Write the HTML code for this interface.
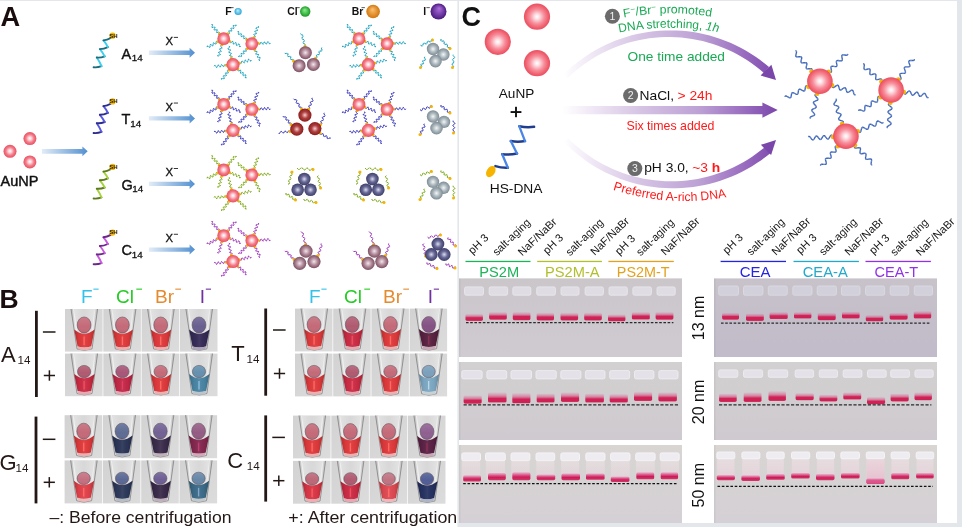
<!DOCTYPE html>
<html><head><meta charset="utf-8"><title>Figure</title>
<style>html,body{margin:0;padding:0;background:#e3e6ea;}body{width:962px;height:527px;overflow:hidden;}svg{display:block;}</style>
</head><body>
<svg width="962" height="527" viewBox="0 0 962 527" font-family="'Liberation Sans', Arial, sans-serif"><defs>
<radialGradient id="gNP" cx="0.5" cy="0.5" r="0.5" fx="0.5" fy="0.48">
 <stop offset="0" stop-color="#ffffff"/><stop offset="0.25" stop-color="#fcd4d9"/><stop offset="0.62" stop-color="#f47c8a"/><stop offset="1" stop-color="#e8505f"/>
</radialGradient>
<radialGradient id="gNPb" cx="0.5" cy="0.5" r="0.5" fx="0.5" fy="0.5">
 <stop offset="0" stop-color="#ffffff"/><stop offset="0.18" stop-color="#fde2e6"/><stop offset="0.55" stop-color="#f78e9b"/><stop offset="0.85" stop-color="#f0606f"/><stop offset="1" stop-color="#ea5062"/>
</radialGradient>
<radialGradient id="gMauve" cx="0.5" cy="0.5" r="0.5" fx="0.5" fy="0.5">
 <stop offset="0" stop-color="#f2e6ec"/><stop offset="0.55" stop-color="#b08898"/><stop offset="1" stop-color="#7c5062"/>
</radialGradient>
<radialGradient id="gDred" cx="0.5" cy="0.5" r="0.5" fx="0.5" fy="0.5">
 <stop offset="0" stop-color="#f4d0d0"/><stop offset="0.5" stop-color="#b04040"/><stop offset="1" stop-color="#8a1c1c"/>
</radialGradient>
<radialGradient id="gDblue" cx="0.5" cy="0.5" r="0.5" fx="0.5" fy="0.5">
 <stop offset="0" stop-color="#dcdcf0"/><stop offset="0.5" stop-color="#6a6a98"/><stop offset="1" stop-color="#3e3e6a"/>
</radialGradient>
<radialGradient id="gGray" cx="0.5" cy="0.5" r="0.5" fx="0.5" fy="0.5">
 <stop offset="0" stop-color="#f4f6f7"/><stop offset="0.55" stop-color="#aab6bc"/><stop offset="1" stop-color="#7e8c94"/>
</radialGradient>
<radialGradient id="gF" cx="0.5" cy="0.5" r="0.5" fx="0.45" fy="0.35"><stop offset="0" stop-color="#bdf0ff"/><stop offset="1" stop-color="#2aa6d8"/></radialGradient>
<radialGradient id="gCl" cx="0.5" cy="0.5" r="0.5" fx="0.45" fy="0.35"><stop offset="0" stop-color="#8af08a"/><stop offset="1" stop-color="#1a9a26"/></radialGradient>
<radialGradient id="gBr" cx="0.5" cy="0.5" r="0.5" fx="0.45" fy="0.35"><stop offset="0" stop-color="#ffc070"/><stop offset="1" stop-color="#d0760c"/></radialGradient>
<radialGradient id="gI" cx="0.5" cy="0.5" r="0.5" fx="0.55" fy="0.3"><stop offset="0" stop-color="#b070e0"/><stop offset="1" stop-color="#4a1a80"/></radialGradient>
<linearGradient id="gArrA" x1="0" x2="1" y1="0" y2="0"><stop offset="0" stop-color="#e2ecf7"/><stop offset="1" stop-color="#5290d0"/></linearGradient>
<linearGradient id="gArrC" x1="0" x2="1" y1="0" y2="0"><stop offset="0" stop-color="#ffffff"/><stop offset="0.15" stop-color="#efe6f4"/><stop offset="1" stop-color="#7a44aa"/></linearGradient>
<linearGradient id="gArcT" gradientUnits="userSpaceOnUse" x1="562" y1="0" x2="778" y2="0"><stop offset="0" stop-color="#ffffff"/><stop offset="0.12" stop-color="#f2ebf7"/><stop offset="0.36" stop-color="#d6c4e4"/><stop offset="0.64" stop-color="#bca0d4"/><stop offset="0.86" stop-color="#9668be"/><stop offset="1" stop-color="#7a46aa"/></linearGradient>

<linearGradient id="gMen" x1="0" x2="0" y1="0" y2="1"><stop offset="0" stop-color="#ffffff" stop-opacity="0.12"/><stop offset="0.6" stop-color="#ffffff" stop-opacity="0"/><stop offset="1" stop-color="#000000" stop-opacity="0.06"/></linearGradient>
<linearGradient id="gLiqShade" x1="0" x2="1" y1="0" y2="0"><stop offset="0" stop-color="#000" stop-opacity="0.22"/><stop offset="0.25" stop-color="#000" stop-opacity="0.03"/><stop offset="0.5" stop-color="#fff" stop-opacity="0.06"/><stop offset="0.75" stop-color="#000" stop-opacity="0.03"/><stop offset="1" stop-color="#000" stop-opacity="0.22"/></linearGradient>
<linearGradient id="gTube" x1="0" x2="1" y1="0" y2="0"><stop offset="0" stop-color="#a8a8a8" stop-opacity="0.6"/><stop offset="0.15" stop-color="#e8e8e8" stop-opacity="0.65"/><stop offset="0.5" stop-color="#dcdcdc" stop-opacity="0.4"/><stop offset="0.85" stop-color="#e8e8e8" stop-opacity="0.65"/><stop offset="1" stop-color="#a8a8a8" stop-opacity="0.6"/></linearGradient>
<linearGradient id="gBg" x1="0" x2="1" y1="0" y2="1"><stop offset="0" stop-color="#d2d2d2"/><stop offset="1" stop-color="#dcdcdc"/></linearGradient>
<path id="tp1" d="M 560,38.8 A 250 250 0 0 1 780,38.8"/><path id="tp2" d="M 555,53.8 A 266 266 0 0 1 785,53.8"/><path id="tp3" d="M 560,164.7 A 230 230 0 0 0 808,164.7"/>
<linearGradient id="gGelL" x1="0" x2="0" y1="0" y2="1"><stop offset="0" stop-color="#cbc6ca"/><stop offset="0.45" stop-color="#ccc8cd"/><stop offset="1" stop-color="#cfcbd1"/></linearGradient>
<linearGradient id="gGelR1" x1="0" x2="0" y1="0" y2="1"><stop offset="0" stop-color="#c8c2ca"/><stop offset="1" stop-color="#c1bbca"/></linearGradient>
<linearGradient id="gGel2" x1="0" x2="0" y1="0" y2="1"><stop offset="0" stop-color="#d3d0d1"/><stop offset="1" stop-color="#cecacf"/></linearGradient>
<linearGradient id="gGel3" x1="0" x2="0" y1="0" y2="1"><stop offset="0" stop-color="#d8d5d3"/><stop offset="1" stop-color="#d4d0d5"/></linearGradient>
<filter id="soft" x="-5%" y="-20%" width="110%" height="140%"><feGaussianBlur stdDeviation="0.45"/></filter>
<linearGradient id="gBand" x1="0" x2="0" y1="0" y2="1"><stop offset="0" stop-color="#dc5a8c" stop-opacity="0.05"/><stop offset="0.3" stop-color="#d84c80" stop-opacity="0.5"/><stop offset="0.55" stop-color="#d02256"/><stop offset="0.9" stop-color="#cc2052"/><stop offset="1" stop-color="#d4446c"/></linearGradient>
<linearGradient id="gBand20" x1="0" x2="0" y1="0" y2="1"><stop offset="0" stop-color="#dc5a8c" stop-opacity="0.05"/><stop offset="0.35" stop-color="#d84c80" stop-opacity="0.55"/><stop offset="0.6" stop-color="#d02256"/><stop offset="0.92" stop-color="#cc2052"/><stop offset="1" stop-color="#d4446c"/></linearGradient>
<linearGradient id="gBand50" x1="0" x2="0" y1="0" y2="1"><stop offset="0" stop-color="#e0609a" stop-opacity="0.3"/><stop offset="0.35" stop-color="#dc3c7a" stop-opacity="0.85"/><stop offset="0.6" stop-color="#cc1e58"/><stop offset="1" stop-color="#d03a68"/></linearGradient>
<linearGradient id="gLane" x1="0" x2="0" y1="0" y2="1"><stop offset="0" stop-color="#ece0e4" stop-opacity="0.7"/><stop offset="1" stop-color="#e8d0d8" stop-opacity="0.75"/></linearGradient>
<linearGradient id="gLane7" x1="0" x2="0" y1="0" y2="1"><stop offset="0" stop-color="#ead6dc"/><stop offset="1" stop-color="#e6c2d0"/></linearGradient>
<linearGradient id="gBand7" x1="0" x2="0" y1="0" y2="1"><stop offset="0" stop-color="#e070a0" stop-opacity="0.3"/><stop offset="0.4" stop-color="#dc5a8e"/><stop offset="1" stop-color="#d84c84"/></linearGradient>
<linearGradient id="gLaneL" x1="0" x2="0" y1="0" y2="1"><stop offset="0" stop-color="#ece2e4" stop-opacity="0.6"/><stop offset="1" stop-color="#e6d2da" stop-opacity="0.6"/></linearGradient>
</defs><rect x="0" y="0" width="962" height="527" fill="#e3e6ea"/>
<rect x="0" y="1" width="457.4" height="526" fill="#ffffff"/>
<rect x="459" y="1" width="498" height="522" fill="#ffffff"/>
<text x="0.4" y="25.9" font-size="27.2" fill="#1a0d0d" font-weight="bold" text-anchor="start">A</text>
<circle cx="29.9" cy="138.6" r="6.5" fill="url(#gNP)"/>
<circle cx="10" cy="151.3" r="6.5" fill="url(#gNP)"/>
<circle cx="29.9" cy="161.9" r="6.5" fill="url(#gNP)"/>
<text x="0.6" y="185.9" font-size="14.4" fill="#111" font-weight="normal" text-anchor="start" textLength="37.8" lengthAdjust="spacingAndGlyphs" stroke="#111" stroke-width="0.45">AuNP</text>
<path d="M41.9,148.9 L82.4,148.9 L82.4,146.4 L87.7,151.3 L82.4,156.2 L82.4,153.7 L41.9,153.7 Z" fill="url(#gArrA)"/>
<path d="M93.6,67.3 Q97.55,67.75 101.5,66.2" fill="none" stroke="#1d6c7c" stroke-width="1.9" stroke-linecap="round"/>
<path d="M101.5,66.2 Q99.95,62.15 96.8,57.5" fill="none" stroke="#3cd0ee" stroke-width="1.9" stroke-linecap="round"/>
<path d="M96.8,57.5 Q100.75,57.9 104.7,56.3" fill="none" stroke="#1d6c7c" stroke-width="1.9" stroke-linecap="round"/>
<path d="M104.7,56.3 Q103.1,53 99.9,49.1" fill="none" stroke="#3cd0ee" stroke-width="1.9" stroke-linecap="round"/>
<path d="M99.9,49.1 Q103.9,49.1 107.9,47.1" fill="none" stroke="#1d6c7c" stroke-width="1.9" stroke-linecap="round"/>
<path d="M107.9,47.1 Q106.5,44.05 103.5,40.4" fill="none" stroke="#3cd0ee" stroke-width="1.9" stroke-linecap="round"/>
<path d="M103.5,40.4 Q107.1,40.2 110.7,38" fill="none" stroke="#1d6c7c" stroke-width="1.9" stroke-linecap="round"/>
<circle cx="112.6" cy="35.7" r="3.1" fill="#f6b800"/>
<text x="109.2" y="37.5" font-size="5.2" fill="#1a1a1a" font-weight="bold" text-anchor="start" textLength="8.4" lengthAdjust="spacingAndGlyphs">SH</text>
<text x="121.5" y="58.5" font-size="14.5" fill="#111" font-weight="normal" text-anchor="start" stroke="#111" stroke-width="0.4">A</text>
<text x="131.7" y="61.2" font-size="9.8" fill="#111" font-weight="normal" text-anchor="start" stroke="#111" stroke-width="0.3">14</text>
<text x="165.5" y="45" font-size="11.3" fill="#111" font-weight="normal" text-anchor="start" stroke="#111" stroke-width="0.3">X</text>
<rect x="173.8" y="36.9" width="4.2" height="0.9" fill="#222"/>
<path d="M148.9,50.5 L189.6,50.5 L189.6,47.7 L195,52.7 L189.6,57.7 L189.6,54.9 L148.9,54.9 Z" fill="url(#gArrA)"/>
<path d="M93.6,133 Q97.55,133.45 101.5,131.9" fill="none" stroke="#2c2c8c" stroke-width="1.9" stroke-linecap="round"/>
<path d="M101.5,131.9 Q99.95,127.85 96.8,123.2" fill="none" stroke="#5858e0" stroke-width="1.9" stroke-linecap="round"/>
<path d="M96.8,123.2 Q100.75,123.6 104.7,122" fill="none" stroke="#2c2c8c" stroke-width="1.9" stroke-linecap="round"/>
<path d="M104.7,122 Q103.1,118.7 99.9,114.8" fill="none" stroke="#5858e0" stroke-width="1.9" stroke-linecap="round"/>
<path d="M99.9,114.8 Q103.9,114.8 107.9,112.8" fill="none" stroke="#2c2c8c" stroke-width="1.9" stroke-linecap="round"/>
<path d="M107.9,112.8 Q106.5,109.75 103.5,106.1" fill="none" stroke="#5858e0" stroke-width="1.9" stroke-linecap="round"/>
<path d="M103.5,106.1 Q107.1,105.9 110.7,103.7" fill="none" stroke="#2c2c8c" stroke-width="1.9" stroke-linecap="round"/>
<circle cx="112.6" cy="101.4" r="3.1" fill="#f6b800"/>
<text x="109.2" y="103.2" font-size="5.2" fill="#1a1a1a" font-weight="bold" text-anchor="start" textLength="8.4" lengthAdjust="spacingAndGlyphs">SH</text>
<text x="121.5" y="124.2" font-size="14.5" fill="#111" font-weight="normal" text-anchor="start" stroke="#111" stroke-width="0.4">T</text>
<text x="130.3" y="126.9" font-size="9.8" fill="#111" font-weight="normal" text-anchor="start" stroke="#111" stroke-width="0.3">14</text>
<text x="165.5" y="110.7" font-size="11.3" fill="#111" font-weight="normal" text-anchor="start" stroke="#111" stroke-width="0.3">X</text>
<rect x="173.8" y="102.6" width="4.2" height="0.9" fill="#222"/>
<path d="M148.9,116.2 L189.6,116.2 L189.6,113.4 L195,118.4 L189.6,123.4 L189.6,120.6 L148.9,120.6 Z" fill="url(#gArrA)"/>
<path d="M93.6,198.5 Q97.55,198.95 101.5,197.4" fill="none" stroke="#5a7a1c" stroke-width="1.9" stroke-linecap="round"/>
<path d="M101.5,197.4 Q99.95,193.35 96.8,188.7" fill="none" stroke="#a6d23c" stroke-width="1.9" stroke-linecap="round"/>
<path d="M96.8,188.7 Q100.75,189.1 104.7,187.5" fill="none" stroke="#5a7a1c" stroke-width="1.9" stroke-linecap="round"/>
<path d="M104.7,187.5 Q103.1,184.2 99.9,180.3" fill="none" stroke="#a6d23c" stroke-width="1.9" stroke-linecap="round"/>
<path d="M99.9,180.3 Q103.9,180.3 107.9,178.3" fill="none" stroke="#5a7a1c" stroke-width="1.9" stroke-linecap="round"/>
<path d="M107.9,178.3 Q106.5,175.25 103.5,171.6" fill="none" stroke="#a6d23c" stroke-width="1.9" stroke-linecap="round"/>
<path d="M103.5,171.6 Q107.1,171.4 110.7,169.2" fill="none" stroke="#5a7a1c" stroke-width="1.9" stroke-linecap="round"/>
<circle cx="112.6" cy="166.9" r="3.1" fill="#f6b800"/>
<text x="109.2" y="168.7" font-size="5.2" fill="#1a1a1a" font-weight="bold" text-anchor="start" textLength="8.4" lengthAdjust="spacingAndGlyphs">SH</text>
<text x="121.5" y="189.7" font-size="14.5" fill="#111" font-weight="normal" text-anchor="start" stroke="#111" stroke-width="0.4">G</text>
<text x="132.3" y="192.4" font-size="9.8" fill="#111" font-weight="normal" text-anchor="start" stroke="#111" stroke-width="0.3">14</text>
<text x="165.5" y="176.2" font-size="11.3" fill="#111" font-weight="normal" text-anchor="start" stroke="#111" stroke-width="0.3">X</text>
<rect x="173.8" y="168.1" width="4.2" height="0.9" fill="#222"/>
<path d="M148.9,181.7 L189.6,181.7 L189.6,178.9 L195,183.9 L189.6,188.9 L189.6,186.1 L148.9,186.1 Z" fill="url(#gArrA)"/>
<path d="M93.6,264.2 Q97.55,264.65 101.5,263.1" fill="none" stroke="#6a2888" stroke-width="1.9" stroke-linecap="round"/>
<path d="M101.5,263.1 Q99.95,259.05 96.8,254.4" fill="none" stroke="#c85ae0" stroke-width="1.9" stroke-linecap="round"/>
<path d="M96.8,254.4 Q100.75,254.8 104.7,253.2" fill="none" stroke="#6a2888" stroke-width="1.9" stroke-linecap="round"/>
<path d="M104.7,253.2 Q103.1,249.9 99.9,246" fill="none" stroke="#c85ae0" stroke-width="1.9" stroke-linecap="round"/>
<path d="M99.9,246 Q103.9,246 107.9,244" fill="none" stroke="#6a2888" stroke-width="1.9" stroke-linecap="round"/>
<path d="M107.9,244 Q106.5,240.95 103.5,237.3" fill="none" stroke="#c85ae0" stroke-width="1.9" stroke-linecap="round"/>
<path d="M103.5,237.3 Q107.1,237.1 110.7,234.9" fill="none" stroke="#6a2888" stroke-width="1.9" stroke-linecap="round"/>
<circle cx="112.6" cy="232.6" r="3.1" fill="#f6b800"/>
<text x="109.2" y="234.4" font-size="5.2" fill="#1a1a1a" font-weight="bold" text-anchor="start" textLength="8.4" lengthAdjust="spacingAndGlyphs">SH</text>
<text x="121.5" y="255.4" font-size="14.5" fill="#111" font-weight="normal" text-anchor="start" stroke="#111" stroke-width="0.4">C</text>
<text x="131.7" y="258.1" font-size="9.8" fill="#111" font-weight="normal" text-anchor="start" stroke="#111" stroke-width="0.3">14</text>
<text x="165.5" y="241.9" font-size="11.3" fill="#111" font-weight="normal" text-anchor="start" stroke="#111" stroke-width="0.3">X</text>
<rect x="173.8" y="233.8" width="4.2" height="0.9" fill="#222"/>
<path d="M148.9,247.4 L189.6,247.4 L189.6,244.6 L195,249.6 L189.6,254.6 L189.6,251.8 L148.9,251.8 Z" fill="url(#gArrA)"/>
<text x="225.2" y="15.2" font-size="10.4" fill="#111" font-weight="bold" text-anchor="start">F</text>
<rect x="230.6" y="7.3" width="3" height="0.8" fill="#333"/>
<circle cx="238.1" cy="11.5" r="3.6" fill="url(#gF)"/>
<text x="287.2" y="15.2" font-size="10.4" fill="#111" font-weight="bold" text-anchor="start">Cl</text>
<rect x="296.3" y="7.3" width="3.4" height="0.8" fill="#333"/>
<circle cx="305.2" cy="11.5" r="5.2" fill="url(#gCl)"/>
<text x="351.7" y="15.2" font-size="10.4" fill="#111" font-weight="bold" text-anchor="start">Br</text>
<rect x="361.5" y="7.3" width="3.4" height="0.8" fill="#333"/>
<circle cx="373.1" cy="11.5" r="6.8" fill="url(#gBr)"/>
<text x="423.3" y="15.2" font-size="10.4" fill="#111" font-weight="bold" text-anchor="start">I</text>
<rect x="426.4" y="7.3" width="3.4" height="0.8" fill="#333"/>
<circle cx="438.5" cy="11.5" r="8" fill="url(#gI)"/>
<path d="M219.02,33.5 L219.27,32.82 L219.34,32.3 L219.12,32.05 L218.6,32.07 L217.89,32.25 L217.19,32.44 L216.67,32.45 L216.44,32.2 L216.52,31.69 L216.77,31.01 L217.03,30.32 L217.1,29.81 L216.88,29.56 L216.36,29.58 L215.65,29.76 L214.95,29.94 L214.42,29.96 L214.2,29.71 L214.27,29.2 L214.53,28.51 L214.79,27.83 L214.86,27.32 L214.63,27.07 L214.11,27.09 L213.41,27.27 L212.7,27.45 L212.18,27.47 L211.96,27.22 L212.03,26.7 L212.29,26.02 L212.54,25.34 L212.61,24.82 L212.39,24.58 L211.87,24.59" fill="none" stroke="#3cd0ee" stroke-width="1" stroke-linecap="round" stroke-linejoin="round"/><path d="M219.02,33.5 L219.27,32.82 L219.34,32.3 L219.12,32.05 L218.6,32.07 L217.89,32.25 L217.19,32.44 L216.67,32.45 L216.44,32.2 L216.52,31.69 L216.77,31.01 L217.03,30.32 L217.1,29.81 L216.88,29.56 L216.36,29.58 L215.65,29.76 L214.95,29.94 L214.42,29.96 L214.2,29.71 L214.27,29.2 L214.53,28.51 L214.79,27.83 L214.86,27.32 L214.63,27.07 L214.11,27.09 L213.41,27.27 L212.7,27.45 L212.18,27.47 L211.96,27.22 L212.03,26.7 L212.29,26.02 L212.54,25.34 L212.61,24.82 L212.39,24.58 L211.87,24.59" fill="none" stroke="#1d6c7c" stroke-width="0.8" stroke-linecap="round" stroke-linejoin="round" stroke-dasharray="0.9 2.1" opacity="0.8"/><path d="M228.2,33.34 L228.91,33.5 L229.43,33.5 L229.65,33.24 L229.56,32.73 L229.28,32.05 L229,31.38 L228.91,30.87 L229.12,30.61 L229.64,30.61 L230.35,30.77 L231.07,30.93 L231.59,30.93 L231.8,30.67 L231.71,30.16 L231.43,29.48 L231.15,28.81 L231.06,28.3 L231.28,28.04 L231.8,28.04 L232.51,28.2 L233.22,28.36 L233.74,28.36 L233.96,28.1 L233.87,27.59 L233.59,26.92 L233.31,26.24 L233.22,25.73 L233.43,25.47 L233.95,25.47 L234.67,25.63 L235.38,25.79 L235.9,25.79 L236.11,25.53 L236.02,25.02" fill="none" stroke="#3cd0ee" stroke-width="1" stroke-linecap="round" stroke-linejoin="round"/><path d="M228.2,33.34 L228.91,33.5 L229.43,33.5 L229.65,33.24 L229.56,32.73 L229.28,32.05 L229,31.38 L228.91,30.87 L229.12,30.61 L229.64,30.61 L230.35,30.77 L231.07,30.93 L231.59,30.93 L231.8,30.67 L231.71,30.16 L231.43,29.48 L231.15,28.81 L231.06,28.3 L231.28,28.04 L231.8,28.04 L232.51,28.2 L233.22,28.36 L233.74,28.36 L233.96,28.1 L233.87,27.59 L233.59,26.92 L233.31,26.24 L233.22,25.73 L233.43,25.47 L233.95,25.47 L234.67,25.63 L235.38,25.79 L235.9,25.79 L236.11,25.53 L236.02,25.02" fill="none" stroke="#1d6c7c" stroke-width="0.8" stroke-linecap="round" stroke-linejoin="round" stroke-dasharray="0.9 2.1" opacity="0.8"/><path d="M230.14,41.44 L230.2,42.16 L230.35,42.66 L230.66,42.79 L231.13,42.55 L231.69,42.09 L232.25,41.63 L232.71,41.39 L233.02,41.52 L233.17,42.02 L233.23,42.75 L233.29,43.47 L233.44,43.97 L233.75,44.1 L234.21,43.86 L234.77,43.4 L235.33,42.94 L235.8,42.7 L236.11,42.83 L236.26,43.33 L236.32,44.06 L236.37,44.78 L236.52,45.28 L236.83,45.41 L237.3,45.17 L237.86,44.71 L238.42,44.25 L238.89,44.01 L239.19,44.14 L239.35,44.64 L239.4,45.37 L239.46,46.09 L239.61,46.59 L239.92,46.72 L240.38,46.48" fill="none" stroke="#3cd0ee" stroke-width="1" stroke-linecap="round" stroke-linejoin="round"/><path d="M230.14,41.44 L230.2,42.16 L230.35,42.66 L230.66,42.79 L231.13,42.55 L231.69,42.09 L232.25,41.63 L232.71,41.39 L233.02,41.52 L233.17,42.02 L233.23,42.75 L233.29,43.47 L233.44,43.97 L233.75,44.1 L234.21,43.86 L234.77,43.4 L235.33,42.94 L235.8,42.7 L236.11,42.83 L236.26,43.33 L236.32,44.06 L236.37,44.78 L236.52,45.28 L236.83,45.41 L237.3,45.17 L237.86,44.71 L238.42,44.25 L238.89,44.01 L239.19,44.14 L239.35,44.64 L239.4,45.37 L239.46,46.09 L239.61,46.59 L239.92,46.72 L240.38,46.48" fill="none" stroke="#1d6c7c" stroke-width="0.8" stroke-linecap="round" stroke-linejoin="round" stroke-dasharray="0.9 2.1" opacity="0.8"/><path d="M221.77,45.43 L221.06,45.57 L220.58,45.79 L220.49,46.11 L220.78,46.54 L221.31,47.04 L221.84,47.54 L222.13,47.97 L222.04,48.3 L221.56,48.51 L220.85,48.65 L220.13,48.8 L219.66,49.01 L219.56,49.33 L219.86,49.76 L220.38,50.26 L220.91,50.76 L221.21,51.2 L221.11,51.52 L220.64,51.73 L219.92,51.87 L219.21,52.02 L218.73,52.23 L218.64,52.55 L218.93,52.99 L219.46,53.49 L219.99,53.99 L220.28,54.42 L220.19,54.74 L219.71,54.95 L219,55.1 L218.28,55.24 L217.81,55.45 L217.72,55.78 L218.01,56.21" fill="none" stroke="#3cd0ee" stroke-width="1" stroke-linecap="round" stroke-linejoin="round"/><path d="M221.77,45.43 L221.06,45.57 L220.58,45.79 L220.49,46.11 L220.78,46.54 L221.31,47.04 L221.84,47.54 L222.13,47.97 L222.04,48.3 L221.56,48.51 L220.85,48.65 L220.13,48.8 L219.66,49.01 L219.56,49.33 L219.86,49.76 L220.38,50.26 L220.91,50.76 L221.21,51.2 L221.11,51.52 L220.64,51.73 L219.92,51.87 L219.21,52.02 L218.73,52.23 L218.64,52.55 L218.93,52.99 L219.46,53.49 L219.99,53.99 L220.28,54.42 L220.19,54.74 L219.71,54.95 L219,55.1 L218.28,55.24 L217.81,55.45 L217.72,55.78 L218.01,56.21" fill="none" stroke="#1d6c7c" stroke-width="0.8" stroke-linecap="round" stroke-linejoin="round" stroke-dasharray="0.9 2.1" opacity="0.8"/><path d="M217.52,41.99 L216.92,41.57 L216.44,41.38 L216.14,41.53 L216.03,42.05 L216.04,42.77 L216.05,43.5 L215.94,44.01 L215.64,44.17 L215.16,43.97 L214.56,43.56 L213.96,43.15 L213.48,42.95 L213.18,43.11 L213.07,43.62 L213.08,44.35 L213.09,45.08 L212.98,45.59 L212.68,45.74 L212.2,45.55 L211.6,45.13 L211,44.72 L210.52,44.53 L210.22,44.68 L210.11,45.19 L210.12,45.92 L210.13,46.65 L210.02,47.16 L209.72,47.32 L209.24,47.12 L208.64,46.71 L208.04,46.3 L207.55,46.1 L207.26,46.26 L207.15,46.77" fill="none" stroke="#3cd0ee" stroke-width="1" stroke-linecap="round" stroke-linejoin="round"/><path d="M217.52,41.99 L216.92,41.57 L216.44,41.38 L216.14,41.53 L216.03,42.05 L216.04,42.77 L216.05,43.5 L215.94,44.01 L215.64,44.17 L215.16,43.97 L214.56,43.56 L213.96,43.15 L213.48,42.95 L213.18,43.11 L213.07,43.62 L213.08,44.35 L213.09,45.08 L212.98,45.59 L212.68,45.74 L212.2,45.55 L211.6,45.13 L211,44.72 L210.52,44.53 L210.22,44.68 L210.11,45.19 L210.12,45.92 L210.13,46.65 L210.02,47.16 L209.72,47.32 L209.24,47.12 L208.64,46.71 L208.04,46.3 L207.55,46.1 L207.26,46.26 L207.15,46.77" fill="none" stroke="#1d6c7c" stroke-width="0.8" stroke-linecap="round" stroke-linejoin="round" stroke-dasharray="0.9 2.1" opacity="0.8"/><circle cx="219.42" cy="33.94" r="1.5" fill="#f6b400"/><circle cx="227.81" cy="33.8" r="1.5" fill="#f6b400"/><circle cx="229.59" cy="41.2" r="1.5" fill="#f6b400"/><circle cx="221.94" cy="44.85" r="1.5" fill="#f6b400"/><circle cx="218.05" cy="41.7" r="1.5" fill="#f6b400"/><circle cx="223.7" cy="38.7" r="6.4" fill="url(#gNP)"/><path d="M246.36,39.29 L246.51,38.58 L246.5,38.06 L246.24,37.85 L245.72,37.95 L245.06,38.24 L244.39,38.53 L243.88,38.63 L243.62,38.42 L243.61,37.9 L243.75,37.18 L243.9,36.47 L243.89,35.95 L243.63,35.74 L243.12,35.84 L242.45,36.13 L241.78,36.42 L241.27,36.52 L241.01,36.31 L241,35.79 L241.15,35.07 L241.29,34.36 L241.29,33.84 L241.03,33.63 L240.51,33.73 L239.85,34.02 L239.18,34.31 L238.67,34.41 L238.41,34.2 L238.4,33.68 L238.54,32.96 L238.69,32.25 L238.68,31.73 L238.42,31.52 L237.91,31.62" fill="none" stroke="#3cd0ee" stroke-width="1" stroke-linecap="round" stroke-linejoin="round"/><path d="M246.36,39.29 L246.51,38.58 L246.5,38.06 L246.24,37.85 L245.72,37.95 L245.06,38.24 L244.39,38.53 L243.88,38.63 L243.62,38.42 L243.61,37.9 L243.75,37.18 L243.9,36.47 L243.89,35.95 L243.63,35.74 L243.12,35.84 L242.45,36.13 L241.78,36.42 L241.27,36.52 L241.01,36.31 L241,35.79 L241.15,35.07 L241.29,34.36 L241.29,33.84 L241.03,33.63 L240.51,33.73 L239.85,34.02 L239.18,34.31 L238.67,34.41 L238.41,34.2 L238.4,33.68 L238.54,32.96 L238.69,32.25 L238.68,31.73 L238.42,31.52 L237.91,31.62" fill="none" stroke="#1d6c7c" stroke-width="0.8" stroke-linecap="round" stroke-linejoin="round" stroke-dasharray="0.9 2.1" opacity="0.8"/><path d="M254.08,37.08 L254.8,36.97 L255.29,36.79 L255.4,36.47 L255.13,36.02 L254.62,35.5 L254.12,34.97 L253.85,34.52 L253.96,34.2 L254.45,34.02 L255.17,33.91 L255.89,33.8 L256.38,33.62 L256.49,33.3 L256.22,32.85 L255.72,32.33 L255.21,31.8 L254.95,31.35 L255.05,31.03 L255.54,30.85 L256.26,30.74 L256.98,30.63 L257.47,30.45 L257.58,30.13 L257.31,29.68 L256.81,29.16 L256.31,28.63 L256.04,28.18 L256.15,27.86 L256.63,27.68 L257.35,27.57 L258.07,27.46 L258.56,27.28 L258.67,26.96 L258.4,26.51" fill="none" stroke="#3cd0ee" stroke-width="1" stroke-linecap="round" stroke-linejoin="round"/><path d="M254.08,37.08 L254.8,36.97 L255.29,36.79 L255.4,36.47 L255.13,36.02 L254.62,35.5 L254.12,34.97 L253.85,34.52 L253.96,34.2 L254.45,34.02 L255.17,33.91 L255.89,33.8 L256.38,33.62 L256.49,33.3 L256.22,32.85 L255.72,32.33 L255.21,31.8 L254.95,31.35 L255.05,31.03 L255.54,30.85 L256.26,30.74 L256.98,30.63 L257.47,30.45 L257.58,30.13 L257.31,29.68 L256.81,29.16 L256.31,28.63 L256.04,28.18 L256.15,27.86 L256.63,27.68 L257.35,27.57 L258.07,27.46 L258.56,27.28 L258.67,26.96 L258.4,26.51" fill="none" stroke="#1d6c7c" stroke-width="0.8" stroke-linecap="round" stroke-linejoin="round" stroke-dasharray="0.9 2.1" opacity="0.8"/><path d="M258.79,43.33 L259.16,43.96 L259.51,44.34 L259.85,44.33 L260.16,43.91 L260.46,43.25 L260.77,42.58 L261.08,42.17 L261.41,42.15 L261.77,42.53 L262.14,43.16 L262.51,43.79 L262.86,44.17 L263.2,44.15 L263.51,43.73 L263.81,43.07 L264.11,42.41 L264.43,41.99 L264.76,41.97 L265.12,42.35 L265.49,42.98 L265.86,43.61 L266.21,43.99 L266.55,43.97 L266.86,43.56 L267.16,42.89 L267.46,42.23 L267.78,41.82 L268.11,41.8 L268.47,42.18 L268.84,42.81 L269.2,43.44 L269.56,43.82 L269.89,43.8 L270.21,43.38" fill="none" stroke="#3cd0ee" stroke-width="1" stroke-linecap="round" stroke-linejoin="round"/><path d="M258.79,43.33 L259.16,43.96 L259.51,44.34 L259.85,44.33 L260.16,43.91 L260.46,43.25 L260.77,42.58 L261.08,42.17 L261.41,42.15 L261.77,42.53 L262.14,43.16 L262.51,43.79 L262.86,44.17 L263.2,44.15 L263.51,43.73 L263.81,43.07 L264.11,42.41 L264.43,41.99 L264.76,41.97 L265.12,42.35 L265.49,42.98 L265.86,43.61 L266.21,43.99 L266.55,43.97 L266.86,43.56 L267.16,42.89 L267.46,42.23 L267.78,41.82 L268.11,41.8 L268.47,42.18 L268.84,42.81 L269.2,43.44 L269.56,43.82 L269.89,43.8 L270.21,43.38" fill="none" stroke="#1d6c7c" stroke-width="0.8" stroke-linecap="round" stroke-linejoin="round" stroke-dasharray="0.9 2.1" opacity="0.8"/><path d="M254.98,49.94 L254.55,50.53 L254.35,51.01 L254.5,51.31 L255.01,51.43 L255.74,51.43 L256.47,51.44 L256.98,51.55 L257.13,51.85 L256.92,52.33 L256.5,52.92 L256.08,53.52 L255.87,54 L256.02,54.3 L256.53,54.41 L257.26,54.42 L257.99,54.42 L258.5,54.54 L258.65,54.84 L258.45,55.32 L258.02,55.91 L257.6,56.5 L257.39,56.98 L257.55,57.28 L258.06,57.4 L258.78,57.41 L259.51,57.41 L260.02,57.53 L260.17,57.83 L259.97,58.31 L259.54,58.9 L259.12,59.49 L258.92,59.97 L259.07,60.27 L259.58,60.39" fill="none" stroke="#3cd0ee" stroke-width="1" stroke-linecap="round" stroke-linejoin="round"/><path d="M254.98,49.94 L254.55,50.53 L254.35,51.01 L254.5,51.31 L255.01,51.43 L255.74,51.43 L256.47,51.44 L256.98,51.55 L257.13,51.85 L256.92,52.33 L256.5,52.92 L256.08,53.52 L255.87,54 L256.02,54.3 L256.53,54.41 L257.26,54.42 L257.99,54.42 L258.5,54.54 L258.65,54.84 L258.45,55.32 L258.02,55.91 L257.6,56.5 L257.39,56.98 L257.55,57.28 L258.06,57.4 L258.78,57.41 L259.51,57.41 L260.02,57.53 L260.17,57.83 L259.97,58.31 L259.54,58.9 L259.12,59.49 L258.92,59.97 L259.07,60.27 L259.58,60.39" fill="none" stroke="#1d6c7c" stroke-width="0.8" stroke-linecap="round" stroke-linejoin="round" stroke-dasharray="0.9 2.1" opacity="0.8"/><path d="M247.03,48.82 L246.32,48.62 L245.8,48.6 L245.57,48.84 L245.64,49.36 L245.88,50.05 L246.13,50.73 L246.19,51.25 L245.96,51.49 L245.44,51.47 L244.74,51.27 L244.04,51.08 L243.52,51.05 L243.29,51.29 L243.35,51.81 L243.6,52.5 L243.84,53.18 L243.9,53.7 L243.68,53.95 L243.15,53.92 L242.45,53.72 L241.75,53.53 L241.23,53.5 L241,53.75 L241.07,54.26 L241.31,54.95 L241.55,55.64 L241.62,56.15 L241.39,56.4 L240.87,56.37 L240.17,56.18 L239.46,55.98 L238.94,55.95 L238.71,56.2 L238.78,56.72" fill="none" stroke="#3cd0ee" stroke-width="1" stroke-linecap="round" stroke-linejoin="round"/><path d="M247.03,48.82 L246.32,48.62 L245.8,48.6 L245.57,48.84 L245.64,49.36 L245.88,50.05 L246.13,50.73 L246.19,51.25 L245.96,51.49 L245.44,51.47 L244.74,51.27 L244.04,51.08 L243.52,51.05 L243.29,51.29 L243.35,51.81 L243.6,52.5 L243.84,53.18 L243.9,53.7 L243.68,53.95 L243.15,53.92 L242.45,53.72 L241.75,53.53 L241.23,53.5 L241,53.75 L241.07,54.26 L241.31,54.95 L241.55,55.64 L241.62,56.15 L241.39,56.4 L240.87,56.37 L240.17,56.18 L239.46,55.98 L238.94,55.95 L238.71,56.2 L238.78,56.72" fill="none" stroke="#1d6c7c" stroke-width="0.8" stroke-linecap="round" stroke-linejoin="round" stroke-dasharray="0.9 2.1" opacity="0.8"/><circle cx="246.83" cy="39.67" r="1.5" fill="#f6b400"/><circle cx="253.88" cy="37.65" r="1.5" fill="#f6b400"/><circle cx="258.19" cy="43.37" r="1.5" fill="#f6b400"/><circle cx="254.71" cy="49.4" r="1.5" fill="#f6b400"/><circle cx="247.44" cy="48.38" r="1.5" fill="#f6b400"/><circle cx="251.8" cy="43.7" r="6.4" fill="url(#gNP)"/><path d="M231.26,57.61 L231.8,57.13 L232.11,56.71 L232.03,56.38 L231.56,56.16 L230.85,55.99 L230.14,55.82 L229.68,55.59 L229.59,55.26 L229.9,54.84 L230.45,54.36 L230.99,53.88 L231.3,53.46 L231.22,53.13 L230.75,52.9 L230.04,52.73 L229.33,52.56 L228.86,52.34 L228.78,52.01 L229.09,51.59 L229.64,51.11 L230.18,50.63 L230.49,50.2 L230.41,49.88 L229.94,49.65 L229.23,49.48 L228.52,49.31 L228.05,49.08 L227.97,48.76 L228.28,48.34 L228.82,47.85 L229.37,47.37 L229.68,46.95 L229.6,46.62 L229.13,46.4" fill="none" stroke="#3cd0ee" stroke-width="1" stroke-linecap="round" stroke-linejoin="round"/><path d="M231.26,57.61 L231.8,57.13 L232.11,56.71 L232.03,56.38 L231.56,56.16 L230.85,55.99 L230.14,55.82 L229.68,55.59 L229.59,55.26 L229.9,54.84 L230.45,54.36 L230.99,53.88 L231.3,53.46 L231.22,53.13 L230.75,52.9 L230.04,52.73 L229.33,52.56 L228.86,52.34 L228.78,52.01 L229.09,51.59 L229.64,51.11 L230.18,50.63 L230.49,50.2 L230.41,49.88 L229.94,49.65 L229.23,49.48 L228.52,49.31 L228.05,49.08 L227.97,48.76 L228.28,48.34 L228.82,47.85 L229.37,47.37 L229.68,46.95 L229.6,46.62 L229.13,46.4" fill="none" stroke="#1d6c7c" stroke-width="0.8" stroke-linecap="round" stroke-linejoin="round" stroke-dasharray="0.9 2.1" opacity="0.8"/><path d="M239.95,62.74 L240.45,63.27 L240.87,63.57 L241.2,63.49 L241.42,63.01 L241.57,62.3 L241.73,61.59 L241.95,61.12 L242.27,61.03 L242.7,61.33 L243.19,61.87 L243.68,62.41 L244.11,62.71 L244.44,62.62 L244.66,62.15 L244.81,61.43 L244.97,60.72 L245.19,60.25 L245.51,60.16 L245.94,60.46 L246.43,61 L246.92,61.54 L247.35,61.84 L247.67,61.75 L247.89,61.28 L248.05,60.57 L248.21,59.86 L248.43,59.38 L248.75,59.3 L249.18,59.6 L249.67,60.13 L250.16,60.67 L250.59,60.97 L250.91,60.88 L251.13,60.41" fill="none" stroke="#3cd0ee" stroke-width="1" stroke-linecap="round" stroke-linejoin="round"/><path d="M239.95,62.74 L240.45,63.27 L240.87,63.57 L241.2,63.49 L241.42,63.01 L241.57,62.3 L241.73,61.59 L241.95,61.12 L242.27,61.03 L242.7,61.33 L243.19,61.87 L243.68,62.41 L244.11,62.71 L244.44,62.62 L244.66,62.15 L244.81,61.43 L244.97,60.72 L245.19,60.25 L245.51,60.16 L245.94,60.46 L246.43,61 L246.92,61.54 L247.35,61.84 L247.67,61.75 L247.89,61.28 L248.05,60.57 L248.21,59.86 L248.43,59.38 L248.75,59.3 L249.18,59.6 L249.67,60.13 L250.16,60.67 L250.59,60.97 L250.91,60.88 L251.13,60.41" fill="none" stroke="#1d6c7c" stroke-width="0.8" stroke-linecap="round" stroke-linejoin="round" stroke-dasharray="0.9 2.1" opacity="0.8"/><path d="M238.27,69.51 L238.07,70.21 L238.04,70.73 L238.29,70.96 L238.81,70.9 L239.49,70.65 L240.18,70.41 L240.7,70.35 L240.94,70.57 L240.91,71.1 L240.72,71.8 L240.52,72.5 L240.49,73.02 L240.74,73.25 L241.26,73.18 L241.94,72.94 L242.63,72.7 L243.15,72.63 L243.39,72.86 L243.37,73.38 L243.17,74.08 L242.97,74.79 L242.95,75.31 L243.19,75.53 L243.71,75.47 L244.4,75.23 L245.08,74.98 L245.6,74.92 L245.85,75.15 L245.82,75.67 L245.62,76.37 L245.43,77.07 L245.4,77.59 L245.64,77.82 L246.16,77.76" fill="none" stroke="#3cd0ee" stroke-width="1" stroke-linecap="round" stroke-linejoin="round"/><path d="M238.27,69.51 L238.07,70.21 L238.04,70.73 L238.29,70.96 L238.81,70.9 L239.49,70.65 L240.18,70.41 L240.7,70.35 L240.94,70.57 L240.91,71.1 L240.72,71.8 L240.52,72.5 L240.49,73.02 L240.74,73.25 L241.26,73.18 L241.94,72.94 L242.63,72.7 L243.15,72.63 L243.39,72.86 L243.37,73.38 L243.17,74.08 L242.97,74.79 L242.95,75.31 L243.19,75.53 L243.71,75.47 L244.4,75.23 L245.08,74.98 L245.6,74.92 L245.85,75.15 L245.82,75.67 L245.62,76.37 L245.43,77.07 L245.4,77.59 L245.64,77.82 L246.16,77.76" fill="none" stroke="#1d6c7c" stroke-width="0.8" stroke-linecap="round" stroke-linejoin="round" stroke-dasharray="0.9 2.1" opacity="0.8"/><path d="M228.77,70.42 L228.05,70.32 L227.53,70.35 L227.33,70.62 L227.46,71.13 L227.78,71.78 L228.11,72.43 L228.23,72.94 L228.04,73.21 L227.52,73.25 L226.8,73.14 L226.08,73.03 L225.56,73.07 L225.36,73.34 L225.49,73.84 L225.81,74.49 L226.14,75.15 L226.26,75.65 L226.07,75.92 L225.55,75.96 L224.83,75.85 L224.11,75.74 L223.59,75.78 L223.39,76.05 L223.51,76.56 L223.84,77.21 L224.17,77.86 L224.29,78.36 L224.1,78.64 L223.58,78.67 L222.86,78.56 L222.14,78.45 L221.61,78.49 L221.42,78.76 L221.54,79.27" fill="none" stroke="#3cd0ee" stroke-width="1" stroke-linecap="round" stroke-linejoin="round"/><path d="M228.77,70.42 L228.05,70.32 L227.53,70.35 L227.33,70.62 L227.46,71.13 L227.78,71.78 L228.11,72.43 L228.23,72.94 L228.04,73.21 L227.52,73.25 L226.8,73.14 L226.08,73.03 L225.56,73.07 L225.36,73.34 L225.49,73.84 L225.81,74.49 L226.14,75.15 L226.26,75.65 L226.07,75.92 L225.55,75.96 L224.83,75.85 L224.11,75.74 L223.59,75.78 L223.39,76.05 L223.51,76.56 L223.84,77.21 L224.17,77.86 L224.29,78.36 L224.1,78.64 L223.58,78.67 L222.86,78.56 L222.14,78.45 L221.61,78.49 L221.42,78.76 L221.54,79.27" fill="none" stroke="#1d6c7c" stroke-width="0.8" stroke-linecap="round" stroke-linejoin="round" stroke-dasharray="0.9 2.1" opacity="0.8"/><path d="M225.84,65.35 L225.44,64.74 L225.06,64.38 L224.73,64.42 L224.44,64.85 L224.17,65.53 L223.91,66.21 L223.61,66.64 L223.28,66.67 L222.91,66.31 L222.5,65.7 L222.1,65.1 L221.73,64.73 L221.4,64.77 L221.1,65.2 L220.84,65.88 L220.57,66.56 L220.28,66.99 L219.95,67.02 L219.57,66.66 L219.17,66.05 L218.77,65.45 L218.39,65.08 L218.06,65.12 L217.77,65.55 L217.5,66.23 L217.24,66.91 L216.95,67.34 L216.61,67.37 L216.24,67.01 L215.84,66.4 L215.43,65.8 L215.06,65.43 L214.73,65.47 L214.43,65.9" fill="none" stroke="#3cd0ee" stroke-width="1" stroke-linecap="round" stroke-linejoin="round"/><path d="M225.84,65.35 L225.44,64.74 L225.06,64.38 L224.73,64.42 L224.44,64.85 L224.17,65.53 L223.91,66.21 L223.61,66.64 L223.28,66.67 L222.91,66.31 L222.5,65.7 L222.1,65.1 L221.73,64.73 L221.4,64.77 L221.1,65.2 L220.84,65.88 L220.57,66.56 L220.28,66.99 L219.95,67.02 L219.57,66.66 L219.17,66.05 L218.77,65.45 L218.39,65.08 L218.06,65.12 L217.77,65.55 L217.5,66.23 L217.24,66.91 L216.95,67.34 L216.61,67.37 L216.24,67.01 L215.84,66.4 L215.43,65.8 L215.06,65.43 L214.73,65.47 L214.43,65.9" fill="none" stroke="#1d6c7c" stroke-width="0.8" stroke-linecap="round" stroke-linejoin="round" stroke-dasharray="0.9 2.1" opacity="0.8"/><circle cx="231.4" cy="58.2" r="1.5" fill="#f6b400"/><circle cx="239.38" cy="62.89" r="1.5" fill="#f6b400"/><circle cx="237.83" cy="69.1" r="1.5" fill="#f6b400"/><circle cx="229.12" cy="69.94" r="1.5" fill="#f6b400"/><circle cx="226.44" cy="65.29" r="1.5" fill="#f6b400"/><circle cx="233" cy="64.6" r="6.6" fill="url(#gNP)"/>
<path d="M354.32,33.5 L354.57,32.82 L354.64,32.3 L354.42,32.05 L353.9,32.07 L353.19,32.25 L352.49,32.44 L351.97,32.45 L351.74,32.2 L351.82,31.69 L352.07,31.01 L352.33,30.32 L352.4,29.81 L352.18,29.56 L351.66,29.58 L350.95,29.76 L350.25,29.94 L349.72,29.96 L349.5,29.71 L349.57,29.2 L349.83,28.51 L350.09,27.83 L350.16,27.32 L349.93,27.07 L349.41,27.09 L348.71,27.27 L348,27.45 L347.48,27.47 L347.26,27.22 L347.33,26.7 L347.59,26.02 L347.84,25.34 L347.91,24.82 L347.69,24.58 L347.17,24.59" fill="none" stroke="#3cd0ee" stroke-width="1" stroke-linecap="round" stroke-linejoin="round"/><path d="M354.32,33.5 L354.57,32.82 L354.64,32.3 L354.42,32.05 L353.9,32.07 L353.19,32.25 L352.49,32.44 L351.97,32.45 L351.74,32.2 L351.82,31.69 L352.07,31.01 L352.33,30.32 L352.4,29.81 L352.18,29.56 L351.66,29.58 L350.95,29.76 L350.25,29.94 L349.72,29.96 L349.5,29.71 L349.57,29.2 L349.83,28.51 L350.09,27.83 L350.16,27.32 L349.93,27.07 L349.41,27.09 L348.71,27.27 L348,27.45 L347.48,27.47 L347.26,27.22 L347.33,26.7 L347.59,26.02 L347.84,25.34 L347.91,24.82 L347.69,24.58 L347.17,24.59" fill="none" stroke="#1d6c7c" stroke-width="0.8" stroke-linecap="round" stroke-linejoin="round" stroke-dasharray="0.9 2.1" opacity="0.8"/><path d="M363.5,33.34 L364.21,33.5 L364.73,33.5 L364.95,33.24 L364.86,32.73 L364.58,32.05 L364.3,31.38 L364.21,30.87 L364.42,30.61 L364.94,30.61 L365.65,30.77 L366.37,30.93 L366.89,30.93 L367.1,30.67 L367.01,30.16 L366.73,29.48 L366.45,28.81 L366.36,28.3 L366.58,28.04 L367.1,28.04 L367.81,28.2 L368.52,28.36 L369.04,28.36 L369.26,28.1 L369.17,27.59 L368.89,26.92 L368.61,26.24 L368.52,25.73 L368.73,25.47 L369.25,25.47 L369.97,25.63 L370.68,25.79 L371.2,25.79 L371.41,25.53 L371.32,25.02" fill="none" stroke="#3cd0ee" stroke-width="1" stroke-linecap="round" stroke-linejoin="round"/><path d="M363.5,33.34 L364.21,33.5 L364.73,33.5 L364.95,33.24 L364.86,32.73 L364.58,32.05 L364.3,31.38 L364.21,30.87 L364.42,30.61 L364.94,30.61 L365.65,30.77 L366.37,30.93 L366.89,30.93 L367.1,30.67 L367.01,30.16 L366.73,29.48 L366.45,28.81 L366.36,28.3 L366.58,28.04 L367.1,28.04 L367.81,28.2 L368.52,28.36 L369.04,28.36 L369.26,28.1 L369.17,27.59 L368.89,26.92 L368.61,26.24 L368.52,25.73 L368.73,25.47 L369.25,25.47 L369.97,25.63 L370.68,25.79 L371.2,25.79 L371.41,25.53 L371.32,25.02" fill="none" stroke="#1d6c7c" stroke-width="0.8" stroke-linecap="round" stroke-linejoin="round" stroke-dasharray="0.9 2.1" opacity="0.8"/><path d="M365.44,41.44 L365.5,42.16 L365.65,42.66 L365.96,42.79 L366.43,42.55 L366.99,42.09 L367.55,41.63 L368.01,41.39 L368.32,41.52 L368.47,42.02 L368.53,42.75 L368.59,43.47 L368.74,43.97 L369.05,44.1 L369.51,43.86 L370.07,43.4 L370.63,42.94 L371.1,42.7 L371.41,42.83 L371.56,43.33 L371.62,44.06 L371.67,44.78 L371.82,45.28 L372.13,45.41 L372.6,45.17 L373.16,44.71 L373.72,44.25 L374.19,44.01 L374.49,44.14 L374.65,44.64 L374.7,45.37 L374.76,46.09 L374.91,46.59 L375.22,46.72 L375.68,46.48" fill="none" stroke="#3cd0ee" stroke-width="1" stroke-linecap="round" stroke-linejoin="round"/><path d="M365.44,41.44 L365.5,42.16 L365.65,42.66 L365.96,42.79 L366.43,42.55 L366.99,42.09 L367.55,41.63 L368.01,41.39 L368.32,41.52 L368.47,42.02 L368.53,42.75 L368.59,43.47 L368.74,43.97 L369.05,44.1 L369.51,43.86 L370.07,43.4 L370.63,42.94 L371.1,42.7 L371.41,42.83 L371.56,43.33 L371.62,44.06 L371.67,44.78 L371.82,45.28 L372.13,45.41 L372.6,45.17 L373.16,44.71 L373.72,44.25 L374.19,44.01 L374.49,44.14 L374.65,44.64 L374.7,45.37 L374.76,46.09 L374.91,46.59 L375.22,46.72 L375.68,46.48" fill="none" stroke="#1d6c7c" stroke-width="0.8" stroke-linecap="round" stroke-linejoin="round" stroke-dasharray="0.9 2.1" opacity="0.8"/><path d="M357.07,45.43 L356.36,45.57 L355.88,45.79 L355.79,46.11 L356.08,46.54 L356.61,47.04 L357.14,47.54 L357.43,47.97 L357.34,48.3 L356.86,48.51 L356.15,48.65 L355.43,48.8 L354.96,49.01 L354.86,49.33 L355.16,49.76 L355.68,50.26 L356.21,50.76 L356.51,51.2 L356.41,51.52 L355.94,51.73 L355.22,51.87 L354.51,52.02 L354.03,52.23 L353.94,52.55 L354.23,52.99 L354.76,53.49 L355.29,53.99 L355.58,54.42 L355.49,54.74 L355.01,54.95 L354.3,55.1 L353.58,55.24 L353.11,55.45 L353.02,55.78 L353.31,56.21" fill="none" stroke="#3cd0ee" stroke-width="1" stroke-linecap="round" stroke-linejoin="round"/><path d="M357.07,45.43 L356.36,45.57 L355.88,45.79 L355.79,46.11 L356.08,46.54 L356.61,47.04 L357.14,47.54 L357.43,47.97 L357.34,48.3 L356.86,48.51 L356.15,48.65 L355.43,48.8 L354.96,49.01 L354.86,49.33 L355.16,49.76 L355.68,50.26 L356.21,50.76 L356.51,51.2 L356.41,51.52 L355.94,51.73 L355.22,51.87 L354.51,52.02 L354.03,52.23 L353.94,52.55 L354.23,52.99 L354.76,53.49 L355.29,53.99 L355.58,54.42 L355.49,54.74 L355.01,54.95 L354.3,55.1 L353.58,55.24 L353.11,55.45 L353.02,55.78 L353.31,56.21" fill="none" stroke="#1d6c7c" stroke-width="0.8" stroke-linecap="round" stroke-linejoin="round" stroke-dasharray="0.9 2.1" opacity="0.8"/><path d="M352.82,41.99 L352.22,41.57 L351.74,41.38 L351.44,41.53 L351.33,42.05 L351.34,42.77 L351.35,43.5 L351.24,44.01 L350.94,44.17 L350.46,43.97 L349.86,43.56 L349.26,43.15 L348.78,42.95 L348.48,43.11 L348.37,43.62 L348.38,44.35 L348.39,45.08 L348.28,45.59 L347.98,45.74 L347.5,45.55 L346.9,45.13 L346.3,44.72 L345.82,44.53 L345.52,44.68 L345.41,45.19 L345.42,45.92 L345.43,46.65 L345.32,47.16 L345.02,47.32 L344.54,47.12 L343.94,46.71 L343.34,46.3 L342.85,46.1 L342.56,46.26 L342.45,46.77" fill="none" stroke="#3cd0ee" stroke-width="1" stroke-linecap="round" stroke-linejoin="round"/><path d="M352.82,41.99 L352.22,41.57 L351.74,41.38 L351.44,41.53 L351.33,42.05 L351.34,42.77 L351.35,43.5 L351.24,44.01 L350.94,44.17 L350.46,43.97 L349.86,43.56 L349.26,43.15 L348.78,42.95 L348.48,43.11 L348.37,43.62 L348.38,44.35 L348.39,45.08 L348.28,45.59 L347.98,45.74 L347.5,45.55 L346.9,45.13 L346.3,44.72 L345.82,44.53 L345.52,44.68 L345.41,45.19 L345.42,45.92 L345.43,46.65 L345.32,47.16 L345.02,47.32 L344.54,47.12 L343.94,46.71 L343.34,46.3 L342.85,46.1 L342.56,46.26 L342.45,46.77" fill="none" stroke="#1d6c7c" stroke-width="0.8" stroke-linecap="round" stroke-linejoin="round" stroke-dasharray="0.9 2.1" opacity="0.8"/><circle cx="354.72" cy="33.94" r="1.5" fill="#f6b400"/><circle cx="363.11" cy="33.8" r="1.5" fill="#f6b400"/><circle cx="364.89" cy="41.2" r="1.5" fill="#f6b400"/><circle cx="357.24" cy="44.85" r="1.5" fill="#f6b400"/><circle cx="353.35" cy="41.7" r="1.5" fill="#f6b400"/><circle cx="359" cy="38.7" r="6.4" fill="url(#gNP)"/><path d="M381.66,39.29 L381.81,38.58 L381.8,38.06 L381.54,37.85 L381.02,37.95 L380.36,38.24 L379.69,38.53 L379.18,38.63 L378.92,38.42 L378.91,37.9 L379.05,37.18 L379.2,36.47 L379.19,35.95 L378.93,35.74 L378.42,35.84 L377.75,36.13 L377.08,36.42 L376.57,36.52 L376.31,36.31 L376.3,35.79 L376.45,35.07 L376.59,34.36 L376.59,33.84 L376.33,33.63 L375.81,33.73 L375.15,34.02 L374.48,34.31 L373.97,34.41 L373.71,34.2 L373.7,33.68 L373.84,32.96 L373.99,32.25 L373.98,31.73 L373.72,31.52 L373.21,31.62" fill="none" stroke="#3cd0ee" stroke-width="1" stroke-linecap="round" stroke-linejoin="round"/><path d="M381.66,39.29 L381.81,38.58 L381.8,38.06 L381.54,37.85 L381.02,37.95 L380.36,38.24 L379.69,38.53 L379.18,38.63 L378.92,38.42 L378.91,37.9 L379.05,37.18 L379.2,36.47 L379.19,35.95 L378.93,35.74 L378.42,35.84 L377.75,36.13 L377.08,36.42 L376.57,36.52 L376.31,36.31 L376.3,35.79 L376.45,35.07 L376.59,34.36 L376.59,33.84 L376.33,33.63 L375.81,33.73 L375.15,34.02 L374.48,34.31 L373.97,34.41 L373.71,34.2 L373.7,33.68 L373.84,32.96 L373.99,32.25 L373.98,31.73 L373.72,31.52 L373.21,31.62" fill="none" stroke="#1d6c7c" stroke-width="0.8" stroke-linecap="round" stroke-linejoin="round" stroke-dasharray="0.9 2.1" opacity="0.8"/><path d="M389.38,37.08 L390.1,36.97 L390.59,36.79 L390.7,36.47 L390.43,36.02 L389.92,35.5 L389.42,34.97 L389.15,34.52 L389.26,34.2 L389.75,34.02 L390.47,33.91 L391.19,33.8 L391.68,33.62 L391.79,33.3 L391.52,32.85 L391.02,32.33 L390.51,31.8 L390.25,31.35 L390.35,31.03 L390.84,30.85 L391.56,30.74 L392.28,30.63 L392.77,30.45 L392.88,30.13 L392.61,29.68 L392.11,29.16 L391.61,28.63 L391.34,28.18 L391.45,27.86 L391.93,27.68 L392.65,27.57 L393.37,27.46 L393.86,27.28 L393.97,26.96 L393.7,26.51" fill="none" stroke="#3cd0ee" stroke-width="1" stroke-linecap="round" stroke-linejoin="round"/><path d="M389.38,37.08 L390.1,36.97 L390.59,36.79 L390.7,36.47 L390.43,36.02 L389.92,35.5 L389.42,34.97 L389.15,34.52 L389.26,34.2 L389.75,34.02 L390.47,33.91 L391.19,33.8 L391.68,33.62 L391.79,33.3 L391.52,32.85 L391.02,32.33 L390.51,31.8 L390.25,31.35 L390.35,31.03 L390.84,30.85 L391.56,30.74 L392.28,30.63 L392.77,30.45 L392.88,30.13 L392.61,29.68 L392.11,29.16 L391.61,28.63 L391.34,28.18 L391.45,27.86 L391.93,27.68 L392.65,27.57 L393.37,27.46 L393.86,27.28 L393.97,26.96 L393.7,26.51" fill="none" stroke="#1d6c7c" stroke-width="0.8" stroke-linecap="round" stroke-linejoin="round" stroke-dasharray="0.9 2.1" opacity="0.8"/><path d="M394.09,43.33 L394.46,43.96 L394.81,44.34 L395.15,44.33 L395.46,43.91 L395.76,43.25 L396.07,42.58 L396.38,42.17 L396.71,42.15 L397.07,42.53 L397.44,43.16 L397.81,43.79 L398.16,44.17 L398.5,44.15 L398.81,43.73 L399.11,43.07 L399.41,42.41 L399.73,41.99 L400.06,41.97 L400.42,42.35 L400.79,42.98 L401.16,43.61 L401.51,43.99 L401.85,43.97 L402.16,43.56 L402.46,42.89 L402.76,42.23 L403.08,41.82 L403.41,41.8 L403.77,42.18 L404.14,42.81 L404.5,43.44 L404.86,43.82 L405.19,43.8 L405.51,43.38" fill="none" stroke="#3cd0ee" stroke-width="1" stroke-linecap="round" stroke-linejoin="round"/><path d="M394.09,43.33 L394.46,43.96 L394.81,44.34 L395.15,44.33 L395.46,43.91 L395.76,43.25 L396.07,42.58 L396.38,42.17 L396.71,42.15 L397.07,42.53 L397.44,43.16 L397.81,43.79 L398.16,44.17 L398.5,44.15 L398.81,43.73 L399.11,43.07 L399.41,42.41 L399.73,41.99 L400.06,41.97 L400.42,42.35 L400.79,42.98 L401.16,43.61 L401.51,43.99 L401.85,43.97 L402.16,43.56 L402.46,42.89 L402.76,42.23 L403.08,41.82 L403.41,41.8 L403.77,42.18 L404.14,42.81 L404.5,43.44 L404.86,43.82 L405.19,43.8 L405.51,43.38" fill="none" stroke="#1d6c7c" stroke-width="0.8" stroke-linecap="round" stroke-linejoin="round" stroke-dasharray="0.9 2.1" opacity="0.8"/><path d="M390.28,49.94 L389.85,50.53 L389.65,51.01 L389.8,51.31 L390.31,51.43 L391.04,51.43 L391.77,51.44 L392.28,51.55 L392.43,51.85 L392.22,52.33 L391.8,52.92 L391.38,53.52 L391.17,54 L391.32,54.3 L391.83,54.41 L392.56,54.42 L393.29,54.42 L393.8,54.54 L393.95,54.84 L393.75,55.32 L393.32,55.91 L392.9,56.5 L392.69,56.98 L392.85,57.28 L393.36,57.4 L394.08,57.41 L394.81,57.41 L395.32,57.53 L395.47,57.83 L395.27,58.31 L394.84,58.9 L394.42,59.49 L394.22,59.97 L394.37,60.27 L394.88,60.39" fill="none" stroke="#3cd0ee" stroke-width="1" stroke-linecap="round" stroke-linejoin="round"/><path d="M390.28,49.94 L389.85,50.53 L389.65,51.01 L389.8,51.31 L390.31,51.43 L391.04,51.43 L391.77,51.44 L392.28,51.55 L392.43,51.85 L392.22,52.33 L391.8,52.92 L391.38,53.52 L391.17,54 L391.32,54.3 L391.83,54.41 L392.56,54.42 L393.29,54.42 L393.8,54.54 L393.95,54.84 L393.75,55.32 L393.32,55.91 L392.9,56.5 L392.69,56.98 L392.85,57.28 L393.36,57.4 L394.08,57.41 L394.81,57.41 L395.32,57.53 L395.47,57.83 L395.27,58.31 L394.84,58.9 L394.42,59.49 L394.22,59.97 L394.37,60.27 L394.88,60.39" fill="none" stroke="#1d6c7c" stroke-width="0.8" stroke-linecap="round" stroke-linejoin="round" stroke-dasharray="0.9 2.1" opacity="0.8"/><path d="M382.33,48.82 L381.62,48.62 L381.1,48.6 L380.87,48.84 L380.94,49.36 L381.18,50.05 L381.43,50.73 L381.49,51.25 L381.26,51.49 L380.74,51.47 L380.04,51.27 L379.34,51.08 L378.82,51.05 L378.59,51.29 L378.65,51.81 L378.9,52.5 L379.14,53.18 L379.2,53.7 L378.98,53.95 L378.45,53.92 L377.75,53.72 L377.05,53.53 L376.53,53.5 L376.3,53.75 L376.37,54.26 L376.61,54.95 L376.85,55.64 L376.92,56.15 L376.69,56.4 L376.17,56.37 L375.47,56.18 L374.76,55.98 L374.24,55.95 L374.01,56.2 L374.08,56.72" fill="none" stroke="#3cd0ee" stroke-width="1" stroke-linecap="round" stroke-linejoin="round"/><path d="M382.33,48.82 L381.62,48.62 L381.1,48.6 L380.87,48.84 L380.94,49.36 L381.18,50.05 L381.43,50.73 L381.49,51.25 L381.26,51.49 L380.74,51.47 L380.04,51.27 L379.34,51.08 L378.82,51.05 L378.59,51.29 L378.65,51.81 L378.9,52.5 L379.14,53.18 L379.2,53.7 L378.98,53.95 L378.45,53.92 L377.75,53.72 L377.05,53.53 L376.53,53.5 L376.3,53.75 L376.37,54.26 L376.61,54.95 L376.85,55.64 L376.92,56.15 L376.69,56.4 L376.17,56.37 L375.47,56.18 L374.76,55.98 L374.24,55.95 L374.01,56.2 L374.08,56.72" fill="none" stroke="#1d6c7c" stroke-width="0.8" stroke-linecap="round" stroke-linejoin="round" stroke-dasharray="0.9 2.1" opacity="0.8"/><circle cx="382.13" cy="39.67" r="1.5" fill="#f6b400"/><circle cx="389.18" cy="37.65" r="1.5" fill="#f6b400"/><circle cx="393.49" cy="43.37" r="1.5" fill="#f6b400"/><circle cx="390.01" cy="49.4" r="1.5" fill="#f6b400"/><circle cx="382.74" cy="48.38" r="1.5" fill="#f6b400"/><circle cx="387.1" cy="43.7" r="6.4" fill="url(#gNP)"/><path d="M366.56,57.61 L367.1,57.13 L367.41,56.71 L367.33,56.38 L366.86,56.16 L366.15,55.99 L365.44,55.82 L364.98,55.59 L364.89,55.26 L365.2,54.84 L365.75,54.36 L366.29,53.88 L366.6,53.46 L366.52,53.13 L366.05,52.9 L365.34,52.73 L364.63,52.56 L364.16,52.34 L364.08,52.01 L364.39,51.59 L364.94,51.11 L365.48,50.63 L365.79,50.2 L365.71,49.88 L365.24,49.65 L364.53,49.48 L363.82,49.31 L363.35,49.08 L363.27,48.76 L363.58,48.34 L364.12,47.85 L364.67,47.37 L364.98,46.95 L364.9,46.62 L364.43,46.4" fill="none" stroke="#3cd0ee" stroke-width="1" stroke-linecap="round" stroke-linejoin="round"/><path d="M366.56,57.61 L367.1,57.13 L367.41,56.71 L367.33,56.38 L366.86,56.16 L366.15,55.99 L365.44,55.82 L364.98,55.59 L364.89,55.26 L365.2,54.84 L365.75,54.36 L366.29,53.88 L366.6,53.46 L366.52,53.13 L366.05,52.9 L365.34,52.73 L364.63,52.56 L364.16,52.34 L364.08,52.01 L364.39,51.59 L364.94,51.11 L365.48,50.63 L365.79,50.2 L365.71,49.88 L365.24,49.65 L364.53,49.48 L363.82,49.31 L363.35,49.08 L363.27,48.76 L363.58,48.34 L364.12,47.85 L364.67,47.37 L364.98,46.95 L364.9,46.62 L364.43,46.4" fill="none" stroke="#1d6c7c" stroke-width="0.8" stroke-linecap="round" stroke-linejoin="round" stroke-dasharray="0.9 2.1" opacity="0.8"/><path d="M375.25,62.74 L375.75,63.27 L376.17,63.57 L376.5,63.49 L376.72,63.01 L376.87,62.3 L377.03,61.59 L377.25,61.12 L377.57,61.03 L378,61.33 L378.49,61.87 L378.98,62.41 L379.41,62.71 L379.74,62.62 L379.96,62.15 L380.11,61.43 L380.27,60.72 L380.49,60.25 L380.81,60.16 L381.24,60.46 L381.73,61 L382.22,61.54 L382.65,61.84 L382.97,61.75 L383.19,61.28 L383.35,60.57 L383.51,59.86 L383.73,59.38 L384.05,59.3 L384.48,59.6 L384.97,60.13 L385.46,60.67 L385.89,60.97 L386.21,60.88 L386.43,60.41" fill="none" stroke="#3cd0ee" stroke-width="1" stroke-linecap="round" stroke-linejoin="round"/><path d="M375.25,62.74 L375.75,63.27 L376.17,63.57 L376.5,63.49 L376.72,63.01 L376.87,62.3 L377.03,61.59 L377.25,61.12 L377.57,61.03 L378,61.33 L378.49,61.87 L378.98,62.41 L379.41,62.71 L379.74,62.62 L379.96,62.15 L380.11,61.43 L380.27,60.72 L380.49,60.25 L380.81,60.16 L381.24,60.46 L381.73,61 L382.22,61.54 L382.65,61.84 L382.97,61.75 L383.19,61.28 L383.35,60.57 L383.51,59.86 L383.73,59.38 L384.05,59.3 L384.48,59.6 L384.97,60.13 L385.46,60.67 L385.89,60.97 L386.21,60.88 L386.43,60.41" fill="none" stroke="#1d6c7c" stroke-width="0.8" stroke-linecap="round" stroke-linejoin="round" stroke-dasharray="0.9 2.1" opacity="0.8"/><path d="M373.57,69.51 L373.37,70.21 L373.34,70.73 L373.59,70.96 L374.11,70.9 L374.79,70.65 L375.48,70.41 L376,70.35 L376.24,70.57 L376.21,71.1 L376.02,71.8 L375.82,72.5 L375.79,73.02 L376.04,73.25 L376.56,73.18 L377.24,72.94 L377.93,72.7 L378.45,72.63 L378.69,72.86 L378.67,73.38 L378.47,74.08 L378.27,74.79 L378.25,75.31 L378.49,75.53 L379.01,75.47 L379.7,75.23 L380.38,74.98 L380.9,74.92 L381.15,75.15 L381.12,75.67 L380.92,76.37 L380.73,77.07 L380.7,77.59 L380.94,77.82 L381.46,77.76" fill="none" stroke="#3cd0ee" stroke-width="1" stroke-linecap="round" stroke-linejoin="round"/><path d="M373.57,69.51 L373.37,70.21 L373.34,70.73 L373.59,70.96 L374.11,70.9 L374.79,70.65 L375.48,70.41 L376,70.35 L376.24,70.57 L376.21,71.1 L376.02,71.8 L375.82,72.5 L375.79,73.02 L376.04,73.25 L376.56,73.18 L377.24,72.94 L377.93,72.7 L378.45,72.63 L378.69,72.86 L378.67,73.38 L378.47,74.08 L378.27,74.79 L378.25,75.31 L378.49,75.53 L379.01,75.47 L379.7,75.23 L380.38,74.98 L380.9,74.92 L381.15,75.15 L381.12,75.67 L380.92,76.37 L380.73,77.07 L380.7,77.59 L380.94,77.82 L381.46,77.76" fill="none" stroke="#1d6c7c" stroke-width="0.8" stroke-linecap="round" stroke-linejoin="round" stroke-dasharray="0.9 2.1" opacity="0.8"/><path d="M364.07,70.42 L363.35,70.32 L362.83,70.35 L362.63,70.62 L362.76,71.13 L363.08,71.78 L363.41,72.43 L363.53,72.94 L363.34,73.21 L362.82,73.25 L362.1,73.14 L361.38,73.03 L360.86,73.07 L360.66,73.34 L360.79,73.84 L361.11,74.49 L361.44,75.15 L361.56,75.65 L361.37,75.92 L360.85,75.96 L360.13,75.85 L359.41,75.74 L358.89,75.78 L358.69,76.05 L358.81,76.56 L359.14,77.21 L359.47,77.86 L359.59,78.36 L359.4,78.64 L358.88,78.67 L358.16,78.56 L357.44,78.45 L356.91,78.49 L356.72,78.76 L356.84,79.27" fill="none" stroke="#3cd0ee" stroke-width="1" stroke-linecap="round" stroke-linejoin="round"/><path d="M364.07,70.42 L363.35,70.32 L362.83,70.35 L362.63,70.62 L362.76,71.13 L363.08,71.78 L363.41,72.43 L363.53,72.94 L363.34,73.21 L362.82,73.25 L362.1,73.14 L361.38,73.03 L360.86,73.07 L360.66,73.34 L360.79,73.84 L361.11,74.49 L361.44,75.15 L361.56,75.65 L361.37,75.92 L360.85,75.96 L360.13,75.85 L359.41,75.74 L358.89,75.78 L358.69,76.05 L358.81,76.56 L359.14,77.21 L359.47,77.86 L359.59,78.36 L359.4,78.64 L358.88,78.67 L358.16,78.56 L357.44,78.45 L356.91,78.49 L356.72,78.76 L356.84,79.27" fill="none" stroke="#1d6c7c" stroke-width="0.8" stroke-linecap="round" stroke-linejoin="round" stroke-dasharray="0.9 2.1" opacity="0.8"/><path d="M361.14,65.35 L360.74,64.74 L360.36,64.38 L360.03,64.42 L359.74,64.85 L359.47,65.53 L359.21,66.21 L358.91,66.64 L358.58,66.67 L358.21,66.31 L357.8,65.7 L357.4,65.1 L357.03,64.73 L356.7,64.77 L356.4,65.2 L356.14,65.88 L355.87,66.56 L355.58,66.99 L355.25,67.02 L354.87,66.66 L354.47,66.05 L354.07,65.45 L353.69,65.08 L353.36,65.12 L353.07,65.55 L352.8,66.23 L352.54,66.91 L352.25,67.34 L351.91,67.37 L351.54,67.01 L351.14,66.4 L350.73,65.8 L350.36,65.43 L350.03,65.47 L349.73,65.9" fill="none" stroke="#3cd0ee" stroke-width="1" stroke-linecap="round" stroke-linejoin="round"/><path d="M361.14,65.35 L360.74,64.74 L360.36,64.38 L360.03,64.42 L359.74,64.85 L359.47,65.53 L359.21,66.21 L358.91,66.64 L358.58,66.67 L358.21,66.31 L357.8,65.7 L357.4,65.1 L357.03,64.73 L356.7,64.77 L356.4,65.2 L356.14,65.88 L355.87,66.56 L355.58,66.99 L355.25,67.02 L354.87,66.66 L354.47,66.05 L354.07,65.45 L353.69,65.08 L353.36,65.12 L353.07,65.55 L352.8,66.23 L352.54,66.91 L352.25,67.34 L351.91,67.37 L351.54,67.01 L351.14,66.4 L350.73,65.8 L350.36,65.43 L350.03,65.47 L349.73,65.9" fill="none" stroke="#1d6c7c" stroke-width="0.8" stroke-linecap="round" stroke-linejoin="round" stroke-dasharray="0.9 2.1" opacity="0.8"/><circle cx="366.7" cy="58.2" r="1.5" fill="#f6b400"/><circle cx="374.68" cy="62.89" r="1.5" fill="#f6b400"/><circle cx="373.13" cy="69.1" r="1.5" fill="#f6b400"/><circle cx="364.42" cy="69.94" r="1.5" fill="#f6b400"/><circle cx="361.74" cy="65.29" r="1.5" fill="#f6b400"/><circle cx="368.3" cy="64.6" r="6.6" fill="url(#gNP)"/>
<path d="M219.02,99.2 L219.27,98.52 L219.34,98 L219.12,97.75 L218.6,97.77 L217.89,97.95 L217.19,98.14 L216.67,98.15 L216.44,97.9 L216.52,97.39 L216.77,96.71 L217.03,96.02 L217.1,95.51 L216.88,95.26 L216.36,95.28 L215.65,95.46 L214.95,95.64 L214.42,95.66 L214.2,95.41 L214.27,94.9 L214.53,94.21 L214.79,93.53 L214.86,93.02 L214.63,92.77 L214.11,92.79 L213.41,92.97 L212.7,93.15 L212.18,93.17 L211.96,92.92 L212.03,92.4 L212.29,91.72 L212.54,91.04 L212.61,90.52 L212.39,90.28 L211.87,90.29" fill="none" stroke="#5858e0" stroke-width="1" stroke-linecap="round" stroke-linejoin="round"/><path d="M219.02,99.2 L219.27,98.52 L219.34,98 L219.12,97.75 L218.6,97.77 L217.89,97.95 L217.19,98.14 L216.67,98.15 L216.44,97.9 L216.52,97.39 L216.77,96.71 L217.03,96.02 L217.1,95.51 L216.88,95.26 L216.36,95.28 L215.65,95.46 L214.95,95.64 L214.42,95.66 L214.2,95.41 L214.27,94.9 L214.53,94.21 L214.79,93.53 L214.86,93.02 L214.63,92.77 L214.11,92.79 L213.41,92.97 L212.7,93.15 L212.18,93.17 L211.96,92.92 L212.03,92.4 L212.29,91.72 L212.54,91.04 L212.61,90.52 L212.39,90.28 L211.87,90.29" fill="none" stroke="#2c2c8c" stroke-width="0.8" stroke-linecap="round" stroke-linejoin="round" stroke-dasharray="0.9 2.1" opacity="0.8"/><path d="M228.2,99.04 L228.91,99.2 L229.43,99.2 L229.65,98.94 L229.56,98.43 L229.28,97.75 L229,97.08 L228.91,96.57 L229.12,96.31 L229.64,96.31 L230.35,96.47 L231.07,96.63 L231.59,96.63 L231.8,96.37 L231.71,95.86 L231.43,95.18 L231.15,94.51 L231.06,94 L231.28,93.74 L231.8,93.74 L232.51,93.9 L233.22,94.06 L233.74,94.06 L233.96,93.8 L233.87,93.29 L233.59,92.62 L233.31,91.94 L233.22,91.43 L233.43,91.17 L233.95,91.17 L234.67,91.33 L235.38,91.49 L235.9,91.49 L236.11,91.23 L236.02,90.72" fill="none" stroke="#5858e0" stroke-width="1" stroke-linecap="round" stroke-linejoin="round"/><path d="M228.2,99.04 L228.91,99.2 L229.43,99.2 L229.65,98.94 L229.56,98.43 L229.28,97.75 L229,97.08 L228.91,96.57 L229.12,96.31 L229.64,96.31 L230.35,96.47 L231.07,96.63 L231.59,96.63 L231.8,96.37 L231.71,95.86 L231.43,95.18 L231.15,94.51 L231.06,94 L231.28,93.74 L231.8,93.74 L232.51,93.9 L233.22,94.06 L233.74,94.06 L233.96,93.8 L233.87,93.29 L233.59,92.62 L233.31,91.94 L233.22,91.43 L233.43,91.17 L233.95,91.17 L234.67,91.33 L235.38,91.49 L235.9,91.49 L236.11,91.23 L236.02,90.72" fill="none" stroke="#2c2c8c" stroke-width="0.8" stroke-linecap="round" stroke-linejoin="round" stroke-dasharray="0.9 2.1" opacity="0.8"/><path d="M230.14,107.14 L230.2,107.86 L230.35,108.36 L230.66,108.49 L231.13,108.25 L231.69,107.79 L232.25,107.33 L232.71,107.09 L233.02,107.22 L233.17,107.72 L233.23,108.45 L233.29,109.17 L233.44,109.67 L233.75,109.8 L234.21,109.56 L234.77,109.1 L235.33,108.64 L235.8,108.4 L236.11,108.53 L236.26,109.03 L236.32,109.76 L236.37,110.48 L236.52,110.98 L236.83,111.11 L237.3,110.87 L237.86,110.41 L238.42,109.95 L238.89,109.71 L239.19,109.84 L239.35,110.34 L239.4,111.07 L239.46,111.79 L239.61,112.29 L239.92,112.42 L240.38,112.18" fill="none" stroke="#5858e0" stroke-width="1" stroke-linecap="round" stroke-linejoin="round"/><path d="M230.14,107.14 L230.2,107.86 L230.35,108.36 L230.66,108.49 L231.13,108.25 L231.69,107.79 L232.25,107.33 L232.71,107.09 L233.02,107.22 L233.17,107.72 L233.23,108.45 L233.29,109.17 L233.44,109.67 L233.75,109.8 L234.21,109.56 L234.77,109.1 L235.33,108.64 L235.8,108.4 L236.11,108.53 L236.26,109.03 L236.32,109.76 L236.37,110.48 L236.52,110.98 L236.83,111.11 L237.3,110.87 L237.86,110.41 L238.42,109.95 L238.89,109.71 L239.19,109.84 L239.35,110.34 L239.4,111.07 L239.46,111.79 L239.61,112.29 L239.92,112.42 L240.38,112.18" fill="none" stroke="#2c2c8c" stroke-width="0.8" stroke-linecap="round" stroke-linejoin="round" stroke-dasharray="0.9 2.1" opacity="0.8"/><path d="M221.77,111.13 L221.06,111.27 L220.58,111.49 L220.49,111.81 L220.78,112.24 L221.31,112.74 L221.84,113.24 L222.13,113.67 L222.04,114 L221.56,114.21 L220.85,114.35 L220.13,114.5 L219.66,114.71 L219.56,115.03 L219.86,115.46 L220.38,115.96 L220.91,116.46 L221.21,116.9 L221.11,117.22 L220.64,117.43 L219.92,117.57 L219.21,117.72 L218.73,117.93 L218.64,118.25 L218.93,118.69 L219.46,119.19 L219.99,119.69 L220.28,120.12 L220.19,120.44 L219.71,120.65 L219,120.8 L218.28,120.94 L217.81,121.15 L217.72,121.48 L218.01,121.91" fill="none" stroke="#5858e0" stroke-width="1" stroke-linecap="round" stroke-linejoin="round"/><path d="M221.77,111.13 L221.06,111.27 L220.58,111.49 L220.49,111.81 L220.78,112.24 L221.31,112.74 L221.84,113.24 L222.13,113.67 L222.04,114 L221.56,114.21 L220.85,114.35 L220.13,114.5 L219.66,114.71 L219.56,115.03 L219.86,115.46 L220.38,115.96 L220.91,116.46 L221.21,116.9 L221.11,117.22 L220.64,117.43 L219.92,117.57 L219.21,117.72 L218.73,117.93 L218.64,118.25 L218.93,118.69 L219.46,119.19 L219.99,119.69 L220.28,120.12 L220.19,120.44 L219.71,120.65 L219,120.8 L218.28,120.94 L217.81,121.15 L217.72,121.48 L218.01,121.91" fill="none" stroke="#2c2c8c" stroke-width="0.8" stroke-linecap="round" stroke-linejoin="round" stroke-dasharray="0.9 2.1" opacity="0.8"/><path d="M217.52,107.69 L216.92,107.27 L216.44,107.08 L216.14,107.23 L216.03,107.75 L216.04,108.47 L216.05,109.2 L215.94,109.71 L215.64,109.87 L215.16,109.67 L214.56,109.26 L213.96,108.85 L213.48,108.65 L213.18,108.81 L213.07,109.32 L213.08,110.05 L213.09,110.78 L212.98,111.29 L212.68,111.44 L212.2,111.25 L211.6,110.83 L211,110.42 L210.52,110.23 L210.22,110.38 L210.11,110.89 L210.12,111.62 L210.13,112.35 L210.02,112.86 L209.72,113.02 L209.24,112.82 L208.64,112.41 L208.04,112 L207.55,111.8 L207.26,111.96 L207.15,112.47" fill="none" stroke="#5858e0" stroke-width="1" stroke-linecap="round" stroke-linejoin="round"/><path d="M217.52,107.69 L216.92,107.27 L216.44,107.08 L216.14,107.23 L216.03,107.75 L216.04,108.47 L216.05,109.2 L215.94,109.71 L215.64,109.87 L215.16,109.67 L214.56,109.26 L213.96,108.85 L213.48,108.65 L213.18,108.81 L213.07,109.32 L213.08,110.05 L213.09,110.78 L212.98,111.29 L212.68,111.44 L212.2,111.25 L211.6,110.83 L211,110.42 L210.52,110.23 L210.22,110.38 L210.11,110.89 L210.12,111.62 L210.13,112.35 L210.02,112.86 L209.72,113.02 L209.24,112.82 L208.64,112.41 L208.04,112 L207.55,111.8 L207.26,111.96 L207.15,112.47" fill="none" stroke="#2c2c8c" stroke-width="0.8" stroke-linecap="round" stroke-linejoin="round" stroke-dasharray="0.9 2.1" opacity="0.8"/><circle cx="219.42" cy="99.64" r="1.5" fill="#f6b400"/><circle cx="227.81" cy="99.5" r="1.5" fill="#f6b400"/><circle cx="229.59" cy="106.9" r="1.5" fill="#f6b400"/><circle cx="221.94" cy="110.55" r="1.5" fill="#f6b400"/><circle cx="218.05" cy="107.4" r="1.5" fill="#f6b400"/><circle cx="223.7" cy="104.4" r="6.4" fill="url(#gNP)"/><path d="M246.36,104.99 L246.51,104.28 L246.5,103.76 L246.24,103.55 L245.72,103.65 L245.06,103.94 L244.39,104.23 L243.88,104.33 L243.62,104.12 L243.61,103.6 L243.75,102.88 L243.9,102.17 L243.89,101.65 L243.63,101.44 L243.12,101.54 L242.45,101.83 L241.78,102.12 L241.27,102.22 L241.01,102.01 L241,101.49 L241.15,100.77 L241.29,100.06 L241.29,99.54 L241.03,99.33 L240.51,99.43 L239.85,99.72 L239.18,100.01 L238.67,100.11 L238.41,99.9 L238.4,99.38 L238.54,98.66 L238.69,97.95 L238.68,97.43 L238.42,97.22 L237.91,97.32" fill="none" stroke="#5858e0" stroke-width="1" stroke-linecap="round" stroke-linejoin="round"/><path d="M246.36,104.99 L246.51,104.28 L246.5,103.76 L246.24,103.55 L245.72,103.65 L245.06,103.94 L244.39,104.23 L243.88,104.33 L243.62,104.12 L243.61,103.6 L243.75,102.88 L243.9,102.17 L243.89,101.65 L243.63,101.44 L243.12,101.54 L242.45,101.83 L241.78,102.12 L241.27,102.22 L241.01,102.01 L241,101.49 L241.15,100.77 L241.29,100.06 L241.29,99.54 L241.03,99.33 L240.51,99.43 L239.85,99.72 L239.18,100.01 L238.67,100.11 L238.41,99.9 L238.4,99.38 L238.54,98.66 L238.69,97.95 L238.68,97.43 L238.42,97.22 L237.91,97.32" fill="none" stroke="#2c2c8c" stroke-width="0.8" stroke-linecap="round" stroke-linejoin="round" stroke-dasharray="0.9 2.1" opacity="0.8"/><path d="M254.08,102.78 L254.8,102.67 L255.29,102.49 L255.4,102.17 L255.13,101.72 L254.62,101.2 L254.12,100.67 L253.85,100.22 L253.96,99.9 L254.45,99.72 L255.17,99.61 L255.89,99.5 L256.38,99.32 L256.49,99 L256.22,98.55 L255.72,98.03 L255.21,97.5 L254.95,97.05 L255.05,96.73 L255.54,96.55 L256.26,96.44 L256.98,96.33 L257.47,96.15 L257.58,95.83 L257.31,95.38 L256.81,94.86 L256.31,94.33 L256.04,93.88 L256.15,93.56 L256.63,93.38 L257.35,93.27 L258.07,93.16 L258.56,92.98 L258.67,92.66 L258.4,92.21" fill="none" stroke="#5858e0" stroke-width="1" stroke-linecap="round" stroke-linejoin="round"/><path d="M254.08,102.78 L254.8,102.67 L255.29,102.49 L255.4,102.17 L255.13,101.72 L254.62,101.2 L254.12,100.67 L253.85,100.22 L253.96,99.9 L254.45,99.72 L255.17,99.61 L255.89,99.5 L256.38,99.32 L256.49,99 L256.22,98.55 L255.72,98.03 L255.21,97.5 L254.95,97.05 L255.05,96.73 L255.54,96.55 L256.26,96.44 L256.98,96.33 L257.47,96.15 L257.58,95.83 L257.31,95.38 L256.81,94.86 L256.31,94.33 L256.04,93.88 L256.15,93.56 L256.63,93.38 L257.35,93.27 L258.07,93.16 L258.56,92.98 L258.67,92.66 L258.4,92.21" fill="none" stroke="#2c2c8c" stroke-width="0.8" stroke-linecap="round" stroke-linejoin="round" stroke-dasharray="0.9 2.1" opacity="0.8"/><path d="M258.79,109.03 L259.16,109.66 L259.51,110.04 L259.85,110.03 L260.16,109.61 L260.46,108.95 L260.77,108.28 L261.08,107.87 L261.41,107.85 L261.77,108.23 L262.14,108.86 L262.51,109.49 L262.86,109.87 L263.2,109.85 L263.51,109.43 L263.81,108.77 L264.11,108.11 L264.43,107.69 L264.76,107.67 L265.12,108.05 L265.49,108.68 L265.86,109.31 L266.21,109.69 L266.55,109.67 L266.86,109.26 L267.16,108.59 L267.46,107.93 L267.78,107.52 L268.11,107.5 L268.47,107.88 L268.84,108.51 L269.2,109.14 L269.56,109.52 L269.89,109.5 L270.21,109.08" fill="none" stroke="#5858e0" stroke-width="1" stroke-linecap="round" stroke-linejoin="round"/><path d="M258.79,109.03 L259.16,109.66 L259.51,110.04 L259.85,110.03 L260.16,109.61 L260.46,108.95 L260.77,108.28 L261.08,107.87 L261.41,107.85 L261.77,108.23 L262.14,108.86 L262.51,109.49 L262.86,109.87 L263.2,109.85 L263.51,109.43 L263.81,108.77 L264.11,108.11 L264.43,107.69 L264.76,107.67 L265.12,108.05 L265.49,108.68 L265.86,109.31 L266.21,109.69 L266.55,109.67 L266.86,109.26 L267.16,108.59 L267.46,107.93 L267.78,107.52 L268.11,107.5 L268.47,107.88 L268.84,108.51 L269.2,109.14 L269.56,109.52 L269.89,109.5 L270.21,109.08" fill="none" stroke="#2c2c8c" stroke-width="0.8" stroke-linecap="round" stroke-linejoin="round" stroke-dasharray="0.9 2.1" opacity="0.8"/><path d="M254.98,115.64 L254.55,116.23 L254.35,116.71 L254.5,117.01 L255.01,117.13 L255.74,117.13 L256.47,117.14 L256.98,117.25 L257.13,117.55 L256.92,118.03 L256.5,118.62 L256.08,119.22 L255.87,119.7 L256.02,120 L256.53,120.11 L257.26,120.12 L257.99,120.12 L258.5,120.24 L258.65,120.54 L258.45,121.02 L258.02,121.61 L257.6,122.2 L257.39,122.68 L257.55,122.98 L258.06,123.1 L258.78,123.11 L259.51,123.11 L260.02,123.23 L260.17,123.53 L259.97,124.01 L259.54,124.6 L259.12,125.19 L258.92,125.67 L259.07,125.97 L259.58,126.09" fill="none" stroke="#5858e0" stroke-width="1" stroke-linecap="round" stroke-linejoin="round"/><path d="M254.98,115.64 L254.55,116.23 L254.35,116.71 L254.5,117.01 L255.01,117.13 L255.74,117.13 L256.47,117.14 L256.98,117.25 L257.13,117.55 L256.92,118.03 L256.5,118.62 L256.08,119.22 L255.87,119.7 L256.02,120 L256.53,120.11 L257.26,120.12 L257.99,120.12 L258.5,120.24 L258.65,120.54 L258.45,121.02 L258.02,121.61 L257.6,122.2 L257.39,122.68 L257.55,122.98 L258.06,123.1 L258.78,123.11 L259.51,123.11 L260.02,123.23 L260.17,123.53 L259.97,124.01 L259.54,124.6 L259.12,125.19 L258.92,125.67 L259.07,125.97 L259.58,126.09" fill="none" stroke="#2c2c8c" stroke-width="0.8" stroke-linecap="round" stroke-linejoin="round" stroke-dasharray="0.9 2.1" opacity="0.8"/><path d="M247.03,114.52 L246.32,114.32 L245.8,114.3 L245.57,114.54 L245.64,115.06 L245.88,115.75 L246.13,116.43 L246.19,116.95 L245.96,117.19 L245.44,117.17 L244.74,116.97 L244.04,116.78 L243.52,116.75 L243.29,116.99 L243.35,117.51 L243.6,118.2 L243.84,118.88 L243.9,119.4 L243.68,119.65 L243.15,119.62 L242.45,119.42 L241.75,119.23 L241.23,119.2 L241,119.45 L241.07,119.96 L241.31,120.65 L241.55,121.34 L241.62,121.85 L241.39,122.1 L240.87,122.07 L240.17,121.88 L239.46,121.68 L238.94,121.65 L238.71,121.9 L238.78,122.42" fill="none" stroke="#5858e0" stroke-width="1" stroke-linecap="round" stroke-linejoin="round"/><path d="M247.03,114.52 L246.32,114.32 L245.8,114.3 L245.57,114.54 L245.64,115.06 L245.88,115.75 L246.13,116.43 L246.19,116.95 L245.96,117.19 L245.44,117.17 L244.74,116.97 L244.04,116.78 L243.52,116.75 L243.29,116.99 L243.35,117.51 L243.6,118.2 L243.84,118.88 L243.9,119.4 L243.68,119.65 L243.15,119.62 L242.45,119.42 L241.75,119.23 L241.23,119.2 L241,119.45 L241.07,119.96 L241.31,120.65 L241.55,121.34 L241.62,121.85 L241.39,122.1 L240.87,122.07 L240.17,121.88 L239.46,121.68 L238.94,121.65 L238.71,121.9 L238.78,122.42" fill="none" stroke="#2c2c8c" stroke-width="0.8" stroke-linecap="round" stroke-linejoin="round" stroke-dasharray="0.9 2.1" opacity="0.8"/><circle cx="246.83" cy="105.37" r="1.5" fill="#f6b400"/><circle cx="253.88" cy="103.35" r="1.5" fill="#f6b400"/><circle cx="258.19" cy="109.07" r="1.5" fill="#f6b400"/><circle cx="254.71" cy="115.1" r="1.5" fill="#f6b400"/><circle cx="247.44" cy="114.08" r="1.5" fill="#f6b400"/><circle cx="251.8" cy="109.4" r="6.4" fill="url(#gNP)"/><path d="M231.26,123.31 L231.8,122.83 L232.11,122.41 L232.03,122.08 L231.56,121.86 L230.85,121.69 L230.14,121.52 L229.68,121.29 L229.59,120.96 L229.9,120.54 L230.45,120.06 L230.99,119.58 L231.3,119.16 L231.22,118.83 L230.75,118.6 L230.04,118.43 L229.33,118.26 L228.86,118.04 L228.78,117.71 L229.09,117.29 L229.64,116.81 L230.18,116.33 L230.49,115.9 L230.41,115.58 L229.94,115.35 L229.23,115.18 L228.52,115.01 L228.05,114.78 L227.97,114.46 L228.28,114.04 L228.82,113.55 L229.37,113.07 L229.68,112.65 L229.6,112.32 L229.13,112.1" fill="none" stroke="#5858e0" stroke-width="1" stroke-linecap="round" stroke-linejoin="round"/><path d="M231.26,123.31 L231.8,122.83 L232.11,122.41 L232.03,122.08 L231.56,121.86 L230.85,121.69 L230.14,121.52 L229.68,121.29 L229.59,120.96 L229.9,120.54 L230.45,120.06 L230.99,119.58 L231.3,119.16 L231.22,118.83 L230.75,118.6 L230.04,118.43 L229.33,118.26 L228.86,118.04 L228.78,117.71 L229.09,117.29 L229.64,116.81 L230.18,116.33 L230.49,115.9 L230.41,115.58 L229.94,115.35 L229.23,115.18 L228.52,115.01 L228.05,114.78 L227.97,114.46 L228.28,114.04 L228.82,113.55 L229.37,113.07 L229.68,112.65 L229.6,112.32 L229.13,112.1" fill="none" stroke="#2c2c8c" stroke-width="0.8" stroke-linecap="round" stroke-linejoin="round" stroke-dasharray="0.9 2.1" opacity="0.8"/><path d="M239.95,128.44 L240.45,128.97 L240.87,129.27 L241.2,129.19 L241.42,128.71 L241.57,128 L241.73,127.29 L241.95,126.82 L242.27,126.73 L242.7,127.03 L243.19,127.57 L243.68,128.11 L244.11,128.41 L244.44,128.32 L244.66,127.85 L244.81,127.13 L244.97,126.42 L245.19,125.95 L245.51,125.86 L245.94,126.16 L246.43,126.7 L246.92,127.24 L247.35,127.54 L247.67,127.45 L247.89,126.98 L248.05,126.27 L248.21,125.56 L248.43,125.08 L248.75,125 L249.18,125.3 L249.67,125.83 L250.16,126.37 L250.59,126.67 L250.91,126.58 L251.13,126.11" fill="none" stroke="#5858e0" stroke-width="1" stroke-linecap="round" stroke-linejoin="round"/><path d="M239.95,128.44 L240.45,128.97 L240.87,129.27 L241.2,129.19 L241.42,128.71 L241.57,128 L241.73,127.29 L241.95,126.82 L242.27,126.73 L242.7,127.03 L243.19,127.57 L243.68,128.11 L244.11,128.41 L244.44,128.32 L244.66,127.85 L244.81,127.13 L244.97,126.42 L245.19,125.95 L245.51,125.86 L245.94,126.16 L246.43,126.7 L246.92,127.24 L247.35,127.54 L247.67,127.45 L247.89,126.98 L248.05,126.27 L248.21,125.56 L248.43,125.08 L248.75,125 L249.18,125.3 L249.67,125.83 L250.16,126.37 L250.59,126.67 L250.91,126.58 L251.13,126.11" fill="none" stroke="#2c2c8c" stroke-width="0.8" stroke-linecap="round" stroke-linejoin="round" stroke-dasharray="0.9 2.1" opacity="0.8"/><path d="M238.27,135.21 L238.07,135.91 L238.04,136.43 L238.29,136.66 L238.81,136.6 L239.49,136.35 L240.18,136.11 L240.7,136.05 L240.94,136.27 L240.91,136.8 L240.72,137.5 L240.52,138.2 L240.49,138.72 L240.74,138.95 L241.26,138.88 L241.94,138.64 L242.63,138.4 L243.15,138.33 L243.39,138.56 L243.37,139.08 L243.17,139.78 L242.97,140.49 L242.95,141.01 L243.19,141.23 L243.71,141.17 L244.4,140.93 L245.08,140.68 L245.6,140.62 L245.85,140.85 L245.82,141.37 L245.62,142.07 L245.43,142.77 L245.4,143.29 L245.64,143.52 L246.16,143.46" fill="none" stroke="#5858e0" stroke-width="1" stroke-linecap="round" stroke-linejoin="round"/><path d="M238.27,135.21 L238.07,135.91 L238.04,136.43 L238.29,136.66 L238.81,136.6 L239.49,136.35 L240.18,136.11 L240.7,136.05 L240.94,136.27 L240.91,136.8 L240.72,137.5 L240.52,138.2 L240.49,138.72 L240.74,138.95 L241.26,138.88 L241.94,138.64 L242.63,138.4 L243.15,138.33 L243.39,138.56 L243.37,139.08 L243.17,139.78 L242.97,140.49 L242.95,141.01 L243.19,141.23 L243.71,141.17 L244.4,140.93 L245.08,140.68 L245.6,140.62 L245.85,140.85 L245.82,141.37 L245.62,142.07 L245.43,142.77 L245.4,143.29 L245.64,143.52 L246.16,143.46" fill="none" stroke="#2c2c8c" stroke-width="0.8" stroke-linecap="round" stroke-linejoin="round" stroke-dasharray="0.9 2.1" opacity="0.8"/><path d="M228.77,136.12 L228.05,136.02 L227.53,136.05 L227.33,136.32 L227.46,136.83 L227.78,137.48 L228.11,138.13 L228.23,138.64 L228.04,138.91 L227.52,138.95 L226.8,138.84 L226.08,138.73 L225.56,138.77 L225.36,139.04 L225.49,139.54 L225.81,140.19 L226.14,140.85 L226.26,141.35 L226.07,141.62 L225.55,141.66 L224.83,141.55 L224.11,141.44 L223.59,141.48 L223.39,141.75 L223.51,142.26 L223.84,142.91 L224.17,143.56 L224.29,144.06 L224.1,144.34 L223.58,144.37 L222.86,144.26 L222.14,144.15 L221.61,144.19 L221.42,144.46 L221.54,144.97" fill="none" stroke="#5858e0" stroke-width="1" stroke-linecap="round" stroke-linejoin="round"/><path d="M228.77,136.12 L228.05,136.02 L227.53,136.05 L227.33,136.32 L227.46,136.83 L227.78,137.48 L228.11,138.13 L228.23,138.64 L228.04,138.91 L227.52,138.95 L226.8,138.84 L226.08,138.73 L225.56,138.77 L225.36,139.04 L225.49,139.54 L225.81,140.19 L226.14,140.85 L226.26,141.35 L226.07,141.62 L225.55,141.66 L224.83,141.55 L224.11,141.44 L223.59,141.48 L223.39,141.75 L223.51,142.26 L223.84,142.91 L224.17,143.56 L224.29,144.06 L224.1,144.34 L223.58,144.37 L222.86,144.26 L222.14,144.15 L221.61,144.19 L221.42,144.46 L221.54,144.97" fill="none" stroke="#2c2c8c" stroke-width="0.8" stroke-linecap="round" stroke-linejoin="round" stroke-dasharray="0.9 2.1" opacity="0.8"/><path d="M225.84,131.05 L225.44,130.44 L225.06,130.08 L224.73,130.12 L224.44,130.55 L224.17,131.23 L223.91,131.91 L223.61,132.34 L223.28,132.37 L222.91,132.01 L222.5,131.4 L222.1,130.8 L221.73,130.43 L221.4,130.47 L221.1,130.9 L220.84,131.58 L220.57,132.26 L220.28,132.69 L219.95,132.72 L219.57,132.36 L219.17,131.75 L218.77,131.15 L218.39,130.78 L218.06,130.82 L217.77,131.25 L217.5,131.93 L217.24,132.61 L216.95,133.04 L216.61,133.07 L216.24,132.71 L215.84,132.1 L215.43,131.5 L215.06,131.13 L214.73,131.17 L214.43,131.6" fill="none" stroke="#5858e0" stroke-width="1" stroke-linecap="round" stroke-linejoin="round"/><path d="M225.84,131.05 L225.44,130.44 L225.06,130.08 L224.73,130.12 L224.44,130.55 L224.17,131.23 L223.91,131.91 L223.61,132.34 L223.28,132.37 L222.91,132.01 L222.5,131.4 L222.1,130.8 L221.73,130.43 L221.4,130.47 L221.1,130.9 L220.84,131.58 L220.57,132.26 L220.28,132.69 L219.95,132.72 L219.57,132.36 L219.17,131.75 L218.77,131.15 L218.39,130.78 L218.06,130.82 L217.77,131.25 L217.5,131.93 L217.24,132.61 L216.95,133.04 L216.61,133.07 L216.24,132.71 L215.84,132.1 L215.43,131.5 L215.06,131.13 L214.73,131.17 L214.43,131.6" fill="none" stroke="#2c2c8c" stroke-width="0.8" stroke-linecap="round" stroke-linejoin="round" stroke-dasharray="0.9 2.1" opacity="0.8"/><circle cx="231.4" cy="123.9" r="1.5" fill="#f6b400"/><circle cx="239.38" cy="128.59" r="1.5" fill="#f6b400"/><circle cx="237.83" cy="134.8" r="1.5" fill="#f6b400"/><circle cx="229.12" cy="135.64" r="1.5" fill="#f6b400"/><circle cx="226.44" cy="130.99" r="1.5" fill="#f6b400"/><circle cx="233" cy="130.3" r="6.6" fill="url(#gNP)"/>
<path d="M354.32,99.2 L354.57,98.52 L354.64,98 L354.42,97.75 L353.9,97.77 L353.19,97.95 L352.49,98.14 L351.97,98.15 L351.74,97.9 L351.82,97.39 L352.07,96.71 L352.33,96.02 L352.4,95.51 L352.18,95.26 L351.66,95.28 L350.95,95.46 L350.25,95.64 L349.72,95.66 L349.5,95.41 L349.57,94.9 L349.83,94.21 L350.09,93.53 L350.16,93.02 L349.93,92.77 L349.41,92.79 L348.71,92.97 L348,93.15 L347.48,93.17 L347.26,92.92 L347.33,92.4 L347.59,91.72 L347.84,91.04 L347.91,90.52 L347.69,90.28 L347.17,90.29" fill="none" stroke="#5858e0" stroke-width="1" stroke-linecap="round" stroke-linejoin="round"/><path d="M354.32,99.2 L354.57,98.52 L354.64,98 L354.42,97.75 L353.9,97.77 L353.19,97.95 L352.49,98.14 L351.97,98.15 L351.74,97.9 L351.82,97.39 L352.07,96.71 L352.33,96.02 L352.4,95.51 L352.18,95.26 L351.66,95.28 L350.95,95.46 L350.25,95.64 L349.72,95.66 L349.5,95.41 L349.57,94.9 L349.83,94.21 L350.09,93.53 L350.16,93.02 L349.93,92.77 L349.41,92.79 L348.71,92.97 L348,93.15 L347.48,93.17 L347.26,92.92 L347.33,92.4 L347.59,91.72 L347.84,91.04 L347.91,90.52 L347.69,90.28 L347.17,90.29" fill="none" stroke="#2c2c8c" stroke-width="0.8" stroke-linecap="round" stroke-linejoin="round" stroke-dasharray="0.9 2.1" opacity="0.8"/><path d="M363.5,99.04 L364.21,99.2 L364.73,99.2 L364.95,98.94 L364.86,98.43 L364.58,97.75 L364.3,97.08 L364.21,96.57 L364.42,96.31 L364.94,96.31 L365.65,96.47 L366.37,96.63 L366.89,96.63 L367.1,96.37 L367.01,95.86 L366.73,95.18 L366.45,94.51 L366.36,94 L366.58,93.74 L367.1,93.74 L367.81,93.9 L368.52,94.06 L369.04,94.06 L369.26,93.8 L369.17,93.29 L368.89,92.62 L368.61,91.94 L368.52,91.43 L368.73,91.17 L369.25,91.17 L369.97,91.33 L370.68,91.49 L371.2,91.49 L371.41,91.23 L371.32,90.72" fill="none" stroke="#5858e0" stroke-width="1" stroke-linecap="round" stroke-linejoin="round"/><path d="M363.5,99.04 L364.21,99.2 L364.73,99.2 L364.95,98.94 L364.86,98.43 L364.58,97.75 L364.3,97.08 L364.21,96.57 L364.42,96.31 L364.94,96.31 L365.65,96.47 L366.37,96.63 L366.89,96.63 L367.1,96.37 L367.01,95.86 L366.73,95.18 L366.45,94.51 L366.36,94 L366.58,93.74 L367.1,93.74 L367.81,93.9 L368.52,94.06 L369.04,94.06 L369.26,93.8 L369.17,93.29 L368.89,92.62 L368.61,91.94 L368.52,91.43 L368.73,91.17 L369.25,91.17 L369.97,91.33 L370.68,91.49 L371.2,91.49 L371.41,91.23 L371.32,90.72" fill="none" stroke="#2c2c8c" stroke-width="0.8" stroke-linecap="round" stroke-linejoin="round" stroke-dasharray="0.9 2.1" opacity="0.8"/><path d="M365.44,107.14 L365.5,107.86 L365.65,108.36 L365.96,108.49 L366.43,108.25 L366.99,107.79 L367.55,107.33 L368.01,107.09 L368.32,107.22 L368.47,107.72 L368.53,108.45 L368.59,109.17 L368.74,109.67 L369.05,109.8 L369.51,109.56 L370.07,109.1 L370.63,108.64 L371.1,108.4 L371.41,108.53 L371.56,109.03 L371.62,109.76 L371.67,110.48 L371.82,110.98 L372.13,111.11 L372.6,110.87 L373.16,110.41 L373.72,109.95 L374.19,109.71 L374.49,109.84 L374.65,110.34 L374.7,111.07 L374.76,111.79 L374.91,112.29 L375.22,112.42 L375.68,112.18" fill="none" stroke="#5858e0" stroke-width="1" stroke-linecap="round" stroke-linejoin="round"/><path d="M365.44,107.14 L365.5,107.86 L365.65,108.36 L365.96,108.49 L366.43,108.25 L366.99,107.79 L367.55,107.33 L368.01,107.09 L368.32,107.22 L368.47,107.72 L368.53,108.45 L368.59,109.17 L368.74,109.67 L369.05,109.8 L369.51,109.56 L370.07,109.1 L370.63,108.64 L371.1,108.4 L371.41,108.53 L371.56,109.03 L371.62,109.76 L371.67,110.48 L371.82,110.98 L372.13,111.11 L372.6,110.87 L373.16,110.41 L373.72,109.95 L374.19,109.71 L374.49,109.84 L374.65,110.34 L374.7,111.07 L374.76,111.79 L374.91,112.29 L375.22,112.42 L375.68,112.18" fill="none" stroke="#2c2c8c" stroke-width="0.8" stroke-linecap="round" stroke-linejoin="round" stroke-dasharray="0.9 2.1" opacity="0.8"/><path d="M357.07,111.13 L356.36,111.27 L355.88,111.49 L355.79,111.81 L356.08,112.24 L356.61,112.74 L357.14,113.24 L357.43,113.67 L357.34,114 L356.86,114.21 L356.15,114.35 L355.43,114.5 L354.96,114.71 L354.86,115.03 L355.16,115.46 L355.68,115.96 L356.21,116.46 L356.51,116.9 L356.41,117.22 L355.94,117.43 L355.22,117.57 L354.51,117.72 L354.03,117.93 L353.94,118.25 L354.23,118.69 L354.76,119.19 L355.29,119.69 L355.58,120.12 L355.49,120.44 L355.01,120.65 L354.3,120.8 L353.58,120.94 L353.11,121.15 L353.02,121.48 L353.31,121.91" fill="none" stroke="#5858e0" stroke-width="1" stroke-linecap="round" stroke-linejoin="round"/><path d="M357.07,111.13 L356.36,111.27 L355.88,111.49 L355.79,111.81 L356.08,112.24 L356.61,112.74 L357.14,113.24 L357.43,113.67 L357.34,114 L356.86,114.21 L356.15,114.35 L355.43,114.5 L354.96,114.71 L354.86,115.03 L355.16,115.46 L355.68,115.96 L356.21,116.46 L356.51,116.9 L356.41,117.22 L355.94,117.43 L355.22,117.57 L354.51,117.72 L354.03,117.93 L353.94,118.25 L354.23,118.69 L354.76,119.19 L355.29,119.69 L355.58,120.12 L355.49,120.44 L355.01,120.65 L354.3,120.8 L353.58,120.94 L353.11,121.15 L353.02,121.48 L353.31,121.91" fill="none" stroke="#2c2c8c" stroke-width="0.8" stroke-linecap="round" stroke-linejoin="round" stroke-dasharray="0.9 2.1" opacity="0.8"/><path d="M352.82,107.69 L352.22,107.27 L351.74,107.08 L351.44,107.23 L351.33,107.75 L351.34,108.47 L351.35,109.2 L351.24,109.71 L350.94,109.87 L350.46,109.67 L349.86,109.26 L349.26,108.85 L348.78,108.65 L348.48,108.81 L348.37,109.32 L348.38,110.05 L348.39,110.78 L348.28,111.29 L347.98,111.44 L347.5,111.25 L346.9,110.83 L346.3,110.42 L345.82,110.23 L345.52,110.38 L345.41,110.89 L345.42,111.62 L345.43,112.35 L345.32,112.86 L345.02,113.02 L344.54,112.82 L343.94,112.41 L343.34,112 L342.85,111.8 L342.56,111.96 L342.45,112.47" fill="none" stroke="#5858e0" stroke-width="1" stroke-linecap="round" stroke-linejoin="round"/><path d="M352.82,107.69 L352.22,107.27 L351.74,107.08 L351.44,107.23 L351.33,107.75 L351.34,108.47 L351.35,109.2 L351.24,109.71 L350.94,109.87 L350.46,109.67 L349.86,109.26 L349.26,108.85 L348.78,108.65 L348.48,108.81 L348.37,109.32 L348.38,110.05 L348.39,110.78 L348.28,111.29 L347.98,111.44 L347.5,111.25 L346.9,110.83 L346.3,110.42 L345.82,110.23 L345.52,110.38 L345.41,110.89 L345.42,111.62 L345.43,112.35 L345.32,112.86 L345.02,113.02 L344.54,112.82 L343.94,112.41 L343.34,112 L342.85,111.8 L342.56,111.96 L342.45,112.47" fill="none" stroke="#2c2c8c" stroke-width="0.8" stroke-linecap="round" stroke-linejoin="round" stroke-dasharray="0.9 2.1" opacity="0.8"/><circle cx="354.72" cy="99.64" r="1.5" fill="#f6b400"/><circle cx="363.11" cy="99.5" r="1.5" fill="#f6b400"/><circle cx="364.89" cy="106.9" r="1.5" fill="#f6b400"/><circle cx="357.24" cy="110.55" r="1.5" fill="#f6b400"/><circle cx="353.35" cy="107.4" r="1.5" fill="#f6b400"/><circle cx="359" cy="104.4" r="6.4" fill="url(#gNP)"/><path d="M381.66,104.99 L381.81,104.28 L381.8,103.76 L381.54,103.55 L381.02,103.65 L380.36,103.94 L379.69,104.23 L379.18,104.33 L378.92,104.12 L378.91,103.6 L379.05,102.88 L379.2,102.17 L379.19,101.65 L378.93,101.44 L378.42,101.54 L377.75,101.83 L377.08,102.12 L376.57,102.22 L376.31,102.01 L376.3,101.49 L376.45,100.77 L376.59,100.06 L376.59,99.54 L376.33,99.33 L375.81,99.43 L375.15,99.72 L374.48,100.01 L373.97,100.11 L373.71,99.9 L373.7,99.38 L373.84,98.66 L373.99,97.95 L373.98,97.43 L373.72,97.22 L373.21,97.32" fill="none" stroke="#5858e0" stroke-width="1" stroke-linecap="round" stroke-linejoin="round"/><path d="M381.66,104.99 L381.81,104.28 L381.8,103.76 L381.54,103.55 L381.02,103.65 L380.36,103.94 L379.69,104.23 L379.18,104.33 L378.92,104.12 L378.91,103.6 L379.05,102.88 L379.2,102.17 L379.19,101.65 L378.93,101.44 L378.42,101.54 L377.75,101.83 L377.08,102.12 L376.57,102.22 L376.31,102.01 L376.3,101.49 L376.45,100.77 L376.59,100.06 L376.59,99.54 L376.33,99.33 L375.81,99.43 L375.15,99.72 L374.48,100.01 L373.97,100.11 L373.71,99.9 L373.7,99.38 L373.84,98.66 L373.99,97.95 L373.98,97.43 L373.72,97.22 L373.21,97.32" fill="none" stroke="#2c2c8c" stroke-width="0.8" stroke-linecap="round" stroke-linejoin="round" stroke-dasharray="0.9 2.1" opacity="0.8"/><path d="M389.38,102.78 L390.1,102.67 L390.59,102.49 L390.7,102.17 L390.43,101.72 L389.92,101.2 L389.42,100.67 L389.15,100.22 L389.26,99.9 L389.75,99.72 L390.47,99.61 L391.19,99.5 L391.68,99.32 L391.79,99 L391.52,98.55 L391.02,98.03 L390.51,97.5 L390.25,97.05 L390.35,96.73 L390.84,96.55 L391.56,96.44 L392.28,96.33 L392.77,96.15 L392.88,95.83 L392.61,95.38 L392.11,94.86 L391.61,94.33 L391.34,93.88 L391.45,93.56 L391.93,93.38 L392.65,93.27 L393.37,93.16 L393.86,92.98 L393.97,92.66 L393.7,92.21" fill="none" stroke="#5858e0" stroke-width="1" stroke-linecap="round" stroke-linejoin="round"/><path d="M389.38,102.78 L390.1,102.67 L390.59,102.49 L390.7,102.17 L390.43,101.72 L389.92,101.2 L389.42,100.67 L389.15,100.22 L389.26,99.9 L389.75,99.72 L390.47,99.61 L391.19,99.5 L391.68,99.32 L391.79,99 L391.52,98.55 L391.02,98.03 L390.51,97.5 L390.25,97.05 L390.35,96.73 L390.84,96.55 L391.56,96.44 L392.28,96.33 L392.77,96.15 L392.88,95.83 L392.61,95.38 L392.11,94.86 L391.61,94.33 L391.34,93.88 L391.45,93.56 L391.93,93.38 L392.65,93.27 L393.37,93.16 L393.86,92.98 L393.97,92.66 L393.7,92.21" fill="none" stroke="#2c2c8c" stroke-width="0.8" stroke-linecap="round" stroke-linejoin="round" stroke-dasharray="0.9 2.1" opacity="0.8"/><path d="M394.09,109.03 L394.46,109.66 L394.81,110.04 L395.15,110.03 L395.46,109.61 L395.76,108.95 L396.07,108.28 L396.38,107.87 L396.71,107.85 L397.07,108.23 L397.44,108.86 L397.81,109.49 L398.16,109.87 L398.5,109.85 L398.81,109.43 L399.11,108.77 L399.41,108.11 L399.73,107.69 L400.06,107.67 L400.42,108.05 L400.79,108.68 L401.16,109.31 L401.51,109.69 L401.85,109.67 L402.16,109.26 L402.46,108.59 L402.76,107.93 L403.08,107.52 L403.41,107.5 L403.77,107.88 L404.14,108.51 L404.5,109.14 L404.86,109.52 L405.19,109.5 L405.51,109.08" fill="none" stroke="#5858e0" stroke-width="1" stroke-linecap="round" stroke-linejoin="round"/><path d="M394.09,109.03 L394.46,109.66 L394.81,110.04 L395.15,110.03 L395.46,109.61 L395.76,108.95 L396.07,108.28 L396.38,107.87 L396.71,107.85 L397.07,108.23 L397.44,108.86 L397.81,109.49 L398.16,109.87 L398.5,109.85 L398.81,109.43 L399.11,108.77 L399.41,108.11 L399.73,107.69 L400.06,107.67 L400.42,108.05 L400.79,108.68 L401.16,109.31 L401.51,109.69 L401.85,109.67 L402.16,109.26 L402.46,108.59 L402.76,107.93 L403.08,107.52 L403.41,107.5 L403.77,107.88 L404.14,108.51 L404.5,109.14 L404.86,109.52 L405.19,109.5 L405.51,109.08" fill="none" stroke="#2c2c8c" stroke-width="0.8" stroke-linecap="round" stroke-linejoin="round" stroke-dasharray="0.9 2.1" opacity="0.8"/><path d="M390.28,115.64 L389.85,116.23 L389.65,116.71 L389.8,117.01 L390.31,117.13 L391.04,117.13 L391.77,117.14 L392.28,117.25 L392.43,117.55 L392.22,118.03 L391.8,118.62 L391.38,119.22 L391.17,119.7 L391.32,120 L391.83,120.11 L392.56,120.12 L393.29,120.12 L393.8,120.24 L393.95,120.54 L393.75,121.02 L393.32,121.61 L392.9,122.2 L392.69,122.68 L392.85,122.98 L393.36,123.1 L394.08,123.11 L394.81,123.11 L395.32,123.23 L395.47,123.53 L395.27,124.01 L394.84,124.6 L394.42,125.19 L394.22,125.67 L394.37,125.97 L394.88,126.09" fill="none" stroke="#5858e0" stroke-width="1" stroke-linecap="round" stroke-linejoin="round"/><path d="M390.28,115.64 L389.85,116.23 L389.65,116.71 L389.8,117.01 L390.31,117.13 L391.04,117.13 L391.77,117.14 L392.28,117.25 L392.43,117.55 L392.22,118.03 L391.8,118.62 L391.38,119.22 L391.17,119.7 L391.32,120 L391.83,120.11 L392.56,120.12 L393.29,120.12 L393.8,120.24 L393.95,120.54 L393.75,121.02 L393.32,121.61 L392.9,122.2 L392.69,122.68 L392.85,122.98 L393.36,123.1 L394.08,123.11 L394.81,123.11 L395.32,123.23 L395.47,123.53 L395.27,124.01 L394.84,124.6 L394.42,125.19 L394.22,125.67 L394.37,125.97 L394.88,126.09" fill="none" stroke="#2c2c8c" stroke-width="0.8" stroke-linecap="round" stroke-linejoin="round" stroke-dasharray="0.9 2.1" opacity="0.8"/><path d="M382.33,114.52 L381.62,114.32 L381.1,114.3 L380.87,114.54 L380.94,115.06 L381.18,115.75 L381.43,116.43 L381.49,116.95 L381.26,117.19 L380.74,117.17 L380.04,116.97 L379.34,116.78 L378.82,116.75 L378.59,116.99 L378.65,117.51 L378.9,118.2 L379.14,118.88 L379.2,119.4 L378.98,119.65 L378.45,119.62 L377.75,119.42 L377.05,119.23 L376.53,119.2 L376.3,119.45 L376.37,119.96 L376.61,120.65 L376.85,121.34 L376.92,121.85 L376.69,122.1 L376.17,122.07 L375.47,121.88 L374.76,121.68 L374.24,121.65 L374.01,121.9 L374.08,122.42" fill="none" stroke="#5858e0" stroke-width="1" stroke-linecap="round" stroke-linejoin="round"/><path d="M382.33,114.52 L381.62,114.32 L381.1,114.3 L380.87,114.54 L380.94,115.06 L381.18,115.75 L381.43,116.43 L381.49,116.95 L381.26,117.19 L380.74,117.17 L380.04,116.97 L379.34,116.78 L378.82,116.75 L378.59,116.99 L378.65,117.51 L378.9,118.2 L379.14,118.88 L379.2,119.4 L378.98,119.65 L378.45,119.62 L377.75,119.42 L377.05,119.23 L376.53,119.2 L376.3,119.45 L376.37,119.96 L376.61,120.65 L376.85,121.34 L376.92,121.85 L376.69,122.1 L376.17,122.07 L375.47,121.88 L374.76,121.68 L374.24,121.65 L374.01,121.9 L374.08,122.42" fill="none" stroke="#2c2c8c" stroke-width="0.8" stroke-linecap="round" stroke-linejoin="round" stroke-dasharray="0.9 2.1" opacity="0.8"/><circle cx="382.13" cy="105.37" r="1.5" fill="#f6b400"/><circle cx="389.18" cy="103.35" r="1.5" fill="#f6b400"/><circle cx="393.49" cy="109.07" r="1.5" fill="#f6b400"/><circle cx="390.01" cy="115.1" r="1.5" fill="#f6b400"/><circle cx="382.74" cy="114.08" r="1.5" fill="#f6b400"/><circle cx="387.1" cy="109.4" r="6.4" fill="url(#gNP)"/><path d="M366.56,123.31 L367.1,122.83 L367.41,122.41 L367.33,122.08 L366.86,121.86 L366.15,121.69 L365.44,121.52 L364.98,121.29 L364.89,120.96 L365.2,120.54 L365.75,120.06 L366.29,119.58 L366.6,119.16 L366.52,118.83 L366.05,118.6 L365.34,118.43 L364.63,118.26 L364.16,118.04 L364.08,117.71 L364.39,117.29 L364.94,116.81 L365.48,116.33 L365.79,115.9 L365.71,115.58 L365.24,115.35 L364.53,115.18 L363.82,115.01 L363.35,114.78 L363.27,114.46 L363.58,114.04 L364.12,113.55 L364.67,113.07 L364.98,112.65 L364.9,112.32 L364.43,112.1" fill="none" stroke="#5858e0" stroke-width="1" stroke-linecap="round" stroke-linejoin="round"/><path d="M366.56,123.31 L367.1,122.83 L367.41,122.41 L367.33,122.08 L366.86,121.86 L366.15,121.69 L365.44,121.52 L364.98,121.29 L364.89,120.96 L365.2,120.54 L365.75,120.06 L366.29,119.58 L366.6,119.16 L366.52,118.83 L366.05,118.6 L365.34,118.43 L364.63,118.26 L364.16,118.04 L364.08,117.71 L364.39,117.29 L364.94,116.81 L365.48,116.33 L365.79,115.9 L365.71,115.58 L365.24,115.35 L364.53,115.18 L363.82,115.01 L363.35,114.78 L363.27,114.46 L363.58,114.04 L364.12,113.55 L364.67,113.07 L364.98,112.65 L364.9,112.32 L364.43,112.1" fill="none" stroke="#2c2c8c" stroke-width="0.8" stroke-linecap="round" stroke-linejoin="round" stroke-dasharray="0.9 2.1" opacity="0.8"/><path d="M375.25,128.44 L375.75,128.97 L376.17,129.27 L376.5,129.19 L376.72,128.71 L376.87,128 L377.03,127.29 L377.25,126.82 L377.57,126.73 L378,127.03 L378.49,127.57 L378.98,128.11 L379.41,128.41 L379.74,128.32 L379.96,127.85 L380.11,127.13 L380.27,126.42 L380.49,125.95 L380.81,125.86 L381.24,126.16 L381.73,126.7 L382.22,127.24 L382.65,127.54 L382.97,127.45 L383.19,126.98 L383.35,126.27 L383.51,125.56 L383.73,125.08 L384.05,125 L384.48,125.3 L384.97,125.83 L385.46,126.37 L385.89,126.67 L386.21,126.58 L386.43,126.11" fill="none" stroke="#5858e0" stroke-width="1" stroke-linecap="round" stroke-linejoin="round"/><path d="M375.25,128.44 L375.75,128.97 L376.17,129.27 L376.5,129.19 L376.72,128.71 L376.87,128 L377.03,127.29 L377.25,126.82 L377.57,126.73 L378,127.03 L378.49,127.57 L378.98,128.11 L379.41,128.41 L379.74,128.32 L379.96,127.85 L380.11,127.13 L380.27,126.42 L380.49,125.95 L380.81,125.86 L381.24,126.16 L381.73,126.7 L382.22,127.24 L382.65,127.54 L382.97,127.45 L383.19,126.98 L383.35,126.27 L383.51,125.56 L383.73,125.08 L384.05,125 L384.48,125.3 L384.97,125.83 L385.46,126.37 L385.89,126.67 L386.21,126.58 L386.43,126.11" fill="none" stroke="#2c2c8c" stroke-width="0.8" stroke-linecap="round" stroke-linejoin="round" stroke-dasharray="0.9 2.1" opacity="0.8"/><path d="M373.57,135.21 L373.37,135.91 L373.34,136.43 L373.59,136.66 L374.11,136.6 L374.79,136.35 L375.48,136.11 L376,136.05 L376.24,136.27 L376.21,136.8 L376.02,137.5 L375.82,138.2 L375.79,138.72 L376.04,138.95 L376.56,138.88 L377.24,138.64 L377.93,138.4 L378.45,138.33 L378.69,138.56 L378.67,139.08 L378.47,139.78 L378.27,140.49 L378.25,141.01 L378.49,141.23 L379.01,141.17 L379.7,140.93 L380.38,140.68 L380.9,140.62 L381.15,140.85 L381.12,141.37 L380.92,142.07 L380.73,142.77 L380.7,143.29 L380.94,143.52 L381.46,143.46" fill="none" stroke="#5858e0" stroke-width="1" stroke-linecap="round" stroke-linejoin="round"/><path d="M373.57,135.21 L373.37,135.91 L373.34,136.43 L373.59,136.66 L374.11,136.6 L374.79,136.35 L375.48,136.11 L376,136.05 L376.24,136.27 L376.21,136.8 L376.02,137.5 L375.82,138.2 L375.79,138.72 L376.04,138.95 L376.56,138.88 L377.24,138.64 L377.93,138.4 L378.45,138.33 L378.69,138.56 L378.67,139.08 L378.47,139.78 L378.27,140.49 L378.25,141.01 L378.49,141.23 L379.01,141.17 L379.7,140.93 L380.38,140.68 L380.9,140.62 L381.15,140.85 L381.12,141.37 L380.92,142.07 L380.73,142.77 L380.7,143.29 L380.94,143.52 L381.46,143.46" fill="none" stroke="#2c2c8c" stroke-width="0.8" stroke-linecap="round" stroke-linejoin="round" stroke-dasharray="0.9 2.1" opacity="0.8"/><path d="M364.07,136.12 L363.35,136.02 L362.83,136.05 L362.63,136.32 L362.76,136.83 L363.08,137.48 L363.41,138.13 L363.53,138.64 L363.34,138.91 L362.82,138.95 L362.1,138.84 L361.38,138.73 L360.86,138.77 L360.66,139.04 L360.79,139.54 L361.11,140.19 L361.44,140.85 L361.56,141.35 L361.37,141.62 L360.85,141.66 L360.13,141.55 L359.41,141.44 L358.89,141.48 L358.69,141.75 L358.81,142.26 L359.14,142.91 L359.47,143.56 L359.59,144.06 L359.4,144.34 L358.88,144.37 L358.16,144.26 L357.44,144.15 L356.91,144.19 L356.72,144.46 L356.84,144.97" fill="none" stroke="#5858e0" stroke-width="1" stroke-linecap="round" stroke-linejoin="round"/><path d="M364.07,136.12 L363.35,136.02 L362.83,136.05 L362.63,136.32 L362.76,136.83 L363.08,137.48 L363.41,138.13 L363.53,138.64 L363.34,138.91 L362.82,138.95 L362.1,138.84 L361.38,138.73 L360.86,138.77 L360.66,139.04 L360.79,139.54 L361.11,140.19 L361.44,140.85 L361.56,141.35 L361.37,141.62 L360.85,141.66 L360.13,141.55 L359.41,141.44 L358.89,141.48 L358.69,141.75 L358.81,142.26 L359.14,142.91 L359.47,143.56 L359.59,144.06 L359.4,144.34 L358.88,144.37 L358.16,144.26 L357.44,144.15 L356.91,144.19 L356.72,144.46 L356.84,144.97" fill="none" stroke="#2c2c8c" stroke-width="0.8" stroke-linecap="round" stroke-linejoin="round" stroke-dasharray="0.9 2.1" opacity="0.8"/><path d="M361.14,131.05 L360.74,130.44 L360.36,130.08 L360.03,130.12 L359.74,130.55 L359.47,131.23 L359.21,131.91 L358.91,132.34 L358.58,132.37 L358.21,132.01 L357.8,131.4 L357.4,130.8 L357.03,130.43 L356.7,130.47 L356.4,130.9 L356.14,131.58 L355.87,132.26 L355.58,132.69 L355.25,132.72 L354.87,132.36 L354.47,131.75 L354.07,131.15 L353.69,130.78 L353.36,130.82 L353.07,131.25 L352.8,131.93 L352.54,132.61 L352.25,133.04 L351.91,133.07 L351.54,132.71 L351.14,132.1 L350.73,131.5 L350.36,131.13 L350.03,131.17 L349.73,131.6" fill="none" stroke="#5858e0" stroke-width="1" stroke-linecap="round" stroke-linejoin="round"/><path d="M361.14,131.05 L360.74,130.44 L360.36,130.08 L360.03,130.12 L359.74,130.55 L359.47,131.23 L359.21,131.91 L358.91,132.34 L358.58,132.37 L358.21,132.01 L357.8,131.4 L357.4,130.8 L357.03,130.43 L356.7,130.47 L356.4,130.9 L356.14,131.58 L355.87,132.26 L355.58,132.69 L355.25,132.72 L354.87,132.36 L354.47,131.75 L354.07,131.15 L353.69,130.78 L353.36,130.82 L353.07,131.25 L352.8,131.93 L352.54,132.61 L352.25,133.04 L351.91,133.07 L351.54,132.71 L351.14,132.1 L350.73,131.5 L350.36,131.13 L350.03,131.17 L349.73,131.6" fill="none" stroke="#2c2c8c" stroke-width="0.8" stroke-linecap="round" stroke-linejoin="round" stroke-dasharray="0.9 2.1" opacity="0.8"/><circle cx="366.7" cy="123.9" r="1.5" fill="#f6b400"/><circle cx="374.68" cy="128.59" r="1.5" fill="#f6b400"/><circle cx="373.13" cy="134.8" r="1.5" fill="#f6b400"/><circle cx="364.42" cy="135.64" r="1.5" fill="#f6b400"/><circle cx="361.74" cy="130.99" r="1.5" fill="#f6b400"/><circle cx="368.3" cy="130.3" r="6.6" fill="url(#gNP)"/>
<path d="M219.02,164.7 L219.27,164.02 L219.34,163.5 L219.12,163.25 L218.6,163.27 L217.89,163.45 L217.19,163.64 L216.67,163.65 L216.44,163.4 L216.52,162.89 L216.77,162.21 L217.03,161.52 L217.1,161.01 L216.88,160.76 L216.36,160.78 L215.65,160.96 L214.95,161.14 L214.42,161.16 L214.2,160.91 L214.27,160.4 L214.53,159.71 L214.79,159.03 L214.86,158.52 L214.63,158.27 L214.11,158.29 L213.41,158.47 L212.7,158.65 L212.18,158.67 L211.96,158.42 L212.03,157.9 L212.29,157.22 L212.54,156.54 L212.61,156.02 L212.39,155.78 L211.87,155.79" fill="none" stroke="#a6d23c" stroke-width="1" stroke-linecap="round" stroke-linejoin="round"/><path d="M219.02,164.7 L219.27,164.02 L219.34,163.5 L219.12,163.25 L218.6,163.27 L217.89,163.45 L217.19,163.64 L216.67,163.65 L216.44,163.4 L216.52,162.89 L216.77,162.21 L217.03,161.52 L217.1,161.01 L216.88,160.76 L216.36,160.78 L215.65,160.96 L214.95,161.14 L214.42,161.16 L214.2,160.91 L214.27,160.4 L214.53,159.71 L214.79,159.03 L214.86,158.52 L214.63,158.27 L214.11,158.29 L213.41,158.47 L212.7,158.65 L212.18,158.67 L211.96,158.42 L212.03,157.9 L212.29,157.22 L212.54,156.54 L212.61,156.02 L212.39,155.78 L211.87,155.79" fill="none" stroke="#5a7a1c" stroke-width="0.8" stroke-linecap="round" stroke-linejoin="round" stroke-dasharray="0.9 2.1" opacity="0.8"/><path d="M228.2,164.54 L228.91,164.7 L229.43,164.7 L229.65,164.44 L229.56,163.93 L229.28,163.25 L229,162.58 L228.91,162.07 L229.12,161.81 L229.64,161.81 L230.35,161.97 L231.07,162.13 L231.59,162.13 L231.8,161.87 L231.71,161.36 L231.43,160.68 L231.15,160.01 L231.06,159.5 L231.28,159.24 L231.8,159.24 L232.51,159.4 L233.22,159.56 L233.74,159.56 L233.96,159.3 L233.87,158.79 L233.59,158.12 L233.31,157.44 L233.22,156.93 L233.43,156.67 L233.95,156.67 L234.67,156.83 L235.38,156.99 L235.9,156.99 L236.11,156.73 L236.02,156.22" fill="none" stroke="#a6d23c" stroke-width="1" stroke-linecap="round" stroke-linejoin="round"/><path d="M228.2,164.54 L228.91,164.7 L229.43,164.7 L229.65,164.44 L229.56,163.93 L229.28,163.25 L229,162.58 L228.91,162.07 L229.12,161.81 L229.64,161.81 L230.35,161.97 L231.07,162.13 L231.59,162.13 L231.8,161.87 L231.71,161.36 L231.43,160.68 L231.15,160.01 L231.06,159.5 L231.28,159.24 L231.8,159.24 L232.51,159.4 L233.22,159.56 L233.74,159.56 L233.96,159.3 L233.87,158.79 L233.59,158.12 L233.31,157.44 L233.22,156.93 L233.43,156.67 L233.95,156.67 L234.67,156.83 L235.38,156.99 L235.9,156.99 L236.11,156.73 L236.02,156.22" fill="none" stroke="#5a7a1c" stroke-width="0.8" stroke-linecap="round" stroke-linejoin="round" stroke-dasharray="0.9 2.1" opacity="0.8"/><path d="M230.14,172.64 L230.2,173.36 L230.35,173.86 L230.66,173.99 L231.13,173.75 L231.69,173.29 L232.25,172.83 L232.71,172.59 L233.02,172.72 L233.17,173.22 L233.23,173.95 L233.29,174.67 L233.44,175.17 L233.75,175.3 L234.21,175.06 L234.77,174.6 L235.33,174.14 L235.8,173.9 L236.11,174.03 L236.26,174.53 L236.32,175.26 L236.37,175.98 L236.52,176.48 L236.83,176.61 L237.3,176.37 L237.86,175.91 L238.42,175.45 L238.89,175.21 L239.19,175.34 L239.35,175.84 L239.4,176.57 L239.46,177.29 L239.61,177.79 L239.92,177.92 L240.38,177.68" fill="none" stroke="#a6d23c" stroke-width="1" stroke-linecap="round" stroke-linejoin="round"/><path d="M230.14,172.64 L230.2,173.36 L230.35,173.86 L230.66,173.99 L231.13,173.75 L231.69,173.29 L232.25,172.83 L232.71,172.59 L233.02,172.72 L233.17,173.22 L233.23,173.95 L233.29,174.67 L233.44,175.17 L233.75,175.3 L234.21,175.06 L234.77,174.6 L235.33,174.14 L235.8,173.9 L236.11,174.03 L236.26,174.53 L236.32,175.26 L236.37,175.98 L236.52,176.48 L236.83,176.61 L237.3,176.37 L237.86,175.91 L238.42,175.45 L238.89,175.21 L239.19,175.34 L239.35,175.84 L239.4,176.57 L239.46,177.29 L239.61,177.79 L239.92,177.92 L240.38,177.68" fill="none" stroke="#5a7a1c" stroke-width="0.8" stroke-linecap="round" stroke-linejoin="round" stroke-dasharray="0.9 2.1" opacity="0.8"/><path d="M221.77,176.63 L221.06,176.77 L220.58,176.99 L220.49,177.31 L220.78,177.74 L221.31,178.24 L221.84,178.74 L222.13,179.17 L222.04,179.5 L221.56,179.71 L220.85,179.85 L220.13,180 L219.66,180.21 L219.56,180.53 L219.86,180.96 L220.38,181.46 L220.91,181.96 L221.21,182.4 L221.11,182.72 L220.64,182.93 L219.92,183.07 L219.21,183.22 L218.73,183.43 L218.64,183.75 L218.93,184.19 L219.46,184.69 L219.99,185.19 L220.28,185.62 L220.19,185.94 L219.71,186.15 L219,186.3 L218.28,186.44 L217.81,186.65 L217.72,186.98 L218.01,187.41" fill="none" stroke="#a6d23c" stroke-width="1" stroke-linecap="round" stroke-linejoin="round"/><path d="M221.77,176.63 L221.06,176.77 L220.58,176.99 L220.49,177.31 L220.78,177.74 L221.31,178.24 L221.84,178.74 L222.13,179.17 L222.04,179.5 L221.56,179.71 L220.85,179.85 L220.13,180 L219.66,180.21 L219.56,180.53 L219.86,180.96 L220.38,181.46 L220.91,181.96 L221.21,182.4 L221.11,182.72 L220.64,182.93 L219.92,183.07 L219.21,183.22 L218.73,183.43 L218.64,183.75 L218.93,184.19 L219.46,184.69 L219.99,185.19 L220.28,185.62 L220.19,185.94 L219.71,186.15 L219,186.3 L218.28,186.44 L217.81,186.65 L217.72,186.98 L218.01,187.41" fill="none" stroke="#5a7a1c" stroke-width="0.8" stroke-linecap="round" stroke-linejoin="round" stroke-dasharray="0.9 2.1" opacity="0.8"/><path d="M217.52,173.19 L216.92,172.77 L216.44,172.58 L216.14,172.73 L216.03,173.25 L216.04,173.97 L216.05,174.7 L215.94,175.21 L215.64,175.37 L215.16,175.17 L214.56,174.76 L213.96,174.35 L213.48,174.15 L213.18,174.31 L213.07,174.82 L213.08,175.55 L213.09,176.28 L212.98,176.79 L212.68,176.94 L212.2,176.75 L211.6,176.33 L211,175.92 L210.52,175.73 L210.22,175.88 L210.11,176.39 L210.12,177.12 L210.13,177.85 L210.02,178.36 L209.72,178.52 L209.24,178.32 L208.64,177.91 L208.04,177.5 L207.55,177.3 L207.26,177.46 L207.15,177.97" fill="none" stroke="#a6d23c" stroke-width="1" stroke-linecap="round" stroke-linejoin="round"/><path d="M217.52,173.19 L216.92,172.77 L216.44,172.58 L216.14,172.73 L216.03,173.25 L216.04,173.97 L216.05,174.7 L215.94,175.21 L215.64,175.37 L215.16,175.17 L214.56,174.76 L213.96,174.35 L213.48,174.15 L213.18,174.31 L213.07,174.82 L213.08,175.55 L213.09,176.28 L212.98,176.79 L212.68,176.94 L212.2,176.75 L211.6,176.33 L211,175.92 L210.52,175.73 L210.22,175.88 L210.11,176.39 L210.12,177.12 L210.13,177.85 L210.02,178.36 L209.72,178.52 L209.24,178.32 L208.64,177.91 L208.04,177.5 L207.55,177.3 L207.26,177.46 L207.15,177.97" fill="none" stroke="#5a7a1c" stroke-width="0.8" stroke-linecap="round" stroke-linejoin="round" stroke-dasharray="0.9 2.1" opacity="0.8"/><circle cx="219.42" cy="165.14" r="1.5" fill="#f6b400"/><circle cx="227.81" cy="165" r="1.5" fill="#f6b400"/><circle cx="229.59" cy="172.4" r="1.5" fill="#f6b400"/><circle cx="221.94" cy="176.05" r="1.5" fill="#f6b400"/><circle cx="218.05" cy="172.9" r="1.5" fill="#f6b400"/><circle cx="223.7" cy="169.9" r="6.4" fill="url(#gNP)"/><path d="M246.36,170.49 L246.51,169.78 L246.5,169.26 L246.24,169.05 L245.72,169.15 L245.06,169.44 L244.39,169.73 L243.88,169.83 L243.62,169.62 L243.61,169.1 L243.75,168.38 L243.9,167.67 L243.89,167.15 L243.63,166.94 L243.12,167.04 L242.45,167.33 L241.78,167.62 L241.27,167.72 L241.01,167.51 L241,166.99 L241.15,166.27 L241.29,165.56 L241.29,165.04 L241.03,164.83 L240.51,164.93 L239.85,165.22 L239.18,165.51 L238.67,165.61 L238.41,165.4 L238.4,164.88 L238.54,164.16 L238.69,163.45 L238.68,162.93 L238.42,162.72 L237.91,162.82" fill="none" stroke="#a6d23c" stroke-width="1" stroke-linecap="round" stroke-linejoin="round"/><path d="M246.36,170.49 L246.51,169.78 L246.5,169.26 L246.24,169.05 L245.72,169.15 L245.06,169.44 L244.39,169.73 L243.88,169.83 L243.62,169.62 L243.61,169.1 L243.75,168.38 L243.9,167.67 L243.89,167.15 L243.63,166.94 L243.12,167.04 L242.45,167.33 L241.78,167.62 L241.27,167.72 L241.01,167.51 L241,166.99 L241.15,166.27 L241.29,165.56 L241.29,165.04 L241.03,164.83 L240.51,164.93 L239.85,165.22 L239.18,165.51 L238.67,165.61 L238.41,165.4 L238.4,164.88 L238.54,164.16 L238.69,163.45 L238.68,162.93 L238.42,162.72 L237.91,162.82" fill="none" stroke="#5a7a1c" stroke-width="0.8" stroke-linecap="round" stroke-linejoin="round" stroke-dasharray="0.9 2.1" opacity="0.8"/><path d="M254.08,168.28 L254.8,168.17 L255.29,167.99 L255.4,167.67 L255.13,167.22 L254.62,166.7 L254.12,166.17 L253.85,165.72 L253.96,165.4 L254.45,165.22 L255.17,165.11 L255.89,165 L256.38,164.82 L256.49,164.5 L256.22,164.05 L255.72,163.53 L255.21,163 L254.95,162.55 L255.05,162.23 L255.54,162.05 L256.26,161.94 L256.98,161.83 L257.47,161.65 L257.58,161.33 L257.31,160.88 L256.81,160.36 L256.31,159.83 L256.04,159.38 L256.15,159.06 L256.63,158.88 L257.35,158.77 L258.07,158.66 L258.56,158.48 L258.67,158.16 L258.4,157.71" fill="none" stroke="#a6d23c" stroke-width="1" stroke-linecap="round" stroke-linejoin="round"/><path d="M254.08,168.28 L254.8,168.17 L255.29,167.99 L255.4,167.67 L255.13,167.22 L254.62,166.7 L254.12,166.17 L253.85,165.72 L253.96,165.4 L254.45,165.22 L255.17,165.11 L255.89,165 L256.38,164.82 L256.49,164.5 L256.22,164.05 L255.72,163.53 L255.21,163 L254.95,162.55 L255.05,162.23 L255.54,162.05 L256.26,161.94 L256.98,161.83 L257.47,161.65 L257.58,161.33 L257.31,160.88 L256.81,160.36 L256.31,159.83 L256.04,159.38 L256.15,159.06 L256.63,158.88 L257.35,158.77 L258.07,158.66 L258.56,158.48 L258.67,158.16 L258.4,157.71" fill="none" stroke="#5a7a1c" stroke-width="0.8" stroke-linecap="round" stroke-linejoin="round" stroke-dasharray="0.9 2.1" opacity="0.8"/><path d="M258.79,174.53 L259.16,175.16 L259.51,175.54 L259.85,175.53 L260.16,175.11 L260.46,174.45 L260.77,173.78 L261.08,173.37 L261.41,173.35 L261.77,173.73 L262.14,174.36 L262.51,174.99 L262.86,175.37 L263.2,175.35 L263.51,174.93 L263.81,174.27 L264.11,173.61 L264.43,173.19 L264.76,173.17 L265.12,173.55 L265.49,174.18 L265.86,174.81 L266.21,175.19 L266.55,175.17 L266.86,174.76 L267.16,174.09 L267.46,173.43 L267.78,173.02 L268.11,173 L268.47,173.38 L268.84,174.01 L269.2,174.64 L269.56,175.02 L269.89,175 L270.21,174.58" fill="none" stroke="#a6d23c" stroke-width="1" stroke-linecap="round" stroke-linejoin="round"/><path d="M258.79,174.53 L259.16,175.16 L259.51,175.54 L259.85,175.53 L260.16,175.11 L260.46,174.45 L260.77,173.78 L261.08,173.37 L261.41,173.35 L261.77,173.73 L262.14,174.36 L262.51,174.99 L262.86,175.37 L263.2,175.35 L263.51,174.93 L263.81,174.27 L264.11,173.61 L264.43,173.19 L264.76,173.17 L265.12,173.55 L265.49,174.18 L265.86,174.81 L266.21,175.19 L266.55,175.17 L266.86,174.76 L267.16,174.09 L267.46,173.43 L267.78,173.02 L268.11,173 L268.47,173.38 L268.84,174.01 L269.2,174.64 L269.56,175.02 L269.89,175 L270.21,174.58" fill="none" stroke="#5a7a1c" stroke-width="0.8" stroke-linecap="round" stroke-linejoin="round" stroke-dasharray="0.9 2.1" opacity="0.8"/><path d="M254.98,181.14 L254.55,181.73 L254.35,182.21 L254.5,182.51 L255.01,182.63 L255.74,182.63 L256.47,182.64 L256.98,182.75 L257.13,183.05 L256.92,183.53 L256.5,184.12 L256.08,184.72 L255.87,185.2 L256.02,185.5 L256.53,185.61 L257.26,185.62 L257.99,185.62 L258.5,185.74 L258.65,186.04 L258.45,186.52 L258.02,187.11 L257.6,187.7 L257.39,188.18 L257.55,188.48 L258.06,188.6 L258.78,188.61 L259.51,188.61 L260.02,188.73 L260.17,189.03 L259.97,189.51 L259.54,190.1 L259.12,190.69 L258.92,191.17 L259.07,191.47 L259.58,191.59" fill="none" stroke="#a6d23c" stroke-width="1" stroke-linecap="round" stroke-linejoin="round"/><path d="M254.98,181.14 L254.55,181.73 L254.35,182.21 L254.5,182.51 L255.01,182.63 L255.74,182.63 L256.47,182.64 L256.98,182.75 L257.13,183.05 L256.92,183.53 L256.5,184.12 L256.08,184.72 L255.87,185.2 L256.02,185.5 L256.53,185.61 L257.26,185.62 L257.99,185.62 L258.5,185.74 L258.65,186.04 L258.45,186.52 L258.02,187.11 L257.6,187.7 L257.39,188.18 L257.55,188.48 L258.06,188.6 L258.78,188.61 L259.51,188.61 L260.02,188.73 L260.17,189.03 L259.97,189.51 L259.54,190.1 L259.12,190.69 L258.92,191.17 L259.07,191.47 L259.58,191.59" fill="none" stroke="#5a7a1c" stroke-width="0.8" stroke-linecap="round" stroke-linejoin="round" stroke-dasharray="0.9 2.1" opacity="0.8"/><path d="M247.03,180.02 L246.32,179.82 L245.8,179.8 L245.57,180.04 L245.64,180.56 L245.88,181.25 L246.13,181.93 L246.19,182.45 L245.96,182.69 L245.44,182.67 L244.74,182.47 L244.04,182.28 L243.52,182.25 L243.29,182.49 L243.35,183.01 L243.6,183.7 L243.84,184.38 L243.9,184.9 L243.68,185.15 L243.15,185.12 L242.45,184.92 L241.75,184.73 L241.23,184.7 L241,184.95 L241.07,185.46 L241.31,186.15 L241.55,186.84 L241.62,187.35 L241.39,187.6 L240.87,187.57 L240.17,187.38 L239.46,187.18 L238.94,187.15 L238.71,187.4 L238.78,187.92" fill="none" stroke="#a6d23c" stroke-width="1" stroke-linecap="round" stroke-linejoin="round"/><path d="M247.03,180.02 L246.32,179.82 L245.8,179.8 L245.57,180.04 L245.64,180.56 L245.88,181.25 L246.13,181.93 L246.19,182.45 L245.96,182.69 L245.44,182.67 L244.74,182.47 L244.04,182.28 L243.52,182.25 L243.29,182.49 L243.35,183.01 L243.6,183.7 L243.84,184.38 L243.9,184.9 L243.68,185.15 L243.15,185.12 L242.45,184.92 L241.75,184.73 L241.23,184.7 L241,184.95 L241.07,185.46 L241.31,186.15 L241.55,186.84 L241.62,187.35 L241.39,187.6 L240.87,187.57 L240.17,187.38 L239.46,187.18 L238.94,187.15 L238.71,187.4 L238.78,187.92" fill="none" stroke="#5a7a1c" stroke-width="0.8" stroke-linecap="round" stroke-linejoin="round" stroke-dasharray="0.9 2.1" opacity="0.8"/><circle cx="246.83" cy="170.87" r="1.5" fill="#f6b400"/><circle cx="253.88" cy="168.85" r="1.5" fill="#f6b400"/><circle cx="258.19" cy="174.57" r="1.5" fill="#f6b400"/><circle cx="254.71" cy="180.6" r="1.5" fill="#f6b400"/><circle cx="247.44" cy="179.58" r="1.5" fill="#f6b400"/><circle cx="251.8" cy="174.9" r="6.4" fill="url(#gNP)"/><path d="M231.26,188.81 L231.8,188.33 L232.11,187.91 L232.03,187.58 L231.56,187.36 L230.85,187.19 L230.14,187.02 L229.68,186.79 L229.59,186.46 L229.9,186.04 L230.45,185.56 L230.99,185.08 L231.3,184.66 L231.22,184.33 L230.75,184.1 L230.04,183.93 L229.33,183.76 L228.86,183.54 L228.78,183.21 L229.09,182.79 L229.64,182.31 L230.18,181.83 L230.49,181.4 L230.41,181.08 L229.94,180.85 L229.23,180.68 L228.52,180.51 L228.05,180.28 L227.97,179.96 L228.28,179.54 L228.82,179.05 L229.37,178.57 L229.68,178.15 L229.6,177.82 L229.13,177.6" fill="none" stroke="#a6d23c" stroke-width="1" stroke-linecap="round" stroke-linejoin="round"/><path d="M231.26,188.81 L231.8,188.33 L232.11,187.91 L232.03,187.58 L231.56,187.36 L230.85,187.19 L230.14,187.02 L229.68,186.79 L229.59,186.46 L229.9,186.04 L230.45,185.56 L230.99,185.08 L231.3,184.66 L231.22,184.33 L230.75,184.1 L230.04,183.93 L229.33,183.76 L228.86,183.54 L228.78,183.21 L229.09,182.79 L229.64,182.31 L230.18,181.83 L230.49,181.4 L230.41,181.08 L229.94,180.85 L229.23,180.68 L228.52,180.51 L228.05,180.28 L227.97,179.96 L228.28,179.54 L228.82,179.05 L229.37,178.57 L229.68,178.15 L229.6,177.82 L229.13,177.6" fill="none" stroke="#5a7a1c" stroke-width="0.8" stroke-linecap="round" stroke-linejoin="round" stroke-dasharray="0.9 2.1" opacity="0.8"/><path d="M239.95,193.94 L240.45,194.47 L240.87,194.77 L241.2,194.69 L241.42,194.21 L241.57,193.5 L241.73,192.79 L241.95,192.32 L242.27,192.23 L242.7,192.53 L243.19,193.07 L243.68,193.61 L244.11,193.91 L244.44,193.82 L244.66,193.35 L244.81,192.63 L244.97,191.92 L245.19,191.45 L245.51,191.36 L245.94,191.66 L246.43,192.2 L246.92,192.74 L247.35,193.04 L247.67,192.95 L247.89,192.48 L248.05,191.77 L248.21,191.06 L248.43,190.58 L248.75,190.5 L249.18,190.8 L249.67,191.33 L250.16,191.87 L250.59,192.17 L250.91,192.08 L251.13,191.61" fill="none" stroke="#a6d23c" stroke-width="1" stroke-linecap="round" stroke-linejoin="round"/><path d="M239.95,193.94 L240.45,194.47 L240.87,194.77 L241.2,194.69 L241.42,194.21 L241.57,193.5 L241.73,192.79 L241.95,192.32 L242.27,192.23 L242.7,192.53 L243.19,193.07 L243.68,193.61 L244.11,193.91 L244.44,193.82 L244.66,193.35 L244.81,192.63 L244.97,191.92 L245.19,191.45 L245.51,191.36 L245.94,191.66 L246.43,192.2 L246.92,192.74 L247.35,193.04 L247.67,192.95 L247.89,192.48 L248.05,191.77 L248.21,191.06 L248.43,190.58 L248.75,190.5 L249.18,190.8 L249.67,191.33 L250.16,191.87 L250.59,192.17 L250.91,192.08 L251.13,191.61" fill="none" stroke="#5a7a1c" stroke-width="0.8" stroke-linecap="round" stroke-linejoin="round" stroke-dasharray="0.9 2.1" opacity="0.8"/><path d="M238.27,200.71 L238.07,201.41 L238.04,201.93 L238.29,202.16 L238.81,202.1 L239.49,201.85 L240.18,201.61 L240.7,201.55 L240.94,201.77 L240.91,202.3 L240.72,203 L240.52,203.7 L240.49,204.22 L240.74,204.45 L241.26,204.38 L241.94,204.14 L242.63,203.9 L243.15,203.83 L243.39,204.06 L243.37,204.58 L243.17,205.28 L242.97,205.99 L242.95,206.51 L243.19,206.73 L243.71,206.67 L244.4,206.43 L245.08,206.18 L245.6,206.12 L245.85,206.35 L245.82,206.87 L245.62,207.57 L245.43,208.27 L245.4,208.79 L245.64,209.02 L246.16,208.96" fill="none" stroke="#a6d23c" stroke-width="1" stroke-linecap="round" stroke-linejoin="round"/><path d="M238.27,200.71 L238.07,201.41 L238.04,201.93 L238.29,202.16 L238.81,202.1 L239.49,201.85 L240.18,201.61 L240.7,201.55 L240.94,201.77 L240.91,202.3 L240.72,203 L240.52,203.7 L240.49,204.22 L240.74,204.45 L241.26,204.38 L241.94,204.14 L242.63,203.9 L243.15,203.83 L243.39,204.06 L243.37,204.58 L243.17,205.28 L242.97,205.99 L242.95,206.51 L243.19,206.73 L243.71,206.67 L244.4,206.43 L245.08,206.18 L245.6,206.12 L245.85,206.35 L245.82,206.87 L245.62,207.57 L245.43,208.27 L245.4,208.79 L245.64,209.02 L246.16,208.96" fill="none" stroke="#5a7a1c" stroke-width="0.8" stroke-linecap="round" stroke-linejoin="round" stroke-dasharray="0.9 2.1" opacity="0.8"/><path d="M228.77,201.62 L228.05,201.52 L227.53,201.55 L227.33,201.82 L227.46,202.33 L227.78,202.98 L228.11,203.63 L228.23,204.14 L228.04,204.41 L227.52,204.45 L226.8,204.34 L226.08,204.23 L225.56,204.27 L225.36,204.54 L225.49,205.04 L225.81,205.69 L226.14,206.35 L226.26,206.85 L226.07,207.12 L225.55,207.16 L224.83,207.05 L224.11,206.94 L223.59,206.98 L223.39,207.25 L223.51,207.76 L223.84,208.41 L224.17,209.06 L224.29,209.56 L224.1,209.84 L223.58,209.87 L222.86,209.76 L222.14,209.65 L221.61,209.69 L221.42,209.96 L221.54,210.47" fill="none" stroke="#a6d23c" stroke-width="1" stroke-linecap="round" stroke-linejoin="round"/><path d="M228.77,201.62 L228.05,201.52 L227.53,201.55 L227.33,201.82 L227.46,202.33 L227.78,202.98 L228.11,203.63 L228.23,204.14 L228.04,204.41 L227.52,204.45 L226.8,204.34 L226.08,204.23 L225.56,204.27 L225.36,204.54 L225.49,205.04 L225.81,205.69 L226.14,206.35 L226.26,206.85 L226.07,207.12 L225.55,207.16 L224.83,207.05 L224.11,206.94 L223.59,206.98 L223.39,207.25 L223.51,207.76 L223.84,208.41 L224.17,209.06 L224.29,209.56 L224.1,209.84 L223.58,209.87 L222.86,209.76 L222.14,209.65 L221.61,209.69 L221.42,209.96 L221.54,210.47" fill="none" stroke="#5a7a1c" stroke-width="0.8" stroke-linecap="round" stroke-linejoin="round" stroke-dasharray="0.9 2.1" opacity="0.8"/><path d="M225.84,196.55 L225.44,195.94 L225.06,195.58 L224.73,195.62 L224.44,196.05 L224.17,196.73 L223.91,197.41 L223.61,197.84 L223.28,197.87 L222.91,197.51 L222.5,196.9 L222.1,196.3 L221.73,195.93 L221.4,195.97 L221.1,196.4 L220.84,197.08 L220.57,197.76 L220.28,198.19 L219.95,198.22 L219.57,197.86 L219.17,197.25 L218.77,196.65 L218.39,196.28 L218.06,196.32 L217.77,196.75 L217.5,197.43 L217.24,198.11 L216.95,198.54 L216.61,198.57 L216.24,198.21 L215.84,197.6 L215.43,197 L215.06,196.63 L214.73,196.67 L214.43,197.1" fill="none" stroke="#a6d23c" stroke-width="1" stroke-linecap="round" stroke-linejoin="round"/><path d="M225.84,196.55 L225.44,195.94 L225.06,195.58 L224.73,195.62 L224.44,196.05 L224.17,196.73 L223.91,197.41 L223.61,197.84 L223.28,197.87 L222.91,197.51 L222.5,196.9 L222.1,196.3 L221.73,195.93 L221.4,195.97 L221.1,196.4 L220.84,197.08 L220.57,197.76 L220.28,198.19 L219.95,198.22 L219.57,197.86 L219.17,197.25 L218.77,196.65 L218.39,196.28 L218.06,196.32 L217.77,196.75 L217.5,197.43 L217.24,198.11 L216.95,198.54 L216.61,198.57 L216.24,198.21 L215.84,197.6 L215.43,197 L215.06,196.63 L214.73,196.67 L214.43,197.1" fill="none" stroke="#5a7a1c" stroke-width="0.8" stroke-linecap="round" stroke-linejoin="round" stroke-dasharray="0.9 2.1" opacity="0.8"/><circle cx="231.4" cy="189.4" r="1.5" fill="#f6b400"/><circle cx="239.38" cy="194.09" r="1.5" fill="#f6b400"/><circle cx="237.83" cy="200.3" r="1.5" fill="#f6b400"/><circle cx="229.12" cy="201.14" r="1.5" fill="#f6b400"/><circle cx="226.44" cy="196.49" r="1.5" fill="#f6b400"/><circle cx="233" cy="195.8" r="6.6" fill="url(#gNP)"/>
<path d="M219.02,230.4 L219.27,229.72 L219.34,229.2 L219.12,228.95 L218.6,228.97 L217.89,229.15 L217.19,229.34 L216.67,229.35 L216.44,229.1 L216.52,228.59 L216.77,227.91 L217.03,227.22 L217.1,226.71 L216.88,226.46 L216.36,226.48 L215.65,226.66 L214.95,226.84 L214.42,226.86 L214.2,226.61 L214.27,226.1 L214.53,225.41 L214.79,224.73 L214.86,224.22 L214.63,223.97 L214.11,223.99 L213.41,224.17 L212.7,224.35 L212.18,224.37 L211.96,224.12 L212.03,223.6 L212.29,222.92 L212.54,222.24 L212.61,221.72 L212.39,221.48 L211.87,221.49" fill="none" stroke="#c85ae0" stroke-width="1" stroke-linecap="round" stroke-linejoin="round"/><path d="M219.02,230.4 L219.27,229.72 L219.34,229.2 L219.12,228.95 L218.6,228.97 L217.89,229.15 L217.19,229.34 L216.67,229.35 L216.44,229.1 L216.52,228.59 L216.77,227.91 L217.03,227.22 L217.1,226.71 L216.88,226.46 L216.36,226.48 L215.65,226.66 L214.95,226.84 L214.42,226.86 L214.2,226.61 L214.27,226.1 L214.53,225.41 L214.79,224.73 L214.86,224.22 L214.63,223.97 L214.11,223.99 L213.41,224.17 L212.7,224.35 L212.18,224.37 L211.96,224.12 L212.03,223.6 L212.29,222.92 L212.54,222.24 L212.61,221.72 L212.39,221.48 L211.87,221.49" fill="none" stroke="#6a2888" stroke-width="0.8" stroke-linecap="round" stroke-linejoin="round" stroke-dasharray="0.9 2.1" opacity="0.8"/><path d="M228.2,230.24 L228.91,230.4 L229.43,230.4 L229.65,230.14 L229.56,229.63 L229.28,228.95 L229,228.28 L228.91,227.77 L229.12,227.51 L229.64,227.51 L230.35,227.67 L231.07,227.83 L231.59,227.83 L231.8,227.57 L231.71,227.06 L231.43,226.38 L231.15,225.71 L231.06,225.2 L231.28,224.94 L231.8,224.94 L232.51,225.1 L233.22,225.26 L233.74,225.26 L233.96,225 L233.87,224.49 L233.59,223.82 L233.31,223.14 L233.22,222.63 L233.43,222.37 L233.95,222.37 L234.67,222.53 L235.38,222.69 L235.9,222.69 L236.11,222.43 L236.02,221.92" fill="none" stroke="#c85ae0" stroke-width="1" stroke-linecap="round" stroke-linejoin="round"/><path d="M228.2,230.24 L228.91,230.4 L229.43,230.4 L229.65,230.14 L229.56,229.63 L229.28,228.95 L229,228.28 L228.91,227.77 L229.12,227.51 L229.64,227.51 L230.35,227.67 L231.07,227.83 L231.59,227.83 L231.8,227.57 L231.71,227.06 L231.43,226.38 L231.15,225.71 L231.06,225.2 L231.28,224.94 L231.8,224.94 L232.51,225.1 L233.22,225.26 L233.74,225.26 L233.96,225 L233.87,224.49 L233.59,223.82 L233.31,223.14 L233.22,222.63 L233.43,222.37 L233.95,222.37 L234.67,222.53 L235.38,222.69 L235.9,222.69 L236.11,222.43 L236.02,221.92" fill="none" stroke="#6a2888" stroke-width="0.8" stroke-linecap="round" stroke-linejoin="round" stroke-dasharray="0.9 2.1" opacity="0.8"/><path d="M230.14,238.34 L230.2,239.06 L230.35,239.56 L230.66,239.69 L231.13,239.45 L231.69,238.99 L232.25,238.53 L232.71,238.29 L233.02,238.42 L233.17,238.92 L233.23,239.65 L233.29,240.37 L233.44,240.87 L233.75,241 L234.21,240.76 L234.77,240.3 L235.33,239.84 L235.8,239.6 L236.11,239.73 L236.26,240.23 L236.32,240.96 L236.37,241.68 L236.52,242.18 L236.83,242.31 L237.3,242.07 L237.86,241.61 L238.42,241.15 L238.89,240.91 L239.19,241.04 L239.35,241.54 L239.4,242.27 L239.46,242.99 L239.61,243.49 L239.92,243.62 L240.38,243.38" fill="none" stroke="#c85ae0" stroke-width="1" stroke-linecap="round" stroke-linejoin="round"/><path d="M230.14,238.34 L230.2,239.06 L230.35,239.56 L230.66,239.69 L231.13,239.45 L231.69,238.99 L232.25,238.53 L232.71,238.29 L233.02,238.42 L233.17,238.92 L233.23,239.65 L233.29,240.37 L233.44,240.87 L233.75,241 L234.21,240.76 L234.77,240.3 L235.33,239.84 L235.8,239.6 L236.11,239.73 L236.26,240.23 L236.32,240.96 L236.37,241.68 L236.52,242.18 L236.83,242.31 L237.3,242.07 L237.86,241.61 L238.42,241.15 L238.89,240.91 L239.19,241.04 L239.35,241.54 L239.4,242.27 L239.46,242.99 L239.61,243.49 L239.92,243.62 L240.38,243.38" fill="none" stroke="#6a2888" stroke-width="0.8" stroke-linecap="round" stroke-linejoin="round" stroke-dasharray="0.9 2.1" opacity="0.8"/><path d="M221.77,242.33 L221.06,242.47 L220.58,242.69 L220.49,243.01 L220.78,243.44 L221.31,243.94 L221.84,244.44 L222.13,244.87 L222.04,245.2 L221.56,245.41 L220.85,245.55 L220.13,245.7 L219.66,245.91 L219.56,246.23 L219.86,246.66 L220.38,247.16 L220.91,247.66 L221.21,248.1 L221.11,248.42 L220.64,248.63 L219.92,248.77 L219.21,248.92 L218.73,249.13 L218.64,249.45 L218.93,249.89 L219.46,250.39 L219.99,250.89 L220.28,251.32 L220.19,251.64 L219.71,251.85 L219,252 L218.28,252.14 L217.81,252.35 L217.72,252.68 L218.01,253.11" fill="none" stroke="#c85ae0" stroke-width="1" stroke-linecap="round" stroke-linejoin="round"/><path d="M221.77,242.33 L221.06,242.47 L220.58,242.69 L220.49,243.01 L220.78,243.44 L221.31,243.94 L221.84,244.44 L222.13,244.87 L222.04,245.2 L221.56,245.41 L220.85,245.55 L220.13,245.7 L219.66,245.91 L219.56,246.23 L219.86,246.66 L220.38,247.16 L220.91,247.66 L221.21,248.1 L221.11,248.42 L220.64,248.63 L219.92,248.77 L219.21,248.92 L218.73,249.13 L218.64,249.45 L218.93,249.89 L219.46,250.39 L219.99,250.89 L220.28,251.32 L220.19,251.64 L219.71,251.85 L219,252 L218.28,252.14 L217.81,252.35 L217.72,252.68 L218.01,253.11" fill="none" stroke="#6a2888" stroke-width="0.8" stroke-linecap="round" stroke-linejoin="round" stroke-dasharray="0.9 2.1" opacity="0.8"/><path d="M217.52,238.89 L216.92,238.47 L216.44,238.28 L216.14,238.43 L216.03,238.95 L216.04,239.67 L216.05,240.4 L215.94,240.91 L215.64,241.07 L215.16,240.87 L214.56,240.46 L213.96,240.05 L213.48,239.85 L213.18,240.01 L213.07,240.52 L213.08,241.25 L213.09,241.98 L212.98,242.49 L212.68,242.64 L212.2,242.45 L211.6,242.03 L211,241.62 L210.52,241.43 L210.22,241.58 L210.11,242.09 L210.12,242.82 L210.13,243.55 L210.02,244.06 L209.72,244.22 L209.24,244.02 L208.64,243.61 L208.04,243.2 L207.55,243 L207.26,243.16 L207.15,243.67" fill="none" stroke="#c85ae0" stroke-width="1" stroke-linecap="round" stroke-linejoin="round"/><path d="M217.52,238.89 L216.92,238.47 L216.44,238.28 L216.14,238.43 L216.03,238.95 L216.04,239.67 L216.05,240.4 L215.94,240.91 L215.64,241.07 L215.16,240.87 L214.56,240.46 L213.96,240.05 L213.48,239.85 L213.18,240.01 L213.07,240.52 L213.08,241.25 L213.09,241.98 L212.98,242.49 L212.68,242.64 L212.2,242.45 L211.6,242.03 L211,241.62 L210.52,241.43 L210.22,241.58 L210.11,242.09 L210.12,242.82 L210.13,243.55 L210.02,244.06 L209.72,244.22 L209.24,244.02 L208.64,243.61 L208.04,243.2 L207.55,243 L207.26,243.16 L207.15,243.67" fill="none" stroke="#6a2888" stroke-width="0.8" stroke-linecap="round" stroke-linejoin="round" stroke-dasharray="0.9 2.1" opacity="0.8"/><circle cx="219.42" cy="230.84" r="1.5" fill="#f6b400"/><circle cx="227.81" cy="230.7" r="1.5" fill="#f6b400"/><circle cx="229.59" cy="238.1" r="1.5" fill="#f6b400"/><circle cx="221.94" cy="241.75" r="1.5" fill="#f6b400"/><circle cx="218.05" cy="238.6" r="1.5" fill="#f6b400"/><circle cx="223.7" cy="235.6" r="6.4" fill="url(#gNP)"/><path d="M246.36,236.19 L246.51,235.48 L246.5,234.96 L246.24,234.75 L245.72,234.85 L245.06,235.14 L244.39,235.43 L243.88,235.53 L243.62,235.32 L243.61,234.8 L243.75,234.08 L243.9,233.37 L243.89,232.85 L243.63,232.64 L243.12,232.74 L242.45,233.03 L241.78,233.32 L241.27,233.42 L241.01,233.21 L241,232.69 L241.15,231.97 L241.29,231.26 L241.29,230.74 L241.03,230.53 L240.51,230.63 L239.85,230.92 L239.18,231.21 L238.67,231.31 L238.41,231.1 L238.4,230.58 L238.54,229.86 L238.69,229.15 L238.68,228.63 L238.42,228.42 L237.91,228.52" fill="none" stroke="#c85ae0" stroke-width="1" stroke-linecap="round" stroke-linejoin="round"/><path d="M246.36,236.19 L246.51,235.48 L246.5,234.96 L246.24,234.75 L245.72,234.85 L245.06,235.14 L244.39,235.43 L243.88,235.53 L243.62,235.32 L243.61,234.8 L243.75,234.08 L243.9,233.37 L243.89,232.85 L243.63,232.64 L243.12,232.74 L242.45,233.03 L241.78,233.32 L241.27,233.42 L241.01,233.21 L241,232.69 L241.15,231.97 L241.29,231.26 L241.29,230.74 L241.03,230.53 L240.51,230.63 L239.85,230.92 L239.18,231.21 L238.67,231.31 L238.41,231.1 L238.4,230.58 L238.54,229.86 L238.69,229.15 L238.68,228.63 L238.42,228.42 L237.91,228.52" fill="none" stroke="#6a2888" stroke-width="0.8" stroke-linecap="round" stroke-linejoin="round" stroke-dasharray="0.9 2.1" opacity="0.8"/><path d="M254.08,233.98 L254.8,233.87 L255.29,233.69 L255.4,233.37 L255.13,232.92 L254.62,232.4 L254.12,231.87 L253.85,231.42 L253.96,231.1 L254.45,230.92 L255.17,230.81 L255.89,230.7 L256.38,230.52 L256.49,230.2 L256.22,229.75 L255.72,229.23 L255.21,228.7 L254.95,228.25 L255.05,227.93 L255.54,227.75 L256.26,227.64 L256.98,227.53 L257.47,227.35 L257.58,227.03 L257.31,226.58 L256.81,226.06 L256.31,225.53 L256.04,225.08 L256.15,224.76 L256.63,224.58 L257.35,224.47 L258.07,224.36 L258.56,224.18 L258.67,223.86 L258.4,223.41" fill="none" stroke="#c85ae0" stroke-width="1" stroke-linecap="round" stroke-linejoin="round"/><path d="M254.08,233.98 L254.8,233.87 L255.29,233.69 L255.4,233.37 L255.13,232.92 L254.62,232.4 L254.12,231.87 L253.85,231.42 L253.96,231.1 L254.45,230.92 L255.17,230.81 L255.89,230.7 L256.38,230.52 L256.49,230.2 L256.22,229.75 L255.72,229.23 L255.21,228.7 L254.95,228.25 L255.05,227.93 L255.54,227.75 L256.26,227.64 L256.98,227.53 L257.47,227.35 L257.58,227.03 L257.31,226.58 L256.81,226.06 L256.31,225.53 L256.04,225.08 L256.15,224.76 L256.63,224.58 L257.35,224.47 L258.07,224.36 L258.56,224.18 L258.67,223.86 L258.4,223.41" fill="none" stroke="#6a2888" stroke-width="0.8" stroke-linecap="round" stroke-linejoin="round" stroke-dasharray="0.9 2.1" opacity="0.8"/><path d="M258.79,240.23 L259.16,240.86 L259.51,241.24 L259.85,241.23 L260.16,240.81 L260.46,240.15 L260.77,239.48 L261.08,239.07 L261.41,239.05 L261.77,239.43 L262.14,240.06 L262.51,240.69 L262.86,241.07 L263.2,241.05 L263.51,240.63 L263.81,239.97 L264.11,239.31 L264.43,238.89 L264.76,238.87 L265.12,239.25 L265.49,239.88 L265.86,240.51 L266.21,240.89 L266.55,240.87 L266.86,240.46 L267.16,239.79 L267.46,239.13 L267.78,238.72 L268.11,238.7 L268.47,239.08 L268.84,239.71 L269.2,240.34 L269.56,240.72 L269.89,240.7 L270.21,240.28" fill="none" stroke="#c85ae0" stroke-width="1" stroke-linecap="round" stroke-linejoin="round"/><path d="M258.79,240.23 L259.16,240.86 L259.51,241.24 L259.85,241.23 L260.16,240.81 L260.46,240.15 L260.77,239.48 L261.08,239.07 L261.41,239.05 L261.77,239.43 L262.14,240.06 L262.51,240.69 L262.86,241.07 L263.2,241.05 L263.51,240.63 L263.81,239.97 L264.11,239.31 L264.43,238.89 L264.76,238.87 L265.12,239.25 L265.49,239.88 L265.86,240.51 L266.21,240.89 L266.55,240.87 L266.86,240.46 L267.16,239.79 L267.46,239.13 L267.78,238.72 L268.11,238.7 L268.47,239.08 L268.84,239.71 L269.2,240.34 L269.56,240.72 L269.89,240.7 L270.21,240.28" fill="none" stroke="#6a2888" stroke-width="0.8" stroke-linecap="round" stroke-linejoin="round" stroke-dasharray="0.9 2.1" opacity="0.8"/><path d="M254.98,246.84 L254.55,247.43 L254.35,247.91 L254.5,248.21 L255.01,248.33 L255.74,248.33 L256.47,248.34 L256.98,248.45 L257.13,248.75 L256.92,249.23 L256.5,249.82 L256.08,250.42 L255.87,250.9 L256.02,251.2 L256.53,251.31 L257.26,251.32 L257.99,251.32 L258.5,251.44 L258.65,251.74 L258.45,252.22 L258.02,252.81 L257.6,253.4 L257.39,253.88 L257.55,254.18 L258.06,254.3 L258.78,254.31 L259.51,254.31 L260.02,254.43 L260.17,254.73 L259.97,255.21 L259.54,255.8 L259.12,256.39 L258.92,256.87 L259.07,257.17 L259.58,257.29" fill="none" stroke="#c85ae0" stroke-width="1" stroke-linecap="round" stroke-linejoin="round"/><path d="M254.98,246.84 L254.55,247.43 L254.35,247.91 L254.5,248.21 L255.01,248.33 L255.74,248.33 L256.47,248.34 L256.98,248.45 L257.13,248.75 L256.92,249.23 L256.5,249.82 L256.08,250.42 L255.87,250.9 L256.02,251.2 L256.53,251.31 L257.26,251.32 L257.99,251.32 L258.5,251.44 L258.65,251.74 L258.45,252.22 L258.02,252.81 L257.6,253.4 L257.39,253.88 L257.55,254.18 L258.06,254.3 L258.78,254.31 L259.51,254.31 L260.02,254.43 L260.17,254.73 L259.97,255.21 L259.54,255.8 L259.12,256.39 L258.92,256.87 L259.07,257.17 L259.58,257.29" fill="none" stroke="#6a2888" stroke-width="0.8" stroke-linecap="round" stroke-linejoin="round" stroke-dasharray="0.9 2.1" opacity="0.8"/><path d="M247.03,245.72 L246.32,245.52 L245.8,245.5 L245.57,245.74 L245.64,246.26 L245.88,246.95 L246.13,247.63 L246.19,248.15 L245.96,248.39 L245.44,248.37 L244.74,248.17 L244.04,247.98 L243.52,247.95 L243.29,248.19 L243.35,248.71 L243.6,249.4 L243.84,250.08 L243.9,250.6 L243.68,250.85 L243.15,250.82 L242.45,250.62 L241.75,250.43 L241.23,250.4 L241,250.65 L241.07,251.16 L241.31,251.85 L241.55,252.54 L241.62,253.05 L241.39,253.3 L240.87,253.27 L240.17,253.08 L239.46,252.88 L238.94,252.85 L238.71,253.1 L238.78,253.62" fill="none" stroke="#c85ae0" stroke-width="1" stroke-linecap="round" stroke-linejoin="round"/><path d="M247.03,245.72 L246.32,245.52 L245.8,245.5 L245.57,245.74 L245.64,246.26 L245.88,246.95 L246.13,247.63 L246.19,248.15 L245.96,248.39 L245.44,248.37 L244.74,248.17 L244.04,247.98 L243.52,247.95 L243.29,248.19 L243.35,248.71 L243.6,249.4 L243.84,250.08 L243.9,250.6 L243.68,250.85 L243.15,250.82 L242.45,250.62 L241.75,250.43 L241.23,250.4 L241,250.65 L241.07,251.16 L241.31,251.85 L241.55,252.54 L241.62,253.05 L241.39,253.3 L240.87,253.27 L240.17,253.08 L239.46,252.88 L238.94,252.85 L238.71,253.1 L238.78,253.62" fill="none" stroke="#6a2888" stroke-width="0.8" stroke-linecap="round" stroke-linejoin="round" stroke-dasharray="0.9 2.1" opacity="0.8"/><circle cx="246.83" cy="236.57" r="1.5" fill="#f6b400"/><circle cx="253.88" cy="234.55" r="1.5" fill="#f6b400"/><circle cx="258.19" cy="240.27" r="1.5" fill="#f6b400"/><circle cx="254.71" cy="246.3" r="1.5" fill="#f6b400"/><circle cx="247.44" cy="245.28" r="1.5" fill="#f6b400"/><circle cx="251.8" cy="240.6" r="6.4" fill="url(#gNP)"/><path d="M231.26,254.51 L231.8,254.03 L232.11,253.61 L232.03,253.28 L231.56,253.06 L230.85,252.89 L230.14,252.72 L229.68,252.49 L229.59,252.16 L229.9,251.74 L230.45,251.26 L230.99,250.78 L231.3,250.36 L231.22,250.03 L230.75,249.8 L230.04,249.63 L229.33,249.46 L228.86,249.24 L228.78,248.91 L229.09,248.49 L229.64,248.01 L230.18,247.53 L230.49,247.1 L230.41,246.78 L229.94,246.55 L229.23,246.38 L228.52,246.21 L228.05,245.98 L227.97,245.66 L228.28,245.24 L228.82,244.75 L229.37,244.27 L229.68,243.85 L229.6,243.52 L229.13,243.3" fill="none" stroke="#c85ae0" stroke-width="1" stroke-linecap="round" stroke-linejoin="round"/><path d="M231.26,254.51 L231.8,254.03 L232.11,253.61 L232.03,253.28 L231.56,253.06 L230.85,252.89 L230.14,252.72 L229.68,252.49 L229.59,252.16 L229.9,251.74 L230.45,251.26 L230.99,250.78 L231.3,250.36 L231.22,250.03 L230.75,249.8 L230.04,249.63 L229.33,249.46 L228.86,249.24 L228.78,248.91 L229.09,248.49 L229.64,248.01 L230.18,247.53 L230.49,247.1 L230.41,246.78 L229.94,246.55 L229.23,246.38 L228.52,246.21 L228.05,245.98 L227.97,245.66 L228.28,245.24 L228.82,244.75 L229.37,244.27 L229.68,243.85 L229.6,243.52 L229.13,243.3" fill="none" stroke="#6a2888" stroke-width="0.8" stroke-linecap="round" stroke-linejoin="round" stroke-dasharray="0.9 2.1" opacity="0.8"/><path d="M239.95,259.64 L240.45,260.17 L240.87,260.47 L241.2,260.39 L241.42,259.91 L241.57,259.2 L241.73,258.49 L241.95,258.02 L242.27,257.93 L242.7,258.23 L243.19,258.77 L243.68,259.31 L244.11,259.61 L244.44,259.52 L244.66,259.05 L244.81,258.33 L244.97,257.62 L245.19,257.15 L245.51,257.06 L245.94,257.36 L246.43,257.9 L246.92,258.44 L247.35,258.74 L247.67,258.65 L247.89,258.18 L248.05,257.47 L248.21,256.76 L248.43,256.28 L248.75,256.2 L249.18,256.5 L249.67,257.03 L250.16,257.57 L250.59,257.87 L250.91,257.78 L251.13,257.31" fill="none" stroke="#c85ae0" stroke-width="1" stroke-linecap="round" stroke-linejoin="round"/><path d="M239.95,259.64 L240.45,260.17 L240.87,260.47 L241.2,260.39 L241.42,259.91 L241.57,259.2 L241.73,258.49 L241.95,258.02 L242.27,257.93 L242.7,258.23 L243.19,258.77 L243.68,259.31 L244.11,259.61 L244.44,259.52 L244.66,259.05 L244.81,258.33 L244.97,257.62 L245.19,257.15 L245.51,257.06 L245.94,257.36 L246.43,257.9 L246.92,258.44 L247.35,258.74 L247.67,258.65 L247.89,258.18 L248.05,257.47 L248.21,256.76 L248.43,256.28 L248.75,256.2 L249.18,256.5 L249.67,257.03 L250.16,257.57 L250.59,257.87 L250.91,257.78 L251.13,257.31" fill="none" stroke="#6a2888" stroke-width="0.8" stroke-linecap="round" stroke-linejoin="round" stroke-dasharray="0.9 2.1" opacity="0.8"/><path d="M238.27,266.41 L238.07,267.11 L238.04,267.63 L238.29,267.86 L238.81,267.8 L239.49,267.55 L240.18,267.31 L240.7,267.25 L240.94,267.47 L240.91,268 L240.72,268.7 L240.52,269.4 L240.49,269.92 L240.74,270.15 L241.26,270.08 L241.94,269.84 L242.63,269.6 L243.15,269.53 L243.39,269.76 L243.37,270.28 L243.17,270.98 L242.97,271.69 L242.95,272.21 L243.19,272.43 L243.71,272.37 L244.4,272.13 L245.08,271.88 L245.6,271.82 L245.85,272.05 L245.82,272.57 L245.62,273.27 L245.43,273.97 L245.4,274.49 L245.64,274.72 L246.16,274.66" fill="none" stroke="#c85ae0" stroke-width="1" stroke-linecap="round" stroke-linejoin="round"/><path d="M238.27,266.41 L238.07,267.11 L238.04,267.63 L238.29,267.86 L238.81,267.8 L239.49,267.55 L240.18,267.31 L240.7,267.25 L240.94,267.47 L240.91,268 L240.72,268.7 L240.52,269.4 L240.49,269.92 L240.74,270.15 L241.26,270.08 L241.94,269.84 L242.63,269.6 L243.15,269.53 L243.39,269.76 L243.37,270.28 L243.17,270.98 L242.97,271.69 L242.95,272.21 L243.19,272.43 L243.71,272.37 L244.4,272.13 L245.08,271.88 L245.6,271.82 L245.85,272.05 L245.82,272.57 L245.62,273.27 L245.43,273.97 L245.4,274.49 L245.64,274.72 L246.16,274.66" fill="none" stroke="#6a2888" stroke-width="0.8" stroke-linecap="round" stroke-linejoin="round" stroke-dasharray="0.9 2.1" opacity="0.8"/><path d="M228.77,267.32 L228.05,267.22 L227.53,267.25 L227.33,267.52 L227.46,268.03 L227.78,268.68 L228.11,269.33 L228.23,269.84 L228.04,270.11 L227.52,270.15 L226.8,270.04 L226.08,269.93 L225.56,269.97 L225.36,270.24 L225.49,270.74 L225.81,271.39 L226.14,272.05 L226.26,272.55 L226.07,272.82 L225.55,272.86 L224.83,272.75 L224.11,272.64 L223.59,272.68 L223.39,272.95 L223.51,273.46 L223.84,274.11 L224.17,274.76 L224.29,275.26 L224.1,275.54 L223.58,275.57 L222.86,275.46 L222.14,275.35 L221.61,275.39 L221.42,275.66 L221.54,276.17" fill="none" stroke="#c85ae0" stroke-width="1" stroke-linecap="round" stroke-linejoin="round"/><path d="M228.77,267.32 L228.05,267.22 L227.53,267.25 L227.33,267.52 L227.46,268.03 L227.78,268.68 L228.11,269.33 L228.23,269.84 L228.04,270.11 L227.52,270.15 L226.8,270.04 L226.08,269.93 L225.56,269.97 L225.36,270.24 L225.49,270.74 L225.81,271.39 L226.14,272.05 L226.26,272.55 L226.07,272.82 L225.55,272.86 L224.83,272.75 L224.11,272.64 L223.59,272.68 L223.39,272.95 L223.51,273.46 L223.84,274.11 L224.17,274.76 L224.29,275.26 L224.1,275.54 L223.58,275.57 L222.86,275.46 L222.14,275.35 L221.61,275.39 L221.42,275.66 L221.54,276.17" fill="none" stroke="#6a2888" stroke-width="0.8" stroke-linecap="round" stroke-linejoin="round" stroke-dasharray="0.9 2.1" opacity="0.8"/><path d="M225.84,262.25 L225.44,261.64 L225.06,261.28 L224.73,261.32 L224.44,261.75 L224.17,262.43 L223.91,263.11 L223.61,263.54 L223.28,263.57 L222.91,263.21 L222.5,262.6 L222.1,262 L221.73,261.63 L221.4,261.67 L221.1,262.1 L220.84,262.78 L220.57,263.46 L220.28,263.89 L219.95,263.92 L219.57,263.56 L219.17,262.95 L218.77,262.35 L218.39,261.98 L218.06,262.02 L217.77,262.45 L217.5,263.13 L217.24,263.81 L216.95,264.24 L216.61,264.27 L216.24,263.91 L215.84,263.3 L215.43,262.7 L215.06,262.33 L214.73,262.37 L214.43,262.8" fill="none" stroke="#c85ae0" stroke-width="1" stroke-linecap="round" stroke-linejoin="round"/><path d="M225.84,262.25 L225.44,261.64 L225.06,261.28 L224.73,261.32 L224.44,261.75 L224.17,262.43 L223.91,263.11 L223.61,263.54 L223.28,263.57 L222.91,263.21 L222.5,262.6 L222.1,262 L221.73,261.63 L221.4,261.67 L221.1,262.1 L220.84,262.78 L220.57,263.46 L220.28,263.89 L219.95,263.92 L219.57,263.56 L219.17,262.95 L218.77,262.35 L218.39,261.98 L218.06,262.02 L217.77,262.45 L217.5,263.13 L217.24,263.81 L216.95,264.24 L216.61,264.27 L216.24,263.91 L215.84,263.3 L215.43,262.7 L215.06,262.33 L214.73,262.37 L214.43,262.8" fill="none" stroke="#6a2888" stroke-width="0.8" stroke-linecap="round" stroke-linejoin="round" stroke-dasharray="0.9 2.1" opacity="0.8"/><circle cx="231.4" cy="255.1" r="1.5" fill="#f6b400"/><circle cx="239.38" cy="259.79" r="1.5" fill="#f6b400"/><circle cx="237.83" cy="266" r="1.5" fill="#f6b400"/><circle cx="229.12" cy="266.84" r="1.5" fill="#f6b400"/><circle cx="226.44" cy="262.19" r="1.5" fill="#f6b400"/><circle cx="233" cy="261.5" r="6.6" fill="url(#gNP)"/>
<path d="M305,46.2 L305.44,45.59 L305.67,45.04 L305.54,44.59 L305.07,44.23 L304.38,43.93 L303.68,43.63 L303.21,43.28 L303.08,42.82 L303.31,42.27 L303.75,41.66 L304.19,41.05 L304.42,40.5 L304.29,40.05 L303.82,39.69 L303.12,39.4 L302.43,39.1 L301.96,38.74 L301.83,38.29 L302.06,37.74 L302.5,37.13 L302.94,36.52 L303.17,35.97 L303.04,35.52 L302.57,35.16 L301.88,34.86 L301.18,34.56 L300.71,34.21 L300.58,33.75" fill="none" stroke="#3cd0ee" stroke-width="1" stroke-linecap="round" stroke-linejoin="round"/><path d="M305,46.2 L305.44,45.59 L305.67,45.04 L305.54,44.59 L305.07,44.23 L304.38,43.93 L303.68,43.63 L303.21,43.28 L303.08,42.82 L303.31,42.27 L303.75,41.66 L304.19,41.05 L304.42,40.5 L304.29,40.05 L303.82,39.69 L303.12,39.4 L302.43,39.1 L301.96,38.74 L301.83,38.29 L302.06,37.74 L302.5,37.13 L302.94,36.52 L303.17,35.97 L303.04,35.52 L302.57,35.16 L301.88,34.86 L301.18,34.56 L300.71,34.21 L300.58,33.75" fill="none" stroke="#1d6c7c" stroke-width="0.8" stroke-linecap="round" stroke-linejoin="round" stroke-dasharray="0.9 2.1" opacity="0.8"/><path d="M293.5,61 L293.64,60.29 L293.62,59.74 L293.34,59.44 L292.79,59.38 L292.07,59.48 L291.36,59.58 L290.81,59.53 L290.52,59.22 L290.5,58.67 L290.64,57.96 L290.79,57.26 L290.76,56.71 L290.48,56.4 L289.93,56.35 L289.21,56.45 L288.5,56.55 L287.95,56.49 L287.66,56.19 L287.64,55.63 L287.79,54.93 L287.93,54.22 L287.91,53.67 L287.62,53.37 L287.07,53.31 L286.36,53.41 L285.64,53.51 L285.09,53.46 L284.81,53.15" fill="none" stroke="#3cd0ee" stroke-width="1" stroke-linecap="round" stroke-linejoin="round"/><path d="M293.5,61 L293.64,60.29 L293.62,59.74 L293.34,59.44 L292.79,59.38 L292.07,59.48 L291.36,59.58 L290.81,59.53 L290.52,59.22 L290.5,58.67 L290.64,57.96 L290.79,57.26 L290.76,56.71 L290.48,56.4 L289.93,56.35 L289.21,56.45 L288.5,56.55 L287.95,56.49 L287.66,56.19 L287.64,55.63 L287.79,54.93 L287.93,54.22 L287.91,53.67 L287.62,53.37 L287.07,53.31 L286.36,53.41 L285.64,53.51 L285.09,53.46 L284.81,53.15" fill="none" stroke="#1d6c7c" stroke-width="0.8" stroke-linecap="round" stroke-linejoin="round" stroke-dasharray="0.9 2.1" opacity="0.8"/><path d="M315.5,58.2 L316.23,58.18 L316.78,58.03 L317.03,57.67 L316.98,57.11 L316.75,56.41 L316.52,55.72 L316.47,55.15 L316.72,54.8 L317.27,54.65 L318,54.63 L318.73,54.61 L319.28,54.46 L319.53,54.1 L319.48,53.54 L319.25,52.84 L319.02,52.15 L318.97,51.58 L319.22,51.23 L319.77,51.08 L320.5,51.06 L321.23,51.04 L321.78,50.89 L322.03,50.53 L321.98,49.97 L321.75,49.27 L321.52,48.58 L321.47,48.01 L321.72,47.65" fill="none" stroke="#3cd0ee" stroke-width="1" stroke-linecap="round" stroke-linejoin="round"/><path d="M315.5,58.2 L316.23,58.18 L316.78,58.03 L317.03,57.67 L316.98,57.11 L316.75,56.41 L316.52,55.72 L316.47,55.15 L316.72,54.8 L317.27,54.65 L318,54.63 L318.73,54.61 L319.28,54.46 L319.53,54.1 L319.48,53.54 L319.25,52.84 L319.02,52.15 L318.97,51.58 L319.22,51.23 L319.77,51.08 L320.5,51.06 L321.23,51.04 L321.78,50.89 L322.03,50.53 L321.98,49.97 L321.75,49.27 L321.52,48.58 L321.47,48.01 L321.72,47.65" fill="none" stroke="#1d6c7c" stroke-width="0.8" stroke-linecap="round" stroke-linejoin="round" stroke-dasharray="0.9 2.1" opacity="0.8"/><circle cx="305" cy="46.2" r="1.5" fill="#f6b400"/><circle cx="293.5" cy="61" r="1.5" fill="#f6b400"/><circle cx="315.5" cy="58.2" r="1.5" fill="#f6b400"/><circle cx="305.4" cy="52.7" r="6.5" fill="url(#gMauve)"/><circle cx="299.1" cy="65.7" r="6.5" fill="url(#gMauve)"/><circle cx="313.4" cy="64.4" r="6.5" fill="url(#gMauve)"/>
<path d="M421,45.5 L421.66,45.83 L422.23,45.97 L422.64,45.77 L422.9,45.24 L423.05,44.52 L423.21,43.79 L423.46,43.27 L423.88,43.07 L424.44,43.2 L425.11,43.54 L425.77,43.87 L426.34,44 L426.75,43.8 L427,43.28 L427.16,42.55 L427.32,41.83 L427.57,41.3 L427.98,41.11 L428.55,41.24 L429.21,41.57 L429.88,41.91 L430.45,42.04 L430.86,41.84 L431.11,41.32 L431.27,40.59 L431.42,39.86 L431.68,39.34 L432.09,39.14" fill="none" stroke="#3cd0ee" stroke-width="1" stroke-linecap="round" stroke-linejoin="round"/><path d="M421,45.5 L421.66,45.83 L422.23,45.97 L422.64,45.77 L422.9,45.24 L423.05,44.52 L423.21,43.79 L423.46,43.27 L423.88,43.07 L424.44,43.2 L425.11,43.54 L425.77,43.87 L426.34,44 L426.75,43.8 L427,43.28 L427.16,42.55 L427.32,41.83 L427.57,41.3 L427.98,41.11 L428.55,41.24 L429.21,41.57 L429.88,41.91 L430.45,42.04 L430.86,41.84 L431.11,41.32 L431.27,40.59 L431.42,39.86 L431.68,39.34 L432.09,39.14" fill="none" stroke="#1d6c7c" stroke-width="0.8" stroke-linecap="round" stroke-linejoin="round" stroke-dasharray="0.9 2.1" opacity="0.8"/><path d="M441,39.5 L440.91,40.24 L440.97,40.82 L441.29,41.14 L441.87,41.2 L442.61,41.11 L443.34,41.01 L443.92,41.08 L444.24,41.4 L444.31,41.98 L444.21,42.71 L444.12,43.45 L444.18,44.03 L444.51,44.35 L445.08,44.42 L445.82,44.32 L446.56,44.23 L447.14,44.29 L447.46,44.61 L447.52,45.19 L447.43,45.93 L447.33,46.67 L447.4,47.24 L447.72,47.57 L448.3,47.63 L449.04,47.54 L449.77,47.44 L450.35,47.51 L450.67,47.83" fill="none" stroke="#3cd0ee" stroke-width="1" stroke-linecap="round" stroke-linejoin="round"/><path d="M441,39.5 L440.91,40.24 L440.97,40.82 L441.29,41.14 L441.87,41.2 L442.61,41.11 L443.34,41.01 L443.92,41.08 L444.24,41.4 L444.31,41.98 L444.21,42.71 L444.12,43.45 L444.18,44.03 L444.51,44.35 L445.08,44.42 L445.82,44.32 L446.56,44.23 L447.14,44.29 L447.46,44.61 L447.52,45.19 L447.43,45.93 L447.33,46.67 L447.4,47.24 L447.72,47.57 L448.3,47.63 L449.04,47.54 L449.77,47.44 L450.35,47.51 L450.67,47.83" fill="none" stroke="#1d6c7c" stroke-width="0.8" stroke-linecap="round" stroke-linejoin="round" stroke-dasharray="0.9 2.1" opacity="0.8"/><path d="M420.5,67.5 L421.2,67.41 L421.71,67.21 L421.89,66.85 L421.74,66.33 L421.39,65.71 L421.05,65.09 L420.9,64.57 L421.08,64.22 L421.58,64.02 L422.29,63.93 L422.99,63.83 L423.49,63.64 L423.67,63.28 L423.53,62.76 L423.18,62.14 L422.83,61.52 L422.69,61 L422.86,60.65 L423.37,60.45 L424.07,60.36 L424.78,60.26 L425.28,60.07 L425.46,59.71 L425.31,59.19 L424.96,58.57 L424.62,57.95 L424.47,57.43 L424.65,57.07" fill="none" stroke="#3cd0ee" stroke-width="1" stroke-linecap="round" stroke-linejoin="round"/><path d="M420.5,67.5 L421.2,67.41 L421.71,67.21 L421.89,66.85 L421.74,66.33 L421.39,65.71 L421.05,65.09 L420.9,64.57 L421.08,64.22 L421.58,64.02 L422.29,63.93 L422.99,63.83 L423.49,63.64 L423.67,63.28 L423.53,62.76 L423.18,62.14 L422.83,61.52 L422.69,61 L422.86,60.65 L423.37,60.45 L424.07,60.36 L424.78,60.26 L425.28,60.07 L425.46,59.71 L425.31,59.19 L424.96,58.57 L424.62,57.95 L424.47,57.43 L424.65,57.07" fill="none" stroke="#1d6c7c" stroke-width="0.8" stroke-linecap="round" stroke-linejoin="round" stroke-dasharray="0.9 2.1" opacity="0.8"/><path d="M452.5,67.5 L453.14,67.12 L453.55,66.72 L453.6,66.27 L453.3,65.78 L452.77,65.27 L452.24,64.75 L451.93,64.26 L451.98,63.82 L452.4,63.41 L453.04,63.04 L453.67,62.66 L454.09,62.26 L454.14,61.81 L453.83,61.32 L453.3,60.8 L452.77,60.29 L452.47,59.8 L452.52,59.35 L452.93,58.95 L453.57,58.57 L454.21,58.2 L454.62,57.79 L454.68,57.35 L454.37,56.86 L453.84,56.34 L453.31,55.82 L453,55.33 L453.06,54.89" fill="none" stroke="#3cd0ee" stroke-width="1" stroke-linecap="round" stroke-linejoin="round"/><path d="M452.5,67.5 L453.14,67.12 L453.55,66.72 L453.6,66.27 L453.3,65.78 L452.77,65.27 L452.24,64.75 L451.93,64.26 L451.98,63.82 L452.4,63.41 L453.04,63.04 L453.67,62.66 L454.09,62.26 L454.14,61.81 L453.83,61.32 L453.3,60.8 L452.77,60.29 L452.47,59.8 L452.52,59.35 L452.93,58.95 L453.57,58.57 L454.21,58.2 L454.62,57.79 L454.68,57.35 L454.37,56.86 L453.84,56.34 L453.31,55.82 L453,55.33 L453.06,54.89" fill="none" stroke="#1d6c7c" stroke-width="0.8" stroke-linecap="round" stroke-linejoin="round" stroke-dasharray="0.9 2.1" opacity="0.8"/><circle cx="432.5" cy="40" r="1.5" fill="#f6b400"/><circle cx="450" cy="48.5" r="1.5" fill="#f6b400"/><circle cx="420.5" cy="67.5" r="1.5" fill="#f6b400"/><circle cx="452.5" cy="67.5" r="1.5" fill="#f6b400"/><circle cx="433" cy="49" r="6.2" fill="url(#gGray)"/><circle cx="443.4" cy="54.5" r="6.2" fill="url(#gGray)"/><circle cx="435.5" cy="61.1" r="6.3" fill="url(#gGray)"/>
<path d="M301.5,109 L301.74,108.3 L301.79,107.72 L301.54,107.35 L300.99,107.17 L300.25,107.12 L299.51,107.08 L298.96,106.9 L298.71,106.53 L298.76,105.95 L299,105.25 L299.24,104.55 L299.29,103.97 L299.04,103.6 L298.49,103.42 L297.75,103.38 L297.01,103.33 L296.46,103.15 L296.21,102.78 L296.26,102.2 L296.5,101.5 L296.74,100.8 L296.79,100.22 L296.54,99.85 L295.99,99.67 L295.25,99.62 L294.51,99.58 L293.96,99.4 L293.71,99.03" fill="none" stroke="#5858e0" stroke-width="1" stroke-linecap="round" stroke-linejoin="round"/><path d="M301.5,109 L301.74,108.3 L301.79,107.72 L301.54,107.35 L300.99,107.17 L300.25,107.12 L299.51,107.08 L298.96,106.9 L298.71,106.53 L298.76,105.95 L299,105.25 L299.24,104.55 L299.29,103.97 L299.04,103.6 L298.49,103.42 L297.75,103.38 L297.01,103.33 L296.46,103.15 L296.21,102.78 L296.26,102.2 L296.5,101.5 L296.74,100.8 L296.79,100.22 L296.54,99.85 L295.99,99.67 L295.25,99.62 L294.51,99.58 L293.96,99.4 L293.71,99.03" fill="none" stroke="#2c2c8c" stroke-width="0.8" stroke-linecap="round" stroke-linejoin="round" stroke-dasharray="0.9 2.1" opacity="0.8"/><path d="M308.5,109 L309.2,108.86 L309.7,108.62 L309.86,108.25 L309.68,107.73 L309.3,107.12 L308.92,106.52 L308.75,106 L308.91,105.63 L309.41,105.39 L310.11,105.25 L310.81,105.11 L311.3,104.87 L311.46,104.5 L311.29,103.98 L310.91,103.38 L310.53,102.77 L310.36,102.25 L310.52,101.88 L311.01,101.64 L311.71,101.5 L312.42,101.36 L312.91,101.12 L313.07,100.75 L312.9,100.23 L312.52,99.62 L312.14,99.02 L311.97,98.5 L312.13,98.13" fill="none" stroke="#5858e0" stroke-width="1" stroke-linecap="round" stroke-linejoin="round"/><path d="M308.5,109 L309.2,108.86 L309.7,108.62 L309.86,108.25 L309.68,107.73 L309.3,107.12 L308.92,106.52 L308.75,106 L308.91,105.63 L309.41,105.39 L310.11,105.25 L310.81,105.11 L311.3,104.87 L311.46,104.5 L311.29,103.98 L310.91,103.38 L310.53,102.77 L310.36,102.25 L310.52,101.88 L311.01,101.64 L311.71,101.5 L312.42,101.36 L312.91,101.12 L313.07,100.75 L312.9,100.23 L312.52,99.62 L312.14,99.02 L311.97,98.5 L312.13,98.13" fill="none" stroke="#2c2c8c" stroke-width="0.8" stroke-linecap="round" stroke-linejoin="round" stroke-dasharray="0.9 2.1" opacity="0.8"/><path d="M291,124.5 L291.2,123.82 L291.23,123.29 L290.98,122.98 L290.45,122.91 L289.75,122.98 L289.05,123.05 L288.52,122.98 L288.27,122.68 L288.3,122.14 L288.5,121.46 L288.7,120.79 L288.73,120.25 L288.48,119.95 L287.95,119.88 L287.25,119.95 L286.55,120.02 L286.02,119.94 L285.77,119.64 L285.8,119.11 L286,118.43 L286.2,117.75 L286.23,117.22 L285.98,116.91 L285.45,116.84 L284.75,116.91 L284.05,116.98 L283.52,116.91 L283.27,116.6" fill="none" stroke="#5858e0" stroke-width="1" stroke-linecap="round" stroke-linejoin="round"/><path d="M291,124.5 L291.2,123.82 L291.23,123.29 L290.98,122.98 L290.45,122.91 L289.75,122.98 L289.05,123.05 L288.52,122.98 L288.27,122.68 L288.3,122.14 L288.5,121.46 L288.7,120.79 L288.73,120.25 L288.48,119.95 L287.95,119.88 L287.25,119.95 L286.55,120.02 L286.02,119.94 L285.77,119.64 L285.8,119.11 L286,118.43 L286.2,117.75 L286.23,117.22 L285.98,116.91 L285.45,116.84 L284.75,116.91 L284.05,116.98 L283.52,116.91 L283.27,116.6" fill="none" stroke="#2c2c8c" stroke-width="0.8" stroke-linecap="round" stroke-linejoin="round" stroke-dasharray="0.9 2.1" opacity="0.8"/><path d="M320.5,124.5 L321.2,124.33 L321.7,124.07 L321.86,123.68 L321.69,123.15 L321.3,122.54 L320.92,121.92 L320.74,121.39 L320.91,121 L321.4,120.74 L322.11,120.57 L322.81,120.4 L323.31,120.15 L323.47,119.75 L323.29,119.22 L322.91,118.61 L322.53,117.99 L322.35,117.46 L322.51,117.07 L323.01,116.81 L323.71,116.64 L324.42,116.47 L324.92,116.22 L325.08,115.82 L324.9,115.29 L324.52,114.68 L324.13,114.06 L323.96,113.53 L324.12,113.14" fill="none" stroke="#5858e0" stroke-width="1" stroke-linecap="round" stroke-linejoin="round"/><path d="M320.5,124.5 L321.2,124.33 L321.7,124.07 L321.86,123.68 L321.69,123.15 L321.3,122.54 L320.92,121.92 L320.74,121.39 L320.91,121 L321.4,120.74 L322.11,120.57 L322.81,120.4 L323.31,120.15 L323.47,119.75 L323.29,119.22 L322.91,118.61 L322.53,117.99 L322.35,117.46 L322.51,117.07 L323.01,116.81 L323.71,116.64 L324.42,116.47 L324.92,116.22 L325.08,115.82 L324.9,115.29 L324.52,114.68 L324.13,114.06 L323.96,113.53 L324.12,113.14" fill="none" stroke="#2c2c8c" stroke-width="0.8" stroke-linecap="round" stroke-linejoin="round" stroke-dasharray="0.9 2.1" opacity="0.8"/><path d="M290,131.5 L289.55,130.95 L289.13,130.62 L288.74,130.66 L288.38,131.06 L288.04,131.68 L287.7,132.3 L287.34,132.7 L286.94,132.73 L286.52,132.41 L286.07,131.86 L285.63,131.31 L285.2,130.98 L284.81,131.02 L284.45,131.41 L284.11,132.04 L283.77,132.66 L283.41,133.05 L283.01,133.09 L282.59,132.76 L282.14,132.21 L281.7,131.66 L281.27,131.34 L280.88,131.37 L280.52,131.77 L280.18,132.39 L279.84,133.01 L279.48,133.41 L279.09,133.45" fill="none" stroke="#5858e0" stroke-width="1" stroke-linecap="round" stroke-linejoin="round"/><path d="M290,131.5 L289.55,130.95 L289.13,130.62 L288.74,130.66 L288.38,131.06 L288.04,131.68 L287.7,132.3 L287.34,132.7 L286.94,132.73 L286.52,132.41 L286.07,131.86 L285.63,131.31 L285.2,130.98 L284.81,131.02 L284.45,131.41 L284.11,132.04 L283.77,132.66 L283.41,133.05 L283.01,133.09 L282.59,132.76 L282.14,132.21 L281.7,131.66 L281.27,131.34 L280.88,131.37 L280.52,131.77 L280.18,132.39 L279.84,133.01 L279.48,133.41 L279.09,133.45" fill="none" stroke="#2c2c8c" stroke-width="0.8" stroke-linecap="round" stroke-linejoin="round" stroke-dasharray="0.9 2.1" opacity="0.8"/><path d="M320,133 L320.05,133.72 L320.22,134.24 L320.58,134.46 L321.13,134.36 L321.79,134.07 L322.45,133.78 L322.99,133.68 L323.35,133.9 L323.52,134.42 L323.57,135.14 L323.63,135.86 L323.8,136.39 L324.15,136.6 L324.7,136.5 L325.36,136.21 L326.02,135.92 L326.56,135.83 L326.92,136.04 L327.09,136.57 L327.14,137.29 L327.2,138 L327.37,138.53 L327.72,138.74 L328.27,138.65 L328.93,138.36 L329.59,138.07 L330.13,137.97 L330.49,138.18" fill="none" stroke="#5858e0" stroke-width="1" stroke-linecap="round" stroke-linejoin="round"/><path d="M320,133 L320.05,133.72 L320.22,134.24 L320.58,134.46 L321.13,134.36 L321.79,134.07 L322.45,133.78 L322.99,133.68 L323.35,133.9 L323.52,134.42 L323.57,135.14 L323.63,135.86 L323.8,136.39 L324.15,136.6 L324.7,136.5 L325.36,136.21 L326.02,135.92 L326.56,135.83 L326.92,136.04 L327.09,136.57 L327.14,137.29 L327.2,138 L327.37,138.53 L327.72,138.74 L328.27,138.65 L328.93,138.36 L329.59,138.07 L330.13,137.97 L330.49,138.18" fill="none" stroke="#2c2c8c" stroke-width="0.8" stroke-linecap="round" stroke-linejoin="round" stroke-dasharray="0.9 2.1" opacity="0.8"/><circle cx="301.5" cy="109" r="1.5" fill="#f6b400"/><circle cx="308.5" cy="109" r="1.5" fill="#f6b400"/><circle cx="291" cy="124.5" r="1.5" fill="#f6b400"/><circle cx="320.5" cy="124.5" r="1.5" fill="#f6b400"/><circle cx="290" cy="131.5" r="1.5" fill="#f6b400"/><circle cx="320" cy="133" r="1.5" fill="#f6b400"/><circle cx="304.9" cy="115.1" r="6.6" fill="url(#gDred)"/><circle cx="296.8" cy="129.2" r="6.6" fill="url(#gDred)"/><circle cx="314.9" cy="128.6" r="6.6" fill="url(#gDred)"/>
<path d="M420.5,110 L421.07,110.44 L421.57,110.66 L421.97,110.53 L422.25,110.06 L422.46,109.38 L422.68,108.69 L422.96,108.22 L423.35,108.09 L423.86,108.31 L424.43,108.75 L425,109.19 L425.5,109.41 L425.9,109.28 L426.18,108.81 L426.39,108.12 L426.61,107.44 L426.89,106.97 L427.28,106.84 L427.79,107.06 L428.36,107.5 L428.93,107.94 L429.43,108.16 L429.82,108.03 L430.11,107.56 L430.32,106.88 L430.54,106.19 L430.82,105.72 L431.21,105.59" fill="none" stroke="#5858e0" stroke-width="1" stroke-linecap="round" stroke-linejoin="round"/><path d="M420.5,110 L421.07,110.44 L421.57,110.66 L421.97,110.53 L422.25,110.06 L422.46,109.38 L422.68,108.69 L422.96,108.22 L423.35,108.09 L423.86,108.31 L424.43,108.75 L425,109.19 L425.5,109.41 L425.9,109.28 L426.18,108.81 L426.39,108.12 L426.61,107.44 L426.89,106.97 L427.28,106.84 L427.79,107.06 L428.36,107.5 L428.93,107.94 L429.43,108.16 L429.82,108.03 L430.11,107.56 L430.32,106.88 L430.54,106.19 L430.82,105.72 L431.21,105.59" fill="none" stroke="#2c2c8c" stroke-width="0.8" stroke-linecap="round" stroke-linejoin="round" stroke-dasharray="0.9 2.1" opacity="0.8"/><path d="M441,105.5 L440.95,106.22 L441.03,106.77 L441.36,107.03 L441.91,107.02 L442.61,106.84 L443.3,106.66 L443.86,106.64 L444.18,106.91 L444.27,107.46 L444.21,108.18 L444.16,108.9 L444.25,109.44 L444.57,109.71 L445.12,109.7 L445.82,109.52 L446.52,109.33 L447.07,109.32 L447.39,109.59 L447.48,110.14 L447.43,110.86 L447.37,111.58 L447.46,112.12 L447.78,112.39 L448.34,112.38 L449.04,112.2 L449.73,112.01 L450.29,112 L450.61,112.27" fill="none" stroke="#5858e0" stroke-width="1" stroke-linecap="round" stroke-linejoin="round"/><path d="M441,105.5 L440.95,106.22 L441.03,106.77 L441.36,107.03 L441.91,107.02 L442.61,106.84 L443.3,106.66 L443.86,106.64 L444.18,106.91 L444.27,107.46 L444.21,108.18 L444.16,108.9 L444.25,109.44 L444.57,109.71 L445.12,109.7 L445.82,109.52 L446.52,109.33 L447.07,109.32 L447.39,109.59 L447.48,110.14 L447.43,110.86 L447.37,111.58 L447.46,112.12 L447.78,112.39 L448.34,112.38 L449.04,112.2 L449.73,112.01 L450.29,112 L450.61,112.27" fill="none" stroke="#2c2c8c" stroke-width="0.8" stroke-linecap="round" stroke-linejoin="round" stroke-dasharray="0.9 2.1" opacity="0.8"/><path d="M420,134.5 L420.7,134.41 L421.21,134.21 L421.39,133.85 L421.24,133.33 L420.89,132.71 L420.55,132.09 L420.4,131.57 L420.58,131.22 L421.08,131.02 L421.79,130.93 L422.49,130.83 L422.99,130.64 L423.17,130.28 L423.03,129.76 L422.68,129.14 L422.33,128.52 L422.19,128 L422.36,127.65 L422.87,127.45 L423.57,127.36 L424.28,127.26 L424.78,127.07 L424.96,126.71 L424.81,126.19 L424.46,125.57 L424.12,124.95 L423.97,124.43 L424.15,124.07" fill="none" stroke="#5858e0" stroke-width="1" stroke-linecap="round" stroke-linejoin="round"/><path d="M420,134.5 L420.7,134.41 L421.21,134.21 L421.39,133.85 L421.24,133.33 L420.89,132.71 L420.55,132.09 L420.4,131.57 L420.58,131.22 L421.08,131.02 L421.79,130.93 L422.49,130.83 L422.99,130.64 L423.17,130.28 L423.03,129.76 L422.68,129.14 L422.33,128.52 L422.19,128 L422.36,127.65 L422.87,127.45 L423.57,127.36 L424.28,127.26 L424.78,127.07 L424.96,126.71 L424.81,126.19 L424.46,125.57 L424.12,124.95 L423.97,124.43 L424.15,124.07" fill="none" stroke="#2c2c8c" stroke-width="0.8" stroke-linecap="round" stroke-linejoin="round" stroke-dasharray="0.9 2.1" opacity="0.8"/><path d="M453.5,133 L454.11,132.6 L454.49,132.18 L454.5,131.75 L454.16,131.31 L453.59,130.86 L453.02,130.4 L452.67,129.96 L452.69,129.53 L453.07,129.12 L453.68,128.71 L454.28,128.31 L454.66,127.9 L454.68,127.47 L454.34,127.02 L453.77,126.57 L453.2,126.12 L452.85,125.67 L452.87,125.25 L453.25,124.83 L453.86,124.43 L454.46,124.02 L454.84,123.61 L454.86,123.18 L454.52,122.74 L453.95,122.29 L453.38,121.83 L453.03,121.39 L453.05,120.96" fill="none" stroke="#5858e0" stroke-width="1" stroke-linecap="round" stroke-linejoin="round"/><path d="M453.5,133 L454.11,132.6 L454.49,132.18 L454.5,131.75 L454.16,131.31 L453.59,130.86 L453.02,130.4 L452.67,129.96 L452.69,129.53 L453.07,129.12 L453.68,128.71 L454.28,128.31 L454.66,127.9 L454.68,127.47 L454.34,127.02 L453.77,126.57 L453.2,126.12 L452.85,125.67 L452.87,125.25 L453.25,124.83 L453.86,124.43 L454.46,124.02 L454.84,123.61 L454.86,123.18 L454.52,122.74 L453.95,122.29 L453.38,121.83 L453.03,121.39 L453.05,120.96" fill="none" stroke="#2c2c8c" stroke-width="0.8" stroke-linecap="round" stroke-linejoin="round" stroke-dasharray="0.9 2.1" opacity="0.8"/><circle cx="431.5" cy="106.5" r="1.5" fill="#f6b400"/><circle cx="450" cy="113" r="1.5" fill="#f6b400"/><circle cx="420" cy="134.5" r="1.5" fill="#f6b400"/><circle cx="453.5" cy="133" r="1.5" fill="#f6b400"/><circle cx="433" cy="116.5" r="6.2" fill="url(#gGray)"/><circle cx="444" cy="121.9" r="6.2" fill="url(#gGray)"/><circle cx="436.5" cy="128.1" r="6.3" fill="url(#gGray)"/>
<path d="M297.5,168.5 L298.02,169.12 L298.55,169.52 L299.1,169.56 L299.68,169.23 L300.27,168.68 L300.86,168.13 L301.44,167.8 L301.99,167.84 L302.52,168.23 L303.04,168.86 L303.55,169.48 L304.08,169.88 L304.64,169.91 L305.21,169.59 L305.8,169.04 L306.39,168.48 L306.97,168.16 L307.53,168.19 L308.06,168.59 L308.57,169.21 L309.09,169.84 L309.62,170.23 L310.17,170.27 L310.75,169.94 L311.34,169.39 L311.93,168.84 L312.51,168.52 L313.06,168.55" fill="none" stroke="#a6d23c" stroke-width="1" stroke-linecap="round" stroke-linejoin="round"/><path d="M297.5,168.5 L298.02,169.12 L298.55,169.52 L299.1,169.56 L299.68,169.23 L300.27,168.68 L300.86,168.13 L301.44,167.8 L301.99,167.84 L302.52,168.23 L303.04,168.86 L303.55,169.48 L304.08,169.88 L304.64,169.91 L305.21,169.59 L305.8,169.04 L306.39,168.48 L306.97,168.16 L307.53,168.19 L308.06,168.59 L308.57,169.21 L309.09,169.84 L309.62,170.23 L310.17,170.27 L310.75,169.94 L311.34,169.39 L311.93,168.84 L312.51,168.52 L313.06,168.55" fill="none" stroke="#5a7a1c" stroke-width="0.8" stroke-linecap="round" stroke-linejoin="round" stroke-dasharray="0.9 2.1" opacity="0.8"/><path d="M288.5,184 L289.19,183.74 L289.66,183.41 L289.79,182.98 L289.56,182.45 L289.12,181.86 L288.69,181.26 L288.46,180.73 L288.59,180.31 L289.06,179.98 L289.75,179.71 L290.44,179.45 L290.91,179.12 L291.04,178.69 L290.81,178.16 L290.38,177.57 L289.94,176.98 L289.71,176.45 L289.84,176.02 L290.31,175.69 L291,175.43 L291.69,175.16 L292.16,174.84 L292.29,174.41 L292.06,173.88 L291.62,173.29 L291.19,172.69 L290.96,172.16 L291.09,171.73" fill="none" stroke="#a6d23c" stroke-width="1" stroke-linecap="round" stroke-linejoin="round"/><path d="M288.5,184 L289.19,183.74 L289.66,183.41 L289.79,182.98 L289.56,182.45 L289.12,181.86 L288.69,181.26 L288.46,180.73 L288.59,180.31 L289.06,179.98 L289.75,179.71 L290.44,179.45 L290.91,179.12 L291.04,178.69 L290.81,178.16 L290.38,177.57 L289.94,176.98 L289.71,176.45 L289.84,176.02 L290.31,175.69 L291,175.43 L291.69,175.16 L292.16,174.84 L292.29,174.41 L292.06,173.88 L291.62,173.29 L291.19,172.69 L290.96,172.16 L291.09,171.73" fill="none" stroke="#5a7a1c" stroke-width="0.8" stroke-linecap="round" stroke-linejoin="round" stroke-dasharray="0.9 2.1" opacity="0.8"/><path d="M318,176 L317.51,176.55 L317.25,177.05 L317.34,177.48 L317.78,177.83 L318.45,178.14 L319.11,178.45 L319.56,178.81 L319.65,179.23 L319.38,179.74 L318.89,180.29 L318.41,180.83 L318.14,181.34 L318.23,181.77 L318.67,182.12 L319.34,182.43 L320,182.74 L320.45,183.09 L320.54,183.52 L320.27,184.02 L319.79,184.57 L319.3,185.12 L319.03,185.62 L319.12,186.05 L319.57,186.41 L320.23,186.71 L320.9,187.02 L321.34,187.38 L321.43,187.81" fill="none" stroke="#a6d23c" stroke-width="1" stroke-linecap="round" stroke-linejoin="round"/><path d="M318,176 L317.51,176.55 L317.25,177.05 L317.34,177.48 L317.78,177.83 L318.45,178.14 L319.11,178.45 L319.56,178.81 L319.65,179.23 L319.38,179.74 L318.89,180.29 L318.41,180.83 L318.14,181.34 L318.23,181.77 L318.67,182.12 L319.34,182.43 L320,182.74 L320.45,183.09 L320.54,183.52 L320.27,184.02 L319.79,184.57 L319.3,185.12 L319.03,185.62 L319.12,186.05 L319.57,186.41 L320.23,186.71 L320.9,187.02 L321.34,187.38 L321.43,187.81" fill="none" stroke="#5a7a1c" stroke-width="0.8" stroke-linecap="round" stroke-linejoin="round" stroke-dasharray="0.9 2.1" opacity="0.8"/><path d="M286,193.5 L286.01,194.22 L286.14,194.75 L286.48,194.98 L287.03,194.91 L287.7,194.66 L288.37,194.41 L288.91,194.34 L289.25,194.57 L289.39,195.1 L289.39,195.82 L289.4,196.54 L289.53,197.07 L289.87,197.3 L290.42,197.24 L291.09,196.98 L291.76,196.73 L292.3,196.66 L292.64,196.89 L292.78,197.43 L292.79,198.14 L292.79,198.86 L292.93,199.39 L293.27,199.62 L293.81,199.56 L294.48,199.3 L295.15,199.05 L295.7,198.98 L296.04,199.22" fill="none" stroke="#a6d23c" stroke-width="1" stroke-linecap="round" stroke-linejoin="round"/><path d="M286,193.5 L286.01,194.22 L286.14,194.75 L286.48,194.98 L287.03,194.91 L287.7,194.66 L288.37,194.41 L288.91,194.34 L289.25,194.57 L289.39,195.1 L289.39,195.82 L289.4,196.54 L289.53,197.07 L289.87,197.3 L290.42,197.24 L291.09,196.98 L291.76,196.73 L292.3,196.66 L292.64,196.89 L292.78,197.43 L292.79,198.14 L292.79,198.86 L292.93,199.39 L293.27,199.62 L293.81,199.56 L294.48,199.3 L295.15,199.05 L295.7,198.98 L296.04,199.22" fill="none" stroke="#5a7a1c" stroke-width="0.8" stroke-linecap="round" stroke-linejoin="round" stroke-dasharray="0.9 2.1" opacity="0.8"/><path d="M304,199.5 L304.29,200.18 L304.63,200.64 L305.06,200.74 L305.57,200.5 L306.14,200.04 L306.71,199.57 L307.23,199.33 L307.66,199.43 L308,199.89 L308.29,200.57 L308.57,201.25 L308.91,201.71 L309.34,201.82 L309.86,201.57 L310.43,201.11 L311,200.64 L311.52,200.4 L311.94,200.51 L312.29,200.97 L312.57,201.64 L312.86,202.32 L313.2,202.78 L313.63,202.89 L314.14,202.64 L314.71,202.18 L315.29,201.72 L315.8,201.47 L316.23,201.58" fill="none" stroke="#a6d23c" stroke-width="1" stroke-linecap="round" stroke-linejoin="round"/><path d="M304,199.5 L304.29,200.18 L304.63,200.64 L305.06,200.74 L305.57,200.5 L306.14,200.04 L306.71,199.57 L307.23,199.33 L307.66,199.43 L308,199.89 L308.29,200.57 L308.57,201.25 L308.91,201.71 L309.34,201.82 L309.86,201.57 L310.43,201.11 L311,200.64 L311.52,200.4 L311.94,200.51 L312.29,200.97 L312.57,201.64 L312.86,202.32 L313.2,202.78 L313.63,202.89 L314.14,202.64 L314.71,202.18 L315.29,201.72 L315.8,201.47 L316.23,201.58" fill="none" stroke="#5a7a1c" stroke-width="0.8" stroke-linecap="round" stroke-linejoin="round" stroke-dasharray="0.9 2.1" opacity="0.8"/><circle cx="313" cy="169.5" r="1.5" fill="#f6b400"/><circle cx="292" cy="172" r="1.5" fill="#f6b400"/><circle cx="320.5" cy="188" r="1.5" fill="#f6b400"/><circle cx="295.5" cy="200" r="1.5" fill="#f6b400"/><circle cx="316" cy="202.5" r="1.5" fill="#f6b400"/><circle cx="304.3" cy="179" r="6.3" fill="url(#gDblue)"/><circle cx="297.7" cy="189.8" r="6.3" fill="url(#gDblue)"/><circle cx="310.5" cy="189.8" r="6.3" fill="url(#gDblue)"/>
<path d="M365.5,168.5 L366.02,169.12 L366.55,169.52 L367.1,169.56 L367.68,169.23 L368.27,168.68 L368.86,168.13 L369.44,167.8 L369.99,167.84 L370.52,168.23 L371.04,168.86 L371.55,169.48 L372.08,169.88 L372.64,169.91 L373.21,169.59 L373.8,169.04 L374.39,168.48 L374.97,168.16 L375.53,168.19 L376.06,168.59 L376.57,169.21 L377.09,169.84 L377.62,170.23 L378.17,170.27 L378.75,169.94 L379.34,169.39 L379.93,168.84 L380.51,168.52 L381.06,168.55" fill="none" stroke="#a6d23c" stroke-width="1" stroke-linecap="round" stroke-linejoin="round"/><path d="M365.5,168.5 L366.02,169.12 L366.55,169.52 L367.1,169.56 L367.68,169.23 L368.27,168.68 L368.86,168.13 L369.44,167.8 L369.99,167.84 L370.52,168.23 L371.04,168.86 L371.55,169.48 L372.08,169.88 L372.64,169.91 L373.21,169.59 L373.8,169.04 L374.39,168.48 L374.97,168.16 L375.53,168.19 L376.06,168.59 L376.57,169.21 L377.09,169.84 L377.62,170.23 L378.17,170.27 L378.75,169.94 L379.34,169.39 L379.93,168.84 L380.51,168.52 L381.06,168.55" fill="none" stroke="#5a7a1c" stroke-width="0.8" stroke-linecap="round" stroke-linejoin="round" stroke-dasharray="0.9 2.1" opacity="0.8"/><path d="M356.5,184 L357.19,183.74 L357.66,183.41 L357.79,182.98 L357.56,182.45 L357.12,181.86 L356.69,181.26 L356.46,180.73 L356.59,180.31 L357.06,179.98 L357.75,179.71 L358.44,179.45 L358.91,179.12 L359.04,178.69 L358.81,178.16 L358.38,177.57 L357.94,176.98 L357.71,176.45 L357.84,176.02 L358.31,175.69 L359,175.43 L359.69,175.16 L360.16,174.84 L360.29,174.41 L360.06,173.88 L359.62,173.29 L359.19,172.69 L358.96,172.16 L359.09,171.73" fill="none" stroke="#a6d23c" stroke-width="1" stroke-linecap="round" stroke-linejoin="round"/><path d="M356.5,184 L357.19,183.74 L357.66,183.41 L357.79,182.98 L357.56,182.45 L357.12,181.86 L356.69,181.26 L356.46,180.73 L356.59,180.31 L357.06,179.98 L357.75,179.71 L358.44,179.45 L358.91,179.12 L359.04,178.69 L358.81,178.16 L358.38,177.57 L357.94,176.98 L357.71,176.45 L357.84,176.02 L358.31,175.69 L359,175.43 L359.69,175.16 L360.16,174.84 L360.29,174.41 L360.06,173.88 L359.62,173.29 L359.19,172.69 L358.96,172.16 L359.09,171.73" fill="none" stroke="#5a7a1c" stroke-width="0.8" stroke-linecap="round" stroke-linejoin="round" stroke-dasharray="0.9 2.1" opacity="0.8"/><path d="M386,176 L385.51,176.55 L385.25,177.05 L385.34,177.48 L385.78,177.83 L386.45,178.14 L387.11,178.45 L387.56,178.81 L387.65,179.23 L387.38,179.74 L386.89,180.29 L386.41,180.83 L386.14,181.34 L386.23,181.77 L386.67,182.12 L387.34,182.43 L388,182.74 L388.45,183.09 L388.54,183.52 L388.27,184.02 L387.79,184.57 L387.3,185.12 L387.03,185.62 L387.12,186.05 L387.57,186.41 L388.23,186.71 L388.9,187.02 L389.34,187.38 L389.43,187.81" fill="none" stroke="#a6d23c" stroke-width="1" stroke-linecap="round" stroke-linejoin="round"/><path d="M386,176 L385.51,176.55 L385.25,177.05 L385.34,177.48 L385.78,177.83 L386.45,178.14 L387.11,178.45 L387.56,178.81 L387.65,179.23 L387.38,179.74 L386.89,180.29 L386.41,180.83 L386.14,181.34 L386.23,181.77 L386.67,182.12 L387.34,182.43 L388,182.74 L388.45,183.09 L388.54,183.52 L388.27,184.02 L387.79,184.57 L387.3,185.12 L387.03,185.62 L387.12,186.05 L387.57,186.41 L388.23,186.71 L388.9,187.02 L389.34,187.38 L389.43,187.81" fill="none" stroke="#5a7a1c" stroke-width="0.8" stroke-linecap="round" stroke-linejoin="round" stroke-dasharray="0.9 2.1" opacity="0.8"/><path d="M354,193.5 L354.01,194.22 L354.14,194.75 L354.48,194.98 L355.03,194.91 L355.7,194.66 L356.37,194.41 L356.91,194.34 L357.25,194.57 L357.39,195.1 L357.39,195.82 L357.4,196.54 L357.53,197.07 L357.87,197.3 L358.42,197.24 L359.09,196.98 L359.76,196.73 L360.3,196.66 L360.64,196.89 L360.78,197.43 L360.79,198.14 L360.79,198.86 L360.93,199.39 L361.27,199.62 L361.81,199.56 L362.48,199.3 L363.15,199.05 L363.7,198.98 L364.04,199.22" fill="none" stroke="#a6d23c" stroke-width="1" stroke-linecap="round" stroke-linejoin="round"/><path d="M354,193.5 L354.01,194.22 L354.14,194.75 L354.48,194.98 L355.03,194.91 L355.7,194.66 L356.37,194.41 L356.91,194.34 L357.25,194.57 L357.39,195.1 L357.39,195.82 L357.4,196.54 L357.53,197.07 L357.87,197.3 L358.42,197.24 L359.09,196.98 L359.76,196.73 L360.3,196.66 L360.64,196.89 L360.78,197.43 L360.79,198.14 L360.79,198.86 L360.93,199.39 L361.27,199.62 L361.81,199.56 L362.48,199.3 L363.15,199.05 L363.7,198.98 L364.04,199.22" fill="none" stroke="#5a7a1c" stroke-width="0.8" stroke-linecap="round" stroke-linejoin="round" stroke-dasharray="0.9 2.1" opacity="0.8"/><path d="M372,199.5 L372.29,200.18 L372.63,200.64 L373.06,200.74 L373.57,200.5 L374.14,200.04 L374.71,199.57 L375.23,199.33 L375.66,199.43 L376,199.89 L376.29,200.57 L376.57,201.25 L376.91,201.71 L377.34,201.82 L377.86,201.57 L378.43,201.11 L379,200.64 L379.52,200.4 L379.94,200.51 L380.29,200.97 L380.57,201.64 L380.86,202.32 L381.2,202.78 L381.63,202.89 L382.14,202.64 L382.71,202.18 L383.29,201.72 L383.8,201.47 L384.23,201.58" fill="none" stroke="#a6d23c" stroke-width="1" stroke-linecap="round" stroke-linejoin="round"/><path d="M372,199.5 L372.29,200.18 L372.63,200.64 L373.06,200.74 L373.57,200.5 L374.14,200.04 L374.71,199.57 L375.23,199.33 L375.66,199.43 L376,199.89 L376.29,200.57 L376.57,201.25 L376.91,201.71 L377.34,201.82 L377.86,201.57 L378.43,201.11 L379,200.64 L379.52,200.4 L379.94,200.51 L380.29,200.97 L380.57,201.64 L380.86,202.32 L381.2,202.78 L381.63,202.89 L382.14,202.64 L382.71,202.18 L383.29,201.72 L383.8,201.47 L384.23,201.58" fill="none" stroke="#5a7a1c" stroke-width="0.8" stroke-linecap="round" stroke-linejoin="round" stroke-dasharray="0.9 2.1" opacity="0.8"/><circle cx="381" cy="169.5" r="1.5" fill="#f6b400"/><circle cx="360" cy="172" r="1.5" fill="#f6b400"/><circle cx="388.5" cy="188" r="1.5" fill="#f6b400"/><circle cx="363.5" cy="200" r="1.5" fill="#f6b400"/><circle cx="384" cy="202.5" r="1.5" fill="#f6b400"/><circle cx="372.4" cy="179" r="6.3" fill="url(#gDblue)"/><circle cx="365.8" cy="189.8" r="6.3" fill="url(#gDblue)"/><circle cx="378.3" cy="189.8" r="6.3" fill="url(#gDblue)"/>
<path d="M420.5,175 L421.07,175.44 L421.57,175.66 L421.97,175.53 L422.25,175.06 L422.46,174.38 L422.68,173.69 L422.96,173.22 L423.35,173.09 L423.86,173.31 L424.43,173.75 L425,174.19 L425.5,174.41 L425.9,174.28 L426.18,173.81 L426.39,173.12 L426.61,172.44 L426.89,171.97 L427.28,171.84 L427.79,172.06 L428.36,172.5 L428.93,172.94 L429.43,173.16 L429.82,173.03 L430.11,172.56 L430.32,171.88 L430.54,171.19 L430.82,170.72 L431.21,170.59" fill="none" stroke="#a6d23c" stroke-width="1" stroke-linecap="round" stroke-linejoin="round"/><path d="M420.5,175 L421.07,175.44 L421.57,175.66 L421.97,175.53 L422.25,175.06 L422.46,174.38 L422.68,173.69 L422.96,173.22 L423.35,173.09 L423.86,173.31 L424.43,173.75 L425,174.19 L425.5,174.41 L425.9,174.28 L426.18,173.81 L426.39,173.12 L426.61,172.44 L426.89,171.97 L427.28,171.84 L427.79,172.06 L428.36,172.5 L428.93,172.94 L429.43,173.16 L429.82,173.03 L430.11,172.56 L430.32,171.88 L430.54,171.19 L430.82,170.72 L431.21,170.59" fill="none" stroke="#5a7a1c" stroke-width="0.8" stroke-linecap="round" stroke-linejoin="round" stroke-dasharray="0.9 2.1" opacity="0.8"/><path d="M441,171 L440.95,171.72 L441.03,172.27 L441.36,172.53 L441.91,172.52 L442.61,172.34 L443.3,172.16 L443.86,172.14 L444.18,172.41 L444.27,172.96 L444.21,173.68 L444.16,174.4 L444.25,174.94 L444.57,175.21 L445.12,175.2 L445.82,175.02 L446.52,174.83 L447.07,174.82 L447.39,175.09 L447.48,175.64 L447.43,176.36 L447.37,177.08 L447.46,177.62 L447.78,177.89 L448.34,177.88 L449.04,177.7 L449.73,177.51 L450.29,177.5 L450.61,177.77" fill="none" stroke="#a6d23c" stroke-width="1" stroke-linecap="round" stroke-linejoin="round"/><path d="M441,171 L440.95,171.72 L441.03,172.27 L441.36,172.53 L441.91,172.52 L442.61,172.34 L443.3,172.16 L443.86,172.14 L444.18,172.41 L444.27,172.96 L444.21,173.68 L444.16,174.4 L444.25,174.94 L444.57,175.21 L445.12,175.2 L445.82,175.02 L446.52,174.83 L447.07,174.82 L447.39,175.09 L447.48,175.64 L447.43,176.36 L447.37,177.08 L447.46,177.62 L447.78,177.89 L448.34,177.88 L449.04,177.7 L449.73,177.51 L450.29,177.5 L450.61,177.77" fill="none" stroke="#5a7a1c" stroke-width="0.8" stroke-linecap="round" stroke-linejoin="round" stroke-dasharray="0.9 2.1" opacity="0.8"/><path d="M420,199.5 L420.7,199.41 L421.21,199.21 L421.39,198.85 L421.24,198.33 L420.89,197.71 L420.55,197.09 L420.4,196.57 L420.58,196.22 L421.08,196.02 L421.79,195.93 L422.49,195.83 L422.99,195.64 L423.17,195.28 L423.03,194.76 L422.68,194.14 L422.33,193.52 L422.19,193 L422.36,192.65 L422.87,192.45 L423.57,192.36 L424.28,192.26 L424.78,192.07 L424.96,191.71 L424.81,191.19 L424.46,190.57 L424.12,189.95 L423.97,189.43 L424.15,189.07" fill="none" stroke="#a6d23c" stroke-width="1" stroke-linecap="round" stroke-linejoin="round"/><path d="M420,199.5 L420.7,199.41 L421.21,199.21 L421.39,198.85 L421.24,198.33 L420.89,197.71 L420.55,197.09 L420.4,196.57 L420.58,196.22 L421.08,196.02 L421.79,195.93 L422.49,195.83 L422.99,195.64 L423.17,195.28 L423.03,194.76 L422.68,194.14 L422.33,193.52 L422.19,193 L422.36,192.65 L422.87,192.45 L423.57,192.36 L424.28,192.26 L424.78,192.07 L424.96,191.71 L424.81,191.19 L424.46,190.57 L424.12,189.95 L423.97,189.43 L424.15,189.07" fill="none" stroke="#5a7a1c" stroke-width="0.8" stroke-linecap="round" stroke-linejoin="round" stroke-dasharray="0.9 2.1" opacity="0.8"/><path d="M453.5,198 L454.11,197.6 L454.49,197.18 L454.5,196.75 L454.16,196.31 L453.59,195.86 L453.02,195.4 L452.67,194.96 L452.69,194.53 L453.07,194.12 L453.68,193.71 L454.28,193.31 L454.66,192.9 L454.68,192.47 L454.34,192.02 L453.77,191.57 L453.2,191.12 L452.85,190.67 L452.87,190.25 L453.25,189.83 L453.86,189.43 L454.46,189.02 L454.84,188.61 L454.86,188.18 L454.52,187.74 L453.95,187.29 L453.38,186.83 L453.03,186.39 L453.05,185.96" fill="none" stroke="#a6d23c" stroke-width="1" stroke-linecap="round" stroke-linejoin="round"/><path d="M453.5,198 L454.11,197.6 L454.49,197.18 L454.5,196.75 L454.16,196.31 L453.59,195.86 L453.02,195.4 L452.67,194.96 L452.69,194.53 L453.07,194.12 L453.68,193.71 L454.28,193.31 L454.66,192.9 L454.68,192.47 L454.34,192.02 L453.77,191.57 L453.2,191.12 L452.85,190.67 L452.87,190.25 L453.25,189.83 L453.86,189.43 L454.46,189.02 L454.84,188.61 L454.86,188.18 L454.52,187.74 L453.95,187.29 L453.38,186.83 L453.03,186.39 L453.05,185.96" fill="none" stroke="#5a7a1c" stroke-width="0.8" stroke-linecap="round" stroke-linejoin="round" stroke-dasharray="0.9 2.1" opacity="0.8"/><circle cx="431.5" cy="171.5" r="1.5" fill="#f6b400"/><circle cx="450" cy="178.5" r="1.5" fill="#f6b400"/><circle cx="420" cy="199.5" r="1.5" fill="#f6b400"/><circle cx="453.5" cy="198" r="1.5" fill="#f6b400"/><circle cx="433" cy="181.9" r="6.2" fill="url(#gGray)"/><circle cx="443.6" cy="187.8" r="6.2" fill="url(#gGray)"/><circle cx="436.5" cy="193.2" r="6.3" fill="url(#gGray)"/>
<path d="M305.5,244.5 L305.94,243.88 L306.17,243.32 L306.04,242.86 L305.57,242.49 L304.88,242.18 L304.18,241.87 L303.71,241.5 L303.58,241.03 L303.81,240.47 L304.25,239.86 L304.69,239.24 L304.92,238.68 L304.79,238.22 L304.32,237.85 L303.62,237.54 L302.93,237.22 L302.46,236.85 L302.33,236.39 L302.56,235.83 L303,235.21 L303.44,234.6 L303.67,234.04 L303.54,233.57 L303.07,233.2 L302.38,232.89 L301.68,232.58 L301.21,232.21 L301.08,231.75" fill="none" stroke="#c85ae0" stroke-width="1" stroke-linecap="round" stroke-linejoin="round"/><path d="M305.5,244.5 L305.94,243.88 L306.17,243.32 L306.04,242.86 L305.57,242.49 L304.88,242.18 L304.18,241.87 L303.71,241.5 L303.58,241.03 L303.81,240.47 L304.25,239.86 L304.69,239.24 L304.92,238.68 L304.79,238.22 L304.32,237.85 L303.62,237.54 L302.93,237.22 L302.46,236.85 L302.33,236.39 L302.56,235.83 L303,235.21 L303.44,234.6 L303.67,234.04 L303.54,233.57 L303.07,233.2 L302.38,232.89 L301.68,232.58 L301.21,232.21 L301.08,231.75" fill="none" stroke="#6a2888" stroke-width="0.8" stroke-linecap="round" stroke-linejoin="round" stroke-dasharray="0.9 2.1" opacity="0.8"/><path d="M294,259.5 L294.12,258.77 L294.08,258.2 L293.78,257.88 L293.21,257.81 L292.48,257.89 L291.75,257.98 L291.18,257.9 L290.88,257.58 L290.84,257.01 L290.96,256.29 L291.09,255.56 L291.05,254.99 L290.75,254.67 L290.18,254.6 L289.45,254.68 L288.72,254.76 L288.15,254.69 L287.84,254.37 L287.8,253.8 L287.93,253.07 L288.05,252.35 L288.01,251.78 L287.71,251.45 L287.14,251.38 L286.41,251.46 L285.68,251.55 L285.11,251.47 L284.81,251.15" fill="none" stroke="#c85ae0" stroke-width="1" stroke-linecap="round" stroke-linejoin="round"/><path d="M294,259.5 L294.12,258.77 L294.08,258.2 L293.78,257.88 L293.21,257.81 L292.48,257.89 L291.75,257.98 L291.18,257.9 L290.88,257.58 L290.84,257.01 L290.96,256.29 L291.09,255.56 L291.05,254.99 L290.75,254.67 L290.18,254.6 L289.45,254.68 L288.72,254.76 L288.15,254.69 L287.84,254.37 L287.8,253.8 L287.93,253.07 L288.05,252.35 L288.01,251.78 L287.71,251.45 L287.14,251.38 L286.41,251.46 L285.68,251.55 L285.11,251.47 L284.81,251.15" fill="none" stroke="#6a2888" stroke-width="0.8" stroke-linecap="round" stroke-linejoin="round" stroke-dasharray="0.9 2.1" opacity="0.8"/><path d="M318,255.5 L318.7,255.28 L319.18,254.99 L319.33,254.58 L319.13,254.05 L318.71,253.45 L318.3,252.84 L318.1,252.31 L318.24,251.9 L318.73,251.61 L319.43,251.39 L320.13,251.18 L320.61,250.88 L320.76,250.47 L320.56,249.94 L320.14,249.34 L319.73,248.74 L319.53,248.21 L319.67,247.79 L320.16,247.5 L320.86,247.29 L321.56,247.07 L322.04,246.78 L322.18,246.37 L321.98,245.84 L321.57,245.23 L321.16,244.63 L320.96,244.1 L321.1,243.69" fill="none" stroke="#c85ae0" stroke-width="1" stroke-linecap="round" stroke-linejoin="round"/><path d="M318,255.5 L318.7,255.28 L319.18,254.99 L319.33,254.58 L319.13,254.05 L318.71,253.45 L318.3,252.84 L318.1,252.31 L318.24,251.9 L318.73,251.61 L319.43,251.39 L320.13,251.18 L320.61,250.88 L320.76,250.47 L320.56,249.94 L320.14,249.34 L319.73,248.74 L319.53,248.21 L319.67,247.79 L320.16,247.5 L320.86,247.29 L321.56,247.07 L322.04,246.78 L322.18,246.37 L321.98,245.84 L321.57,245.23 L321.16,244.63 L320.96,244.1 L321.1,243.69" fill="none" stroke="#6a2888" stroke-width="0.8" stroke-linecap="round" stroke-linejoin="round" stroke-dasharray="0.9 2.1" opacity="0.8"/><circle cx="305.5" cy="244.5" r="1.5" fill="#f6b400"/><circle cx="294" cy="259.5" r="1.5" fill="#f6b400"/><circle cx="318" cy="255.5" r="1.5" fill="#f6b400"/><circle cx="306" cy="251.1" r="6.6" fill="url(#gMauve)"/><circle cx="299.7" cy="263.3" r="6.6" fill="url(#gMauve)"/><circle cx="314" cy="261.6" r="6.6" fill="url(#gMauve)"/>
<path d="M373.5,244.5 L373.94,243.88 L374.17,243.32 L374.04,242.86 L373.57,242.49 L372.88,242.18 L372.18,241.87 L371.71,241.5 L371.58,241.03 L371.81,240.47 L372.25,239.86 L372.69,239.24 L372.92,238.68 L372.79,238.22 L372.32,237.85 L371.62,237.54 L370.93,237.22 L370.46,236.85 L370.33,236.39 L370.56,235.83 L371,235.21 L371.44,234.6 L371.67,234.04 L371.54,233.57 L371.07,233.2 L370.38,232.89 L369.68,232.58 L369.21,232.21 L369.08,231.75" fill="none" stroke="#c85ae0" stroke-width="1" stroke-linecap="round" stroke-linejoin="round"/><path d="M373.5,244.5 L373.94,243.88 L374.17,243.32 L374.04,242.86 L373.57,242.49 L372.88,242.18 L372.18,241.87 L371.71,241.5 L371.58,241.03 L371.81,240.47 L372.25,239.86 L372.69,239.24 L372.92,238.68 L372.79,238.22 L372.32,237.85 L371.62,237.54 L370.93,237.22 L370.46,236.85 L370.33,236.39 L370.56,235.83 L371,235.21 L371.44,234.6 L371.67,234.04 L371.54,233.57 L371.07,233.2 L370.38,232.89 L369.68,232.58 L369.21,232.21 L369.08,231.75" fill="none" stroke="#6a2888" stroke-width="0.8" stroke-linecap="round" stroke-linejoin="round" stroke-dasharray="0.9 2.1" opacity="0.8"/><path d="M362.5,259.5 L362.62,258.77 L362.58,258.2 L362.28,257.88 L361.71,257.81 L360.98,257.89 L360.25,257.98 L359.68,257.9 L359.38,257.58 L359.34,257.01 L359.46,256.29 L359.59,255.56 L359.55,254.99 L359.25,254.67 L358.68,254.6 L357.95,254.68 L357.22,254.76 L356.65,254.69 L356.34,254.37 L356.3,253.8 L356.43,253.07 L356.55,252.35 L356.51,251.78 L356.21,251.45 L355.64,251.38 L354.91,251.46 L354.18,251.55 L353.61,251.47 L353.31,251.15" fill="none" stroke="#c85ae0" stroke-width="1" stroke-linecap="round" stroke-linejoin="round"/><path d="M362.5,259.5 L362.62,258.77 L362.58,258.2 L362.28,257.88 L361.71,257.81 L360.98,257.89 L360.25,257.98 L359.68,257.9 L359.38,257.58 L359.34,257.01 L359.46,256.29 L359.59,255.56 L359.55,254.99 L359.25,254.67 L358.68,254.6 L357.95,254.68 L357.22,254.76 L356.65,254.69 L356.34,254.37 L356.3,253.8 L356.43,253.07 L356.55,252.35 L356.51,251.78 L356.21,251.45 L355.64,251.38 L354.91,251.46 L354.18,251.55 L353.61,251.47 L353.31,251.15" fill="none" stroke="#6a2888" stroke-width="0.8" stroke-linecap="round" stroke-linejoin="round" stroke-dasharray="0.9 2.1" opacity="0.8"/><path d="M385.5,255.5 L386.2,255.28 L386.68,254.99 L386.83,254.58 L386.63,254.05 L386.21,253.45 L385.8,252.84 L385.6,252.31 L385.74,251.9 L386.23,251.61 L386.93,251.39 L387.63,251.18 L388.11,250.88 L388.26,250.47 L388.06,249.94 L387.64,249.34 L387.23,248.74 L387.03,248.21 L387.17,247.79 L387.66,247.5 L388.36,247.29 L389.06,247.07 L389.54,246.78 L389.68,246.37 L389.48,245.84 L389.07,245.23 L388.66,244.63 L388.46,244.1 L388.6,243.69" fill="none" stroke="#c85ae0" stroke-width="1" stroke-linecap="round" stroke-linejoin="round"/><path d="M385.5,255.5 L386.2,255.28 L386.68,254.99 L386.83,254.58 L386.63,254.05 L386.21,253.45 L385.8,252.84 L385.6,252.31 L385.74,251.9 L386.23,251.61 L386.93,251.39 L387.63,251.18 L388.11,250.88 L388.26,250.47 L388.06,249.94 L387.64,249.34 L387.23,248.74 L387.03,248.21 L387.17,247.79 L387.66,247.5 L388.36,247.29 L389.06,247.07 L389.54,246.78 L389.68,246.37 L389.48,245.84 L389.07,245.23 L388.66,244.63 L388.46,244.1 L388.6,243.69" fill="none" stroke="#6a2888" stroke-width="0.8" stroke-linecap="round" stroke-linejoin="round" stroke-dasharray="0.9 2.1" opacity="0.8"/><circle cx="373.5" cy="244.5" r="1.5" fill="#f6b400"/><circle cx="362.5" cy="259.5" r="1.5" fill="#f6b400"/><circle cx="385.5" cy="255.5" r="1.5" fill="#f6b400"/><circle cx="374.4" cy="251.1" r="6.6" fill="url(#gMauve)"/><circle cx="368.1" cy="263.3" r="6.6" fill="url(#gMauve)"/><circle cx="381.8" cy="261.6" r="6.6" fill="url(#gMauve)"/>
<path d="M428,237.5 L428.56,237.99 L429.08,238.25 L429.53,238.16 L429.9,237.72 L430.23,237.05 L430.56,236.39 L430.94,235.94 L431.38,235.85 L431.9,236.12 L432.46,236.61 L433.03,237.09 L433.54,237.36 L433.99,237.27 L434.37,236.83 L434.7,236.16 L435.03,235.5 L435.4,235.05 L435.85,234.96 L436.37,235.23 L436.93,235.71 L437.49,236.2 L438.01,236.47 L438.45,236.38 L438.83,235.93 L439.16,235.27 L439.49,234.6 L439.87,234.16 L440.31,234.07" fill="none" stroke="#c85ae0" stroke-width="1" stroke-linecap="round" stroke-linejoin="round"/><path d="M428,237.5 L428.56,237.99 L429.08,238.25 L429.53,238.16 L429.9,237.72 L430.23,237.05 L430.56,236.39 L430.94,235.94 L431.38,235.85 L431.9,236.12 L432.46,236.61 L433.03,237.09 L433.54,237.36 L433.99,237.27 L434.37,236.83 L434.7,236.16 L435.03,235.5 L435.4,235.05 L435.85,234.96 L436.37,235.23 L436.93,235.71 L437.49,236.2 L438.01,236.47 L438.45,236.38 L438.83,235.93 L439.16,235.27 L439.49,234.6 L439.87,234.16 L440.31,234.07" fill="none" stroke="#6a2888" stroke-width="0.8" stroke-linecap="round" stroke-linejoin="round" stroke-dasharray="0.9 2.1" opacity="0.8"/><path d="M423.5,244 L422.99,244.53 L422.7,245.01 L422.78,245.44 L423.21,245.81 L423.86,246.14 L424.51,246.47 L424.94,246.84 L425.01,247.27 L424.72,247.76 L424.21,248.29 L423.71,248.81 L423.42,249.3 L423.49,249.73 L423.92,250.1 L424.57,250.43 L425.22,250.76 L425.65,251.13 L425.72,251.56 L425.44,252.05 L424.93,252.57 L424.42,253.1 L424.13,253.58 L424.2,254.01 L424.63,254.38 L425.29,254.71 L425.94,255.05 L426.37,255.42 L426.44,255.84" fill="none" stroke="#c85ae0" stroke-width="1" stroke-linecap="round" stroke-linejoin="round"/><path d="M423.5,244 L422.99,244.53 L422.7,245.01 L422.78,245.44 L423.21,245.81 L423.86,246.14 L424.51,246.47 L424.94,246.84 L425.01,247.27 L424.72,247.76 L424.21,248.29 L423.71,248.81 L423.42,249.3 L423.49,249.73 L423.92,250.1 L424.57,250.43 L425.22,250.76 L425.65,251.13 L425.72,251.56 L425.44,252.05 L424.93,252.57 L424.42,253.1 L424.13,253.58 L424.2,254.01 L424.63,254.38 L425.29,254.71 L425.94,255.05 L426.37,255.42 L426.44,255.84" fill="none" stroke="#6a2888" stroke-width="0.8" stroke-linecap="round" stroke-linejoin="round" stroke-dasharray="0.9 2.1" opacity="0.8"/><path d="M448,238 L447.84,238.69 L447.84,239.22 L448.11,239.51 L448.64,239.54 L449.34,239.43 L450.04,239.31 L450.57,239.35 L450.84,239.64 L450.84,240.17 L450.68,240.86 L450.52,241.54 L450.52,242.08 L450.79,242.36 L451.32,242.4 L452.02,242.29 L452.71,242.17 L453.25,242.21 L453.52,242.49 L453.52,243.03 L453.36,243.71 L453.2,244.4 L453.2,244.94 L453.47,245.22 L454,245.26 L454.7,245.14 L455.39,245.03 L455.93,245.06 L456.19,245.35" fill="none" stroke="#c85ae0" stroke-width="1" stroke-linecap="round" stroke-linejoin="round"/><path d="M448,238 L447.84,238.69 L447.84,239.22 L448.11,239.51 L448.64,239.54 L449.34,239.43 L450.04,239.31 L450.57,239.35 L450.84,239.64 L450.84,240.17 L450.68,240.86 L450.52,241.54 L450.52,242.08 L450.79,242.36 L451.32,242.4 L452.02,242.29 L452.71,242.17 L453.25,242.21 L453.52,242.49 L453.52,243.03 L453.36,243.71 L453.2,244.4 L453.2,244.94 L453.47,245.22 L454,245.26 L454.7,245.14 L455.39,245.03 L455.93,245.06 L456.19,245.35" fill="none" stroke="#6a2888" stroke-width="0.8" stroke-linecap="round" stroke-linejoin="round" stroke-dasharray="0.9 2.1" opacity="0.8"/><path d="M427,263 L427.07,263.71 L427.26,264.23 L427.61,264.42 L428.15,264.3 L428.79,263.98 L429.43,263.66 L429.96,263.54 L430.32,263.74 L430.5,264.25 L430.57,264.96 L430.65,265.68 L430.83,266.19 L431.18,266.39 L431.72,266.27 L432.36,265.95 L433,265.63 L433.53,265.51 L433.89,265.7 L434.07,266.22 L434.14,266.93 L434.22,267.64 L434.4,268.15 L434.76,268.35 L435.29,268.23 L435.93,267.91 L436.57,267.59 L437.1,267.47 L437.46,267.67" fill="none" stroke="#c85ae0" stroke-width="1" stroke-linecap="round" stroke-linejoin="round"/><path d="M427,263 L427.07,263.71 L427.26,264.23 L427.61,264.42 L428.15,264.3 L428.79,263.98 L429.43,263.66 L429.96,263.54 L430.32,263.74 L430.5,264.25 L430.57,264.96 L430.65,265.68 L430.83,266.19 L431.18,266.39 L431.72,266.27 L432.36,265.95 L433,265.63 L433.53,265.51 L433.89,265.7 L434.07,266.22 L434.14,266.93 L434.22,267.64 L434.4,268.15 L434.76,268.35 L435.29,268.23 L435.93,267.91 L436.57,267.59 L437.1,267.47 L437.46,267.67" fill="none" stroke="#6a2888" stroke-width="0.8" stroke-linecap="round" stroke-linejoin="round" stroke-dasharray="0.9 2.1" opacity="0.8"/><path d="M446,264 L446.08,264.68 L446.26,265.15 L446.58,265.3 L447.05,265.11 L447.61,264.71 L448.17,264.32 L448.64,264.13 L448.96,264.27 L449.13,264.75 L449.21,265.43 L449.3,266.11 L449.47,266.58 L449.79,266.73 L450.26,266.54 L450.82,266.14 L451.38,265.75 L451.85,265.56 L452.17,265.7 L452.35,266.18 L452.43,266.86 L452.51,267.54 L452.69,268.01 L453.01,268.15 L453.48,267.97 L454.04,267.57 L454.6,267.18 L455.06,266.99 L455.39,267.13" fill="none" stroke="#c85ae0" stroke-width="1" stroke-linecap="round" stroke-linejoin="round"/><path d="M446,264 L446.08,264.68 L446.26,265.15 L446.58,265.3 L447.05,265.11 L447.61,264.71 L448.17,264.32 L448.64,264.13 L448.96,264.27 L449.13,264.75 L449.21,265.43 L449.3,266.11 L449.47,266.58 L449.79,266.73 L450.26,266.54 L450.82,266.14 L451.38,265.75 L451.85,265.56 L452.17,265.7 L452.35,266.18 L452.43,266.86 L452.51,267.54 L452.69,268.01 L453.01,268.15 L453.48,267.97 L454.04,267.57 L454.6,267.18 L455.06,266.99 L455.39,267.13" fill="none" stroke="#6a2888" stroke-width="0.8" stroke-linecap="round" stroke-linejoin="round" stroke-dasharray="0.9 2.1" opacity="0.8"/><circle cx="440.5" cy="235" r="1.5" fill="#f6b400"/><circle cx="425.5" cy="256" r="1.5" fill="#f6b400"/><circle cx="455.5" cy="246" r="1.5" fill="#f6b400"/><circle cx="437" cy="268.5" r="1.5" fill="#f6b400"/><circle cx="455" cy="268" r="1.5" fill="#f6b400"/><circle cx="437.9" cy="244" r="6.4" fill="url(#gDblue)"/><circle cx="431.3" cy="254.5" r="6.4" fill="url(#gDblue)"/><circle cx="444.2" cy="254.5" r="6.4" fill="url(#gDblue)"/>
<text x="-0.6" y="307.5" font-size="26.5" fill="#1a0d0d" font-weight="bold" text-anchor="start">B</text>
<text x="81" y="302.6" font-size="19" fill="#33c3ea" font-weight="normal" text-anchor="start">F</text><rect x="93.4" y="288.6" width="5.2" height="1.1" fill="#33c3ea"/><text x="116.1" y="302.6" font-size="19" fill="#22cc22" font-weight="normal" text-anchor="start">Cl</text><rect x="136.3" y="288.6" width="5.7" height="1.1" fill="#22cc22"/><text x="155" y="302.6" font-size="19" fill="#e48a30" font-weight="normal" text-anchor="start">Br</text><rect x="175.3" y="288.6" width="5.7" height="1.1" fill="#e48a30"/><text x="199.7" y="302.6" font-size="19" fill="#7030a0" font-weight="normal" text-anchor="start">I</text><rect x="205.8" y="288.6" width="5.2" height="1.1" fill="#7030a0"/>
<text x="309" y="302.6" font-size="19" fill="#33c3ea" font-weight="normal" text-anchor="start">F</text><rect x="321.4" y="288.6" width="5.2" height="1.1" fill="#33c3ea"/><text x="344.1" y="302.6" font-size="19" fill="#22cc22" font-weight="normal" text-anchor="start">Cl</text><rect x="364.3" y="288.6" width="5.7" height="1.1" fill="#22cc22"/><text x="383" y="302.6" font-size="19" fill="#e48a30" font-weight="normal" text-anchor="start">Br</text><rect x="403.3" y="288.6" width="5.7" height="1.1" fill="#e48a30"/><text x="427.7" y="302.6" font-size="19" fill="#7030a0" font-weight="normal" text-anchor="start">I</text><rect x="433.8" y="288.6" width="5.2" height="1.1" fill="#7030a0"/>
<rect x="65" y="309" width="37.6" height="42.6" fill="url(#gBg)"/><path d="M71,309 L97.6,309 L92,348.9 Q84.1,351.9 77,348.9 Z" fill="url(#gTube)"/><path d="M71,309 L77,348.9 Q84.1,351.9 92,348.9 L97.6,309" fill="none" stroke="#8a8a8a" stroke-width="0.9"/><path d="M73.5,309 L78.5,344.4" stroke="#f4f4f4" stroke-width="1.2" opacity="0.8"/><path d="M95,309 L90.5,344.4" stroke="#f4f4f4" stroke-width="1.0" opacity="0.7"/><path d="M74.2,329.4 Q84.1,337.9 94.6,329.4 L91.2,346.5 Q84.1,348.5 77.6,346.5 Z" fill="#e03a3c"/><path d="M74.2,329.4 Q84.1,337.9 94.6,329.4 L91.2,346.5 Q84.1,348.5 77.6,346.5 Z" fill="url(#gLiqShade)"/><path d="M77.6,346.2 Q84.1,348.6 91.2,346.2 L90.5,349.3 Q84.1,351.2 78.4,349.3 Z" fill="#e8b0b0"/><ellipse cx="84.1" cy="325" rx="6.9" ry="8" fill="#c46a78" stroke="#5a4a58" stroke-width="0.8" stroke-opacity="0.7"/><ellipse cx="84.1" cy="325" rx="6.9" ry="8" fill="url(#gMen)"/><path d="M84.1,336.5 L84.1,345" stroke="#ff6a62" stroke-width="1.3"/><rect x="103.3" y="309" width="37.6" height="42.6" fill="url(#gBg)"/><path d="M109.3,309 L135.9,309 L130.3,348.9 Q122.4,351.9 115.3,348.9 Z" fill="url(#gTube)"/><path d="M109.3,309 L115.3,348.9 Q122.4,351.9 130.3,348.9 L135.9,309" fill="none" stroke="#8a8a8a" stroke-width="0.9"/><path d="M111.8,309 L116.8,344.4" stroke="#f4f4f4" stroke-width="1.2" opacity="0.8"/><path d="M133.3,309 L128.8,344.4" stroke="#f4f4f4" stroke-width="1.0" opacity="0.7"/><path d="M112.5,329.4 Q122.4,337.9 132.9,329.4 L129.5,346.5 Q122.4,348.5 115.9,346.5 Z" fill="#e03a3c"/><path d="M112.5,329.4 Q122.4,337.9 132.9,329.4 L129.5,346.5 Q122.4,348.5 115.9,346.5 Z" fill="url(#gLiqShade)"/><path d="M115.9,346.2 Q122.4,348.6 129.5,346.2 L128.8,349.3 Q122.4,351.2 116.7,349.3 Z" fill="#e8b0b0"/><ellipse cx="122.4" cy="325" rx="6.9" ry="8" fill="#c46a78" stroke="#5a4a58" stroke-width="0.8" stroke-opacity="0.7"/><ellipse cx="122.4" cy="325" rx="6.9" ry="8" fill="url(#gMen)"/><path d="M122.4,336.5 L122.4,345" stroke="#ff6a62" stroke-width="1.3"/><rect x="141.6" y="309" width="37.6" height="42.6" fill="url(#gBg)"/><path d="M147.6,309 L174.2,309 L168.6,348.9 Q160.7,351.9 153.6,348.9 Z" fill="url(#gTube)"/><path d="M147.6,309 L153.6,348.9 Q160.7,351.9 168.6,348.9 L174.2,309" fill="none" stroke="#8a8a8a" stroke-width="0.9"/><path d="M150.1,309 L155.1,344.4" stroke="#f4f4f4" stroke-width="1.2" opacity="0.8"/><path d="M171.6,309 L167.1,344.4" stroke="#f4f4f4" stroke-width="1.0" opacity="0.7"/><path d="M150.8,329.4 Q160.7,337.9 171.2,329.4 L167.8,346.5 Q160.7,348.5 154.2,346.5 Z" fill="#e03a3c"/><path d="M150.8,329.4 Q160.7,337.9 171.2,329.4 L167.8,346.5 Q160.7,348.5 154.2,346.5 Z" fill="url(#gLiqShade)"/><path d="M154.2,346.2 Q160.7,348.6 167.8,346.2 L167.1,349.3 Q160.7,351.2 155,349.3 Z" fill="#e8b0b0"/><ellipse cx="160.7" cy="325" rx="6.9" ry="8" fill="#c46a78" stroke="#5a4a58" stroke-width="0.8" stroke-opacity="0.7"/><ellipse cx="160.7" cy="325" rx="6.9" ry="8" fill="url(#gMen)"/><path d="M160.7,336.5 L160.7,345" stroke="#ff6a62" stroke-width="1.3"/><rect x="179.9" y="309" width="37.6" height="42.6" fill="url(#gBg)"/><path d="M185.9,309 L212.5,309 L206.9,348.9 Q199,351.9 191.9,348.9 Z" fill="url(#gTube)"/><path d="M185.9,309 L191.9,348.9 Q199,351.9 206.9,348.9 L212.5,309" fill="none" stroke="#8a8a8a" stroke-width="0.9"/><path d="M188.4,309 L193.4,344.4" stroke="#f4f4f4" stroke-width="1.2" opacity="0.8"/><path d="M209.9,309 L205.4,344.4" stroke="#f4f4f4" stroke-width="1.0" opacity="0.7"/><path d="M189.1,329.4 Q199,337.9 209.5,329.4 L206.1,346.5 Q199,348.5 192.5,346.5 Z" fill="#362c58"/><path d="M189.1,329.4 Q199,337.9 209.5,329.4 L206.1,346.5 Q199,348.5 192.5,346.5 Z" fill="url(#gLiqShade)"/><path d="M192.5,346.2 Q199,348.6 206.1,346.2 L205.4,349.3 Q199,351.2 193.3,349.3 Z" fill="#aca4b6"/><ellipse cx="199" cy="325" rx="6.9" ry="8" fill="#6a6090" stroke="#5a4a58" stroke-width="0.8" stroke-opacity="0.7"/><ellipse cx="199" cy="325" rx="6.9" ry="8" fill="url(#gMen)"/><rect x="65" y="353.6" width="37.6" height="42.6" fill="url(#gBg)"/><path d="M71,353.6 L97.6,353.6 L92,393.5 Q84.1,396.5 77,393.5 Z" fill="url(#gTube)"/><path d="M71,353.6 L77,393.5 Q84.1,396.5 92,393.5 L97.6,353.6" fill="none" stroke="#8a8a8a" stroke-width="0.9"/><path d="M73.5,353.6 L78.5,389" stroke="#f4f4f4" stroke-width="1.2" opacity="0.8"/><path d="M95,353.6 L90.5,389" stroke="#f4f4f4" stroke-width="1.0" opacity="0.7"/><path d="M74.2,374 Q84.1,382.5 94.6,374 L91.2,391.1 Q84.1,393.1 77.6,391.1 Z" fill="#cc2c44"/><path d="M74.2,374 Q84.1,382.5 94.6,374 L91.2,391.1 Q84.1,393.1 77.6,391.1 Z" fill="url(#gLiqShade)"/><path d="M77.6,390.8 Q84.1,393.2 91.2,390.8 L90.5,393.9 Q84.1,395.8 78.4,393.9 Z" fill="#e4aab4"/><ellipse cx="84.1" cy="371.6" rx="6.6" ry="6.2" fill="#b05a70" stroke="#5a4a58" stroke-width="0.8" stroke-opacity="0.7"/><ellipse cx="84.1" cy="371.6" rx="6.6" ry="6.2" fill="url(#gMen)"/><path d="M84.1,381.1 L84.1,389.6" stroke="#f05060" stroke-width="1.3"/><rect x="103.3" y="353.6" width="37.6" height="42.6" fill="url(#gBg)"/><path d="M109.3,353.6 L135.9,353.6 L130.3,393.5 Q122.4,396.5 115.3,393.5 Z" fill="url(#gTube)"/><path d="M109.3,353.6 L115.3,393.5 Q122.4,396.5 130.3,393.5 L135.9,353.6" fill="none" stroke="#8a8a8a" stroke-width="0.9"/><path d="M111.8,353.6 L116.8,389" stroke="#f4f4f4" stroke-width="1.2" opacity="0.8"/><path d="M133.3,353.6 L128.8,389" stroke="#f4f4f4" stroke-width="1.0" opacity="0.7"/><path d="M112.5,374 Q122.4,382.5 132.9,374 L129.5,391.1 Q122.4,393.1 115.9,391.1 Z" fill="#c42848"/><path d="M112.5,374 Q122.4,382.5 132.9,374 L129.5,391.1 Q122.4,393.1 115.9,391.1 Z" fill="url(#gLiqShade)"/><path d="M115.9,390.8 Q122.4,393.2 129.5,390.8 L128.8,393.9 Q122.4,395.8 116.7,393.9 Z" fill="#e0a8b4"/><ellipse cx="122.4" cy="371.6" rx="6.6" ry="6.2" fill="#a85678" stroke="#5a4a58" stroke-width="0.8" stroke-opacity="0.7"/><ellipse cx="122.4" cy="371.6" rx="6.6" ry="6.2" fill="url(#gMen)"/><path d="M122.4,381.1 L122.4,389.6" stroke="#e04060" stroke-width="1.3"/><rect x="141.6" y="353.6" width="37.6" height="42.6" fill="url(#gBg)"/><path d="M147.6,353.6 L174.2,353.6 L168.6,393.5 Q160.7,396.5 153.6,393.5 Z" fill="url(#gTube)"/><path d="M147.6,353.6 L153.6,393.5 Q160.7,396.5 168.6,393.5 L174.2,353.6" fill="none" stroke="#8a8a8a" stroke-width="0.9"/><path d="M150.1,353.6 L155.1,389" stroke="#f4f4f4" stroke-width="1.2" opacity="0.8"/><path d="M171.6,353.6 L167.1,389" stroke="#f4f4f4" stroke-width="1.0" opacity="0.7"/><path d="M150.8,374 Q160.7,382.5 171.2,374 L167.8,391.1 Q160.7,393.1 154.2,391.1 Z" fill="#e03a3c"/><path d="M150.8,374 Q160.7,382.5 171.2,374 L167.8,391.1 Q160.7,393.1 154.2,391.1 Z" fill="url(#gLiqShade)"/><path d="M154.2,390.8 Q160.7,393.2 167.8,390.8 L167.1,393.9 Q160.7,395.8 155,393.9 Z" fill="#e8b0b0"/><ellipse cx="160.7" cy="371.6" rx="6.6" ry="6.2" fill="#c46a78" stroke="#5a4a58" stroke-width="0.8" stroke-opacity="0.7"/><ellipse cx="160.7" cy="371.6" rx="6.6" ry="6.2" fill="url(#gMen)"/><path d="M160.7,381.1 L160.7,389.6" stroke="#ff6a62" stroke-width="1.3"/><rect x="179.9" y="353.6" width="37.6" height="42.6" fill="url(#gBg)"/><path d="M185.9,353.6 L212.5,353.6 L206.9,393.5 Q199,396.5 191.9,393.5 Z" fill="url(#gTube)"/><path d="M185.9,353.6 L191.9,393.5 Q199,396.5 206.9,393.5 L212.5,353.6" fill="none" stroke="#8a8a8a" stroke-width="0.9"/><path d="M188.4,353.6 L193.4,389" stroke="#f4f4f4" stroke-width="1.2" opacity="0.8"/><path d="M209.9,353.6 L205.4,389" stroke="#f4f4f4" stroke-width="1.0" opacity="0.7"/><path d="M189.1,374 Q199,382.5 209.5,374 L206.1,391.1 Q199,393.1 192.5,391.1 Z" fill="#4a86a6"/><path d="M189.1,374 Q199,382.5 209.5,374 L206.1,391.1 Q199,393.1 192.5,391.1 Z" fill="url(#gLiqShade)"/><path d="M192.5,390.8 Q199,393.2 206.1,390.8 L205.4,393.9 Q199,395.8 193.3,393.9 Z" fill="#bcc4ca"/><ellipse cx="199" cy="371.6" rx="6.6" ry="6.2" fill="#6490ae" stroke="#5a4a58" stroke-width="0.8" stroke-opacity="0.7"/><ellipse cx="199" cy="371.6" rx="6.6" ry="6.2" fill="url(#gMen)"/><path d="M199,381.1 L199,389.6" stroke="#90c0dc" stroke-width="1.3"/>
<rect x="295" y="308.6" width="37.5" height="42.8" fill="url(#gBg)"/><path d="M301,308.6 L327.6,308.6 L322,348.7 Q314.05,351.7 307,348.7 Z" fill="url(#gTube)"/><path d="M301,308.6 L307,348.7 Q314.05,351.7 322,348.7 L327.6,308.6" fill="none" stroke="#8a8a8a" stroke-width="0.9"/><path d="M303.5,308.6 L308.5,344.2" stroke="#f4f4f4" stroke-width="1.2" opacity="0.8"/><path d="M325,308.6 L320.5,344.2" stroke="#f4f4f4" stroke-width="1.0" opacity="0.7"/><path d="M304.2,329 Q314.05,337.5 324.6,329 L321.2,346.1 Q314.05,348.1 307.6,346.1 Z" fill="#e03a3c"/><path d="M304.2,329 Q314.05,337.5 324.6,329 L321.2,346.1 Q314.05,348.1 307.6,346.1 Z" fill="url(#gLiqShade)"/><path d="M307.6,345.8 Q314.05,348.2 321.2,345.8 L320.5,348.9 Q314.05,350.8 308.4,348.9 Z" fill="#e8b0b0"/><ellipse cx="314.05" cy="324.6" rx="6.9" ry="8" fill="#c46a78" stroke="#5a4a58" stroke-width="0.8" stroke-opacity="0.7"/><ellipse cx="314.05" cy="324.6" rx="6.9" ry="8" fill="url(#gMen)"/><path d="M314.05,336.1 L314.05,344.6" stroke="#ff6a62" stroke-width="1.3"/><rect x="333.2" y="308.6" width="37.5" height="42.8" fill="url(#gBg)"/><path d="M339.2,308.6 L365.8,308.6 L360.2,348.7 Q352.25,351.7 345.2,348.7 Z" fill="url(#gTube)"/><path d="M339.2,308.6 L345.2,348.7 Q352.25,351.7 360.2,348.7 L365.8,308.6" fill="none" stroke="#8a8a8a" stroke-width="0.9"/><path d="M341.7,308.6 L346.7,344.2" stroke="#f4f4f4" stroke-width="1.2" opacity="0.8"/><path d="M363.2,308.6 L358.7,344.2" stroke="#f4f4f4" stroke-width="1.0" opacity="0.7"/><path d="M342.4,329 Q352.25,337.5 362.8,329 L359.4,346.1 Q352.25,348.1 345.8,346.1 Z" fill="#cc2c44"/><path d="M342.4,329 Q352.25,337.5 362.8,329 L359.4,346.1 Q352.25,348.1 345.8,346.1 Z" fill="url(#gLiqShade)"/><path d="M345.8,345.8 Q352.25,348.2 359.4,345.8 L358.7,348.9 Q352.25,350.8 346.6,348.9 Z" fill="#e4aab4"/><ellipse cx="352.25" cy="324.6" rx="6.9" ry="8" fill="#b05a70" stroke="#5a4a58" stroke-width="0.8" stroke-opacity="0.7"/><ellipse cx="352.25" cy="324.6" rx="6.9" ry="8" fill="url(#gMen)"/><path d="M352.25,336.1 L352.25,344.6" stroke="#f05060" stroke-width="1.3"/><rect x="371.4" y="308.6" width="37.5" height="42.8" fill="url(#gBg)"/><path d="M377.4,308.6 L404,308.6 L398.4,348.7 Q390.45,351.7 383.4,348.7 Z" fill="url(#gTube)"/><path d="M377.4,308.6 L383.4,348.7 Q390.45,351.7 398.4,348.7 L404,308.6" fill="none" stroke="#8a8a8a" stroke-width="0.9"/><path d="M379.9,308.6 L384.9,344.2" stroke="#f4f4f4" stroke-width="1.2" opacity="0.8"/><path d="M401.4,308.6 L396.9,344.2" stroke="#f4f4f4" stroke-width="1.0" opacity="0.7"/><path d="M380.6,329 Q390.45,337.5 401,329 L397.6,346.1 Q390.45,348.1 384,346.1 Z" fill="#e03a3c"/><path d="M380.6,329 Q390.45,337.5 401,329 L397.6,346.1 Q390.45,348.1 384,346.1 Z" fill="url(#gLiqShade)"/><path d="M384,345.8 Q390.45,348.2 397.6,345.8 L396.9,348.9 Q390.45,350.8 384.8,348.9 Z" fill="#e8b0b0"/><ellipse cx="390.45" cy="324.6" rx="6.9" ry="8" fill="#c46a78" stroke="#5a4a58" stroke-width="0.8" stroke-opacity="0.7"/><ellipse cx="390.45" cy="324.6" rx="6.9" ry="8" fill="url(#gMen)"/><path d="M390.45,336.1 L390.45,344.6" stroke="#ff6a62" stroke-width="1.3"/><rect x="409.6" y="308.6" width="37.5" height="42.8" fill="url(#gBg)"/><path d="M415.6,308.6 L442.2,308.6 L436.6,348.7 Q428.65,351.7 421.6,348.7 Z" fill="url(#gTube)"/><path d="M415.6,308.6 L421.6,348.7 Q428.65,351.7 436.6,348.7 L442.2,308.6" fill="none" stroke="#8a8a8a" stroke-width="0.9"/><path d="M418.1,308.6 L423.1,344.2" stroke="#f4f4f4" stroke-width="1.2" opacity="0.8"/><path d="M439.6,308.6 L435.1,344.2" stroke="#f4f4f4" stroke-width="1.0" opacity="0.7"/><path d="M418.8,329 Q428.65,337.5 439.2,329 L435.8,346.1 Q428.65,348.1 422.2,346.1 Z" fill="#5a2242"/><path d="M418.8,329 Q428.65,337.5 439.2,329 L435.8,346.1 Q428.65,348.1 422.2,346.1 Z" fill="url(#gLiqShade)"/><path d="M422.2,345.8 Q428.65,348.2 435.8,345.8 L435.1,348.9 Q428.65,350.8 423,348.9 Z" fill="#c8a8b4"/><ellipse cx="428.65" cy="324.6" rx="6.9" ry="8" fill="#845284" stroke="#5a4a58" stroke-width="0.8" stroke-opacity="0.7"/><ellipse cx="428.65" cy="324.6" rx="6.9" ry="8" fill="url(#gMen)"/><path d="M428.65,336.1 L428.65,344.6" stroke="#903050" stroke-width="1.3"/><rect x="295" y="353.6" width="37.5" height="42.8" fill="url(#gBg)"/><path d="M301,353.6 L327.6,353.6 L322,393.7 Q314.05,396.7 307,393.7 Z" fill="url(#gTube)"/><path d="M301,353.6 L307,393.7 Q314.05,396.7 322,393.7 L327.6,353.6" fill="none" stroke="#8a8a8a" stroke-width="0.9"/><path d="M303.5,353.6 L308.5,389.2" stroke="#f4f4f4" stroke-width="1.2" opacity="0.8"/><path d="M325,353.6 L320.5,389.2" stroke="#f4f4f4" stroke-width="1.0" opacity="0.7"/><path d="M304.2,374 Q314.05,382.5 324.6,374 L321.2,391.1 Q314.05,393.1 307.6,391.1 Z" fill="#e03a3c"/><path d="M304.2,374 Q314.05,382.5 324.6,374 L321.2,391.1 Q314.05,393.1 307.6,391.1 Z" fill="url(#gLiqShade)"/><path d="M307.6,390.8 Q314.05,393.2 321.2,390.8 L320.5,393.9 Q314.05,395.8 308.4,393.9 Z" fill="#e8b0b0"/><ellipse cx="314.05" cy="371.6" rx="6.6" ry="6.2" fill="#c46a78" stroke="#5a4a58" stroke-width="0.8" stroke-opacity="0.7"/><ellipse cx="314.05" cy="371.6" rx="6.6" ry="6.2" fill="url(#gMen)"/><path d="M314.05,381.1 L314.05,389.6" stroke="#ff6a62" stroke-width="1.3"/><rect x="333.2" y="353.6" width="37.5" height="42.8" fill="url(#gBg)"/><path d="M339.2,353.6 L365.8,353.6 L360.2,393.7 Q352.25,396.7 345.2,393.7 Z" fill="url(#gTube)"/><path d="M339.2,353.6 L345.2,393.7 Q352.25,396.7 360.2,393.7 L365.8,353.6" fill="none" stroke="#8a8a8a" stroke-width="0.9"/><path d="M341.7,353.6 L346.7,389.2" stroke="#f4f4f4" stroke-width="1.2" opacity="0.8"/><path d="M363.2,353.6 L358.7,389.2" stroke="#f4f4f4" stroke-width="1.0" opacity="0.7"/><path d="M342.4,374 Q352.25,382.5 362.8,374 L359.4,391.1 Q352.25,393.1 345.8,391.1 Z" fill="#cc2c44"/><path d="M342.4,374 Q352.25,382.5 362.8,374 L359.4,391.1 Q352.25,393.1 345.8,391.1 Z" fill="url(#gLiqShade)"/><path d="M345.8,390.8 Q352.25,393.2 359.4,390.8 L358.7,393.9 Q352.25,395.8 346.6,393.9 Z" fill="#e4aab4"/><ellipse cx="352.25" cy="371.6" rx="6.6" ry="6.2" fill="#b05a70" stroke="#5a4a58" stroke-width="0.8" stroke-opacity="0.7"/><ellipse cx="352.25" cy="371.6" rx="6.6" ry="6.2" fill="url(#gMen)"/><path d="M352.25,381.1 L352.25,389.6" stroke="#f05060" stroke-width="1.3"/><rect x="371.4" y="353.6" width="37.5" height="42.8" fill="url(#gBg)"/><path d="M377.4,353.6 L404,353.6 L398.4,393.7 Q390.45,396.7 383.4,393.7 Z" fill="url(#gTube)"/><path d="M377.4,353.6 L383.4,393.7 Q390.45,396.7 398.4,393.7 L404,353.6" fill="none" stroke="#8a8a8a" stroke-width="0.9"/><path d="M379.9,353.6 L384.9,389.2" stroke="#f4f4f4" stroke-width="1.2" opacity="0.8"/><path d="M401.4,353.6 L396.9,389.2" stroke="#f4f4f4" stroke-width="1.0" opacity="0.7"/><path d="M380.6,374 Q390.45,382.5 401,374 L397.6,391.1 Q390.45,393.1 384,391.1 Z" fill="#e03a3c"/><path d="M380.6,374 Q390.45,382.5 401,374 L397.6,391.1 Q390.45,393.1 384,391.1 Z" fill="url(#gLiqShade)"/><path d="M384,390.8 Q390.45,393.2 397.6,390.8 L396.9,393.9 Q390.45,395.8 384.8,393.9 Z" fill="#e8b0b0"/><ellipse cx="390.45" cy="371.6" rx="6.6" ry="6.2" fill="#c46a78" stroke="#5a4a58" stroke-width="0.8" stroke-opacity="0.7"/><ellipse cx="390.45" cy="371.6" rx="6.6" ry="6.2" fill="url(#gMen)"/><path d="M390.45,381.1 L390.45,389.6" stroke="#ff6a62" stroke-width="1.3"/><rect x="409.6" y="353.6" width="37.5" height="42.8" fill="url(#gBg)"/><path d="M415.6,353.6 L442.2,353.6 L436.6,393.7 Q428.65,396.7 421.6,393.7 Z" fill="url(#gTube)"/><path d="M415.6,353.6 L421.6,393.7 Q428.65,396.7 436.6,393.7 L442.2,353.6" fill="none" stroke="#8a8a8a" stroke-width="0.9"/><path d="M418.1,353.6 L423.1,389.2" stroke="#f4f4f4" stroke-width="1.2" opacity="0.8"/><path d="M439.6,353.6 L435.1,389.2" stroke="#f4f4f4" stroke-width="1.0" opacity="0.7"/><path d="M418.8,374 Q428.65,382.5 439.2,374 L435.8,391.1 Q428.65,393.1 422.2,391.1 Z" fill="#7eaac4"/><path d="M418.8,374 Q428.65,382.5 439.2,374 L435.8,391.1 Q428.65,393.1 422.2,391.1 Z" fill="url(#gLiqShade)"/><path d="M422.2,390.8 Q428.65,393.2 435.8,390.8 L435.1,393.9 Q428.65,395.8 423,393.9 Z" fill="#c8d0d4"/><ellipse cx="428.65" cy="371.6" rx="6.6" ry="6.2" fill="#7aa0bc" stroke="#5a4a58" stroke-width="0.8" stroke-opacity="0.7"/><ellipse cx="428.65" cy="371.6" rx="6.6" ry="6.2" fill="url(#gMen)"/><path d="M428.65,381.1 L428.65,389.6" stroke="#b8d8ec" stroke-width="1.3"/>
<rect x="64.6" y="415.2" width="37.6" height="43" fill="url(#gBg)"/><path d="M70.6,415.2 L97.2,415.2 L91.6,455.5 Q83.7,458.5 76.6,455.5 Z" fill="url(#gTube)"/><path d="M70.6,415.2 L76.6,455.5 Q83.7,458.5 91.6,455.5 L97.2,415.2" fill="none" stroke="#8a8a8a" stroke-width="0.9"/><path d="M73.1,415.2 L78.1,451" stroke="#f4f4f4" stroke-width="1.2" opacity="0.8"/><path d="M94.6,415.2 L90.1,451" stroke="#f4f4f4" stroke-width="1.0" opacity="0.7"/><path d="M73.8,435.6 Q83.7,444.1 94.2,435.6 L90.8,452.7 Q83.7,454.7 77.2,452.7 Z" fill="#e03a3c"/><path d="M73.8,435.6 Q83.7,444.1 94.2,435.6 L90.8,452.7 Q83.7,454.7 77.2,452.7 Z" fill="url(#gLiqShade)"/><path d="M77.2,452.4 Q83.7,454.8 90.8,452.4 L90.1,455.5 Q83.7,457.4 78,455.5 Z" fill="#e8b0b0"/><ellipse cx="83.7" cy="431.2" rx="6.9" ry="8" fill="#c46a78" stroke="#5a4a58" stroke-width="0.8" stroke-opacity="0.7"/><ellipse cx="83.7" cy="431.2" rx="6.9" ry="8" fill="url(#gMen)"/><path d="M83.7,442.7 L83.7,451.2" stroke="#ff6a62" stroke-width="1.3"/><rect x="102.9" y="415.2" width="37.6" height="43" fill="url(#gBg)"/><path d="M108.9,415.2 L135.5,415.2 L129.9,455.5 Q122,458.5 114.9,455.5 Z" fill="url(#gTube)"/><path d="M108.9,415.2 L114.9,455.5 Q122,458.5 129.9,455.5 L135.5,415.2" fill="none" stroke="#8a8a8a" stroke-width="0.9"/><path d="M111.4,415.2 L116.4,451" stroke="#f4f4f4" stroke-width="1.2" opacity="0.8"/><path d="M132.9,415.2 L128.4,451" stroke="#f4f4f4" stroke-width="1.0" opacity="0.7"/><path d="M112.1,435.6 Q122,444.1 132.5,435.6 L129.1,452.7 Q122,454.7 115.5,452.7 Z" fill="#2c3658"/><path d="M112.1,435.6 Q122,444.1 132.5,435.6 L129.1,452.7 Q122,454.7 115.5,452.7 Z" fill="url(#gLiqShade)"/><path d="M115.5,452.4 Q122,454.8 129.1,452.4 L128.4,455.5 Q122,457.4 116.3,455.5 Z" fill="#b0b4c0"/><ellipse cx="122" cy="431.2" rx="6.9" ry="8" fill="#5e6c94" stroke="#5a4a58" stroke-width="0.8" stroke-opacity="0.7"/><ellipse cx="122" cy="431.2" rx="6.9" ry="8" fill="url(#gMen)"/><rect x="141.2" y="415.2" width="37.6" height="43" fill="url(#gBg)"/><path d="M147.2,415.2 L173.8,415.2 L168.2,455.5 Q160.3,458.5 153.2,455.5 Z" fill="url(#gTube)"/><path d="M147.2,415.2 L153.2,455.5 Q160.3,458.5 168.2,455.5 L173.8,415.2" fill="none" stroke="#8a8a8a" stroke-width="0.9"/><path d="M149.7,415.2 L154.7,451" stroke="#f4f4f4" stroke-width="1.2" opacity="0.8"/><path d="M171.2,415.2 L166.7,451" stroke="#f4f4f4" stroke-width="1.0" opacity="0.7"/><path d="M150.4,435.6 Q160.3,444.1 170.8,435.6 L167.4,452.7 Q160.3,454.7 153.8,452.7 Z" fill="#3c2c4c"/><path d="M150.4,435.6 Q160.3,444.1 170.8,435.6 L167.4,452.7 Q160.3,454.7 153.8,452.7 Z" fill="url(#gLiqShade)"/><path d="M153.8,452.4 Q160.3,454.8 167.4,452.4 L166.7,455.5 Q160.3,457.4 154.6,455.5 Z" fill="#c0b0b8"/><ellipse cx="160.3" cy="431.2" rx="6.9" ry="8" fill="#726294" stroke="#5a4a58" stroke-width="0.8" stroke-opacity="0.7"/><ellipse cx="160.3" cy="431.2" rx="6.9" ry="8" fill="url(#gMen)"/><rect x="179.5" y="415.2" width="37.6" height="43" fill="url(#gBg)"/><path d="M185.5,415.2 L212.1,415.2 L206.5,455.5 Q198.6,458.5 191.5,455.5 Z" fill="url(#gTube)"/><path d="M185.5,415.2 L191.5,455.5 Q198.6,458.5 206.5,455.5 L212.1,415.2" fill="none" stroke="#8a8a8a" stroke-width="0.9"/><path d="M188,415.2 L193,451" stroke="#f4f4f4" stroke-width="1.2" opacity="0.8"/><path d="M209.5,415.2 L205,451" stroke="#f4f4f4" stroke-width="1.0" opacity="0.7"/><path d="M188.7,435.6 Q198.6,444.1 209.1,435.6 L205.7,452.7 Q198.6,454.7 192.1,452.7 Z" fill="#862850"/><path d="M188.7,435.6 Q198.6,444.1 209.1,435.6 L205.7,452.7 Q198.6,454.7 192.1,452.7 Z" fill="url(#gLiqShade)"/><path d="M192.1,452.4 Q198.6,454.8 205.7,452.4 L205,455.5 Q198.6,457.4 192.9,455.5 Z" fill="#d0a8b8"/><ellipse cx="198.6" cy="431.2" rx="6.9" ry="8" fill="#945c84" stroke="#5a4a58" stroke-width="0.8" stroke-opacity="0.7"/><ellipse cx="198.6" cy="431.2" rx="6.9" ry="8" fill="url(#gMen)"/><path d="M198.6,442.7 L198.6,451.2" stroke="#c04070" stroke-width="1.3"/><rect x="64.6" y="460.4" width="37.6" height="43" fill="url(#gBg)"/><path d="M70.6,460.4 L97.2,460.4 L91.6,500.7 Q83.7,503.7 76.6,500.7 Z" fill="url(#gTube)"/><path d="M70.6,460.4 L76.6,500.7 Q83.7,503.7 91.6,500.7 L97.2,460.4" fill="none" stroke="#8a8a8a" stroke-width="0.9"/><path d="M73.1,460.4 L78.1,496.2" stroke="#f4f4f4" stroke-width="1.2" opacity="0.8"/><path d="M94.6,460.4 L90.1,496.2" stroke="#f4f4f4" stroke-width="1.0" opacity="0.7"/><path d="M73.8,480.8 Q83.7,489.3 94.2,480.8 L90.8,497.9 Q83.7,499.9 77.2,497.9 Z" fill="#e2424a"/><path d="M73.8,480.8 Q83.7,489.3 94.2,480.8 L90.8,497.9 Q83.7,499.9 77.2,497.9 Z" fill="url(#gLiqShade)"/><path d="M77.2,497.6 Q83.7,500 90.8,497.6 L90.1,500.7 Q83.7,502.6 78,500.7 Z" fill="#ecb8b8"/><ellipse cx="83.7" cy="478.4" rx="6.6" ry="6.2" fill="#c47080" stroke="#5a4a58" stroke-width="0.8" stroke-opacity="0.7"/><ellipse cx="83.7" cy="478.4" rx="6.6" ry="6.2" fill="url(#gMen)"/><path d="M83.7,487.9 L83.7,496.4" stroke="#ff6a62" stroke-width="1.3"/><rect x="102.9" y="460.4" width="37.6" height="43" fill="url(#gBg)"/><path d="M108.9,460.4 L135.5,460.4 L129.9,500.7 Q122,503.7 114.9,500.7 Z" fill="url(#gTube)"/><path d="M108.9,460.4 L114.9,500.7 Q122,503.7 129.9,500.7 L135.5,460.4" fill="none" stroke="#8a8a8a" stroke-width="0.9"/><path d="M111.4,460.4 L116.4,496.2" stroke="#f4f4f4" stroke-width="1.2" opacity="0.8"/><path d="M132.9,460.4 L128.4,496.2" stroke="#f4f4f4" stroke-width="1.0" opacity="0.7"/><path d="M112.1,480.8 Q122,489.3 132.5,480.8 L129.1,497.9 Q122,499.9 115.5,497.9 Z" fill="#2e3a5c"/><path d="M112.1,480.8 Q122,489.3 132.5,480.8 L129.1,497.9 Q122,499.9 115.5,497.9 Z" fill="url(#gLiqShade)"/><path d="M115.5,497.6 Q122,500 129.1,497.6 L128.4,500.7 Q122,502.6 116.3,500.7 Z" fill="#b8bcc4"/><ellipse cx="122" cy="478.4" rx="6.6" ry="6.2" fill="#5a6894" stroke="#5a4a58" stroke-width="0.8" stroke-opacity="0.7"/><ellipse cx="122" cy="478.4" rx="6.6" ry="6.2" fill="url(#gMen)"/><rect x="141.2" y="460.4" width="37.6" height="43" fill="url(#gBg)"/><path d="M147.2,460.4 L173.8,460.4 L168.2,500.7 Q160.3,503.7 153.2,500.7 Z" fill="url(#gTube)"/><path d="M147.2,460.4 L153.2,500.7 Q160.3,503.7 168.2,500.7 L173.8,460.4" fill="none" stroke="#8a8a8a" stroke-width="0.9"/><path d="M149.7,460.4 L154.7,496.2" stroke="#f4f4f4" stroke-width="1.2" opacity="0.8"/><path d="M171.2,460.4 L166.7,496.2" stroke="#f4f4f4" stroke-width="1.0" opacity="0.7"/><path d="M150.4,480.8 Q160.3,489.3 170.8,480.8 L167.4,497.9 Q160.3,499.9 153.8,497.9 Z" fill="#3a2a4a"/><path d="M150.4,480.8 Q160.3,489.3 170.8,480.8 L167.4,497.9 Q160.3,499.9 153.8,497.9 Z" fill="url(#gLiqShade)"/><path d="M153.8,497.6 Q160.3,500 167.4,497.6 L166.7,500.7 Q160.3,502.6 154.6,500.7 Z" fill="#c0b0bc"/><ellipse cx="160.3" cy="478.4" rx="6.6" ry="6.2" fill="#6e5e94" stroke="#5a4a58" stroke-width="0.8" stroke-opacity="0.7"/><ellipse cx="160.3" cy="478.4" rx="6.6" ry="6.2" fill="url(#gMen)"/><rect x="179.5" y="460.4" width="37.6" height="43" fill="url(#gBg)"/><path d="M185.5,460.4 L212.1,460.4 L206.5,500.7 Q198.6,503.7 191.5,500.7 Z" fill="url(#gTube)"/><path d="M185.5,460.4 L191.5,500.7 Q198.6,503.7 206.5,500.7 L212.1,460.4" fill="none" stroke="#8a8a8a" stroke-width="0.9"/><path d="M188,460.4 L193,496.2" stroke="#f4f4f4" stroke-width="1.2" opacity="0.8"/><path d="M209.5,460.4 L205,496.2" stroke="#f4f4f4" stroke-width="1.0" opacity="0.7"/><path d="M188.7,480.8 Q198.6,489.3 209.1,480.8 L205.7,497.9 Q198.6,499.9 192.1,497.9 Z" fill="#3c6c8a"/><path d="M188.7,480.8 Q198.6,489.3 209.1,480.8 L205.7,497.9 Q198.6,499.9 192.1,497.9 Z" fill="url(#gLiqShade)"/><path d="M192.1,497.6 Q198.6,500 205.7,497.6 L205,500.7 Q198.6,502.6 192.9,500.7 Z" fill="#c0c8cc"/><ellipse cx="198.6" cy="478.4" rx="6.6" ry="6.2" fill="#6888a8" stroke="#5a4a58" stroke-width="0.8" stroke-opacity="0.7"/><ellipse cx="198.6" cy="478.4" rx="6.6" ry="6.2" fill="url(#gMen)"/><path d="M198.6,487.9 L198.6,496.4" stroke="#80a8c8" stroke-width="1.3"/>
<rect x="293" y="415.6" width="37.6" height="42.8" fill="url(#gBg)"/><path d="M299,415.6 L325.6,415.6 L320,455.7 Q312.1,458.7 305,455.7 Z" fill="url(#gTube)"/><path d="M299,415.6 L305,455.7 Q312.1,458.7 320,455.7 L325.6,415.6" fill="none" stroke="#8a8a8a" stroke-width="0.9"/><path d="M301.5,415.6 L306.5,451.2" stroke="#f4f4f4" stroke-width="1.2" opacity="0.8"/><path d="M323,415.6 L318.5,451.2" stroke="#f4f4f4" stroke-width="1.0" opacity="0.7"/><path d="M302.2,436 Q312.1,444.5 322.6,436 L319.2,453.1 Q312.1,455.1 305.6,453.1 Z" fill="#e03a3c"/><path d="M302.2,436 Q312.1,444.5 322.6,436 L319.2,453.1 Q312.1,455.1 305.6,453.1 Z" fill="url(#gLiqShade)"/><path d="M305.6,452.8 Q312.1,455.2 319.2,452.8 L318.5,455.9 Q312.1,457.8 306.4,455.9 Z" fill="#e8b0b0"/><ellipse cx="312.1" cy="431.6" rx="6.9" ry="8" fill="#c46a78" stroke="#5a4a58" stroke-width="0.8" stroke-opacity="0.7"/><ellipse cx="312.1" cy="431.6" rx="6.9" ry="8" fill="url(#gMen)"/><path d="M312.1,443.1 L312.1,451.6" stroke="#ff6a62" stroke-width="1.3"/><rect x="331.3" y="415.6" width="37.6" height="42.8" fill="url(#gBg)"/><path d="M337.3,415.6 L363.9,415.6 L358.3,455.7 Q350.4,458.7 343.3,455.7 Z" fill="url(#gTube)"/><path d="M337.3,415.6 L343.3,455.7 Q350.4,458.7 358.3,455.7 L363.9,415.6" fill="none" stroke="#8a8a8a" stroke-width="0.9"/><path d="M339.8,415.6 L344.8,451.2" stroke="#f4f4f4" stroke-width="1.2" opacity="0.8"/><path d="M361.3,415.6 L356.8,451.2" stroke="#f4f4f4" stroke-width="1.0" opacity="0.7"/><path d="M340.5,436 Q350.4,444.5 360.9,436 L357.5,453.1 Q350.4,455.1 343.9,453.1 Z" fill="#e03a3c"/><path d="M340.5,436 Q350.4,444.5 360.9,436 L357.5,453.1 Q350.4,455.1 343.9,453.1 Z" fill="url(#gLiqShade)"/><path d="M343.9,452.8 Q350.4,455.2 357.5,452.8 L356.8,455.9 Q350.4,457.8 344.7,455.9 Z" fill="#e8b0b0"/><ellipse cx="350.4" cy="431.6" rx="6.9" ry="8" fill="#c46a78" stroke="#5a4a58" stroke-width="0.8" stroke-opacity="0.7"/><ellipse cx="350.4" cy="431.6" rx="6.9" ry="8" fill="url(#gMen)"/><path d="M350.4,443.1 L350.4,451.6" stroke="#ff6a62" stroke-width="1.3"/><rect x="369.6" y="415.6" width="37.6" height="42.8" fill="url(#gBg)"/><path d="M375.6,415.6 L402.2,415.6 L396.6,455.7 Q388.7,458.7 381.6,455.7 Z" fill="url(#gTube)"/><path d="M375.6,415.6 L381.6,455.7 Q388.7,458.7 396.6,455.7 L402.2,415.6" fill="none" stroke="#8a8a8a" stroke-width="0.9"/><path d="M378.1,415.6 L383.1,451.2" stroke="#f4f4f4" stroke-width="1.2" opacity="0.8"/><path d="M399.6,415.6 L395.1,451.2" stroke="#f4f4f4" stroke-width="1.0" opacity="0.7"/><path d="M378.8,436 Q388.7,444.5 399.2,436 L395.8,453.1 Q388.7,455.1 382.2,453.1 Z" fill="#e03a3c"/><path d="M378.8,436 Q388.7,444.5 399.2,436 L395.8,453.1 Q388.7,455.1 382.2,453.1 Z" fill="url(#gLiqShade)"/><path d="M382.2,452.8 Q388.7,455.2 395.8,452.8 L395.1,455.9 Q388.7,457.8 383,455.9 Z" fill="#e8b0b0"/><ellipse cx="388.7" cy="431.6" rx="6.9" ry="8" fill="#c46a78" stroke="#5a4a58" stroke-width="0.8" stroke-opacity="0.7"/><ellipse cx="388.7" cy="431.6" rx="6.9" ry="8" fill="url(#gMen)"/><path d="M388.7,443.1 L388.7,451.6" stroke="#ff6a62" stroke-width="1.3"/><rect x="407.9" y="415.6" width="37.6" height="42.8" fill="url(#gBg)"/><path d="M413.9,415.6 L440.5,415.6 L434.9,455.7 Q427,458.7 419.9,455.7 Z" fill="url(#gTube)"/><path d="M413.9,415.6 L419.9,455.7 Q427,458.7 434.9,455.7 L440.5,415.6" fill="none" stroke="#8a8a8a" stroke-width="0.9"/><path d="M416.4,415.6 L421.4,451.2" stroke="#f4f4f4" stroke-width="1.2" opacity="0.8"/><path d="M437.9,415.6 L433.4,451.2" stroke="#f4f4f4" stroke-width="1.0" opacity="0.7"/><path d="M417.1,436 Q427,444.5 437.5,436 L434.1,453.1 Q427,455.1 420.5,453.1 Z" fill="#5c2246"/><path d="M417.1,436 Q427,444.5 437.5,436 L434.1,453.1 Q427,455.1 420.5,453.1 Z" fill="url(#gLiqShade)"/><path d="M420.5,452.8 Q427,455.2 434.1,452.8 L433.4,455.9 Q427,457.8 421.3,455.9 Z" fill="#c8a8b4"/><ellipse cx="427" cy="431.6" rx="6.9" ry="8" fill="#8e6090" stroke="#5a4a58" stroke-width="0.8" stroke-opacity="0.7"/><ellipse cx="427" cy="431.6" rx="6.9" ry="8" fill="url(#gMen)"/><path d="M427,443.1 L427,451.6" stroke="#903050" stroke-width="1.3"/><rect x="293" y="460.9" width="37.6" height="42.8" fill="url(#gBg)"/><path d="M299,460.9 L325.6,460.9 L320,501 Q312.1,504 305,501 Z" fill="url(#gTube)"/><path d="M299,460.9 L305,501 Q312.1,504 320,501 L325.6,460.9" fill="none" stroke="#8a8a8a" stroke-width="0.9"/><path d="M301.5,460.9 L306.5,496.5" stroke="#f4f4f4" stroke-width="1.2" opacity="0.8"/><path d="M323,460.9 L318.5,496.5" stroke="#f4f4f4" stroke-width="1.0" opacity="0.7"/><path d="M302.2,481.3 Q312.1,489.8 322.6,481.3 L319.2,498.4 Q312.1,500.4 305.6,498.4 Z" fill="#da3646"/><path d="M302.2,481.3 Q312.1,489.8 322.6,481.3 L319.2,498.4 Q312.1,500.4 305.6,498.4 Z" fill="url(#gLiqShade)"/><path d="M305.6,498.1 Q312.1,500.5 319.2,498.1 L318.5,501.2 Q312.1,503.1 306.4,501.2 Z" fill="#e8b0b4"/><ellipse cx="312.1" cy="478.9" rx="6.6" ry="6.2" fill="#bc6878" stroke="#5a4a58" stroke-width="0.8" stroke-opacity="0.7"/><ellipse cx="312.1" cy="478.9" rx="6.6" ry="6.2" fill="url(#gMen)"/><path d="M312.1,488.4 L312.1,496.9" stroke="#ff5a60" stroke-width="1.3"/><rect x="331.3" y="460.9" width="37.6" height="42.8" fill="url(#gBg)"/><path d="M337.3,460.9 L363.9,460.9 L358.3,501 Q350.4,504 343.3,501 Z" fill="url(#gTube)"/><path d="M337.3,460.9 L343.3,501 Q350.4,504 358.3,501 L363.9,460.9" fill="none" stroke="#8a8a8a" stroke-width="0.9"/><path d="M339.8,460.9 L344.8,496.5" stroke="#f4f4f4" stroke-width="1.2" opacity="0.8"/><path d="M361.3,460.9 L356.8,496.5" stroke="#f4f4f4" stroke-width="1.0" opacity="0.7"/><path d="M340.5,481.3 Q350.4,489.8 360.9,481.3 L357.5,498.4 Q350.4,500.4 343.9,498.4 Z" fill="#cc2c44"/><path d="M340.5,481.3 Q350.4,489.8 360.9,481.3 L357.5,498.4 Q350.4,500.4 343.9,498.4 Z" fill="url(#gLiqShade)"/><path d="M343.9,498.1 Q350.4,500.5 357.5,498.1 L356.8,501.2 Q350.4,503.1 344.7,501.2 Z" fill="#e4aab4"/><ellipse cx="350.4" cy="478.9" rx="6.6" ry="6.2" fill="#b05a70" stroke="#5a4a58" stroke-width="0.8" stroke-opacity="0.7"/><ellipse cx="350.4" cy="478.9" rx="6.6" ry="6.2" fill="url(#gMen)"/><path d="M350.4,488.4 L350.4,496.9" stroke="#f05060" stroke-width="1.3"/><rect x="369.6" y="460.9" width="37.6" height="42.8" fill="url(#gBg)"/><path d="M375.6,460.9 L402.2,460.9 L396.6,501 Q388.7,504 381.6,501 Z" fill="url(#gTube)"/><path d="M375.6,460.9 L381.6,501 Q388.7,504 396.6,501 L402.2,460.9" fill="none" stroke="#8a8a8a" stroke-width="0.9"/><path d="M378.1,460.9 L383.1,496.5" stroke="#f4f4f4" stroke-width="1.2" opacity="0.8"/><path d="M399.6,460.9 L395.1,496.5" stroke="#f4f4f4" stroke-width="1.0" opacity="0.7"/><path d="M378.8,481.3 Q388.7,489.8 399.2,481.3 L395.8,498.4 Q388.7,500.4 382.2,498.4 Z" fill="#e04a52"/><path d="M378.8,481.3 Q388.7,489.8 399.2,481.3 L395.8,498.4 Q388.7,500.4 382.2,498.4 Z" fill="url(#gLiqShade)"/><path d="M382.2,498.1 Q388.7,500.5 395.8,498.1 L395.1,501.2 Q388.7,503.1 383,501.2 Z" fill="#ecb8bc"/><ellipse cx="388.7" cy="478.9" rx="6.6" ry="6.2" fill="#c07482" stroke="#5a4a58" stroke-width="0.8" stroke-opacity="0.7"/><ellipse cx="388.7" cy="478.9" rx="6.6" ry="6.2" fill="url(#gMen)"/><path d="M388.7,488.4 L388.7,496.9" stroke="#ff6a6a" stroke-width="1.3"/><rect x="407.9" y="460.9" width="37.6" height="42.8" fill="url(#gBg)"/><path d="M413.9,460.9 L440.5,460.9 L434.9,501 Q427,504 419.9,501 Z" fill="url(#gTube)"/><path d="M413.9,460.9 L419.9,501 Q427,504 434.9,501 L440.5,460.9" fill="none" stroke="#8a8a8a" stroke-width="0.9"/><path d="M416.4,460.9 L421.4,496.5" stroke="#f4f4f4" stroke-width="1.2" opacity="0.8"/><path d="M437.9,460.9 L433.4,496.5" stroke="#f4f4f4" stroke-width="1.0" opacity="0.7"/><path d="M417.1,481.3 Q427,489.8 437.5,481.3 L434.1,498.4 Q427,500.4 420.5,498.4 Z" fill="#263262"/><path d="M417.1,481.3 Q427,489.8 437.5,481.3 L434.1,498.4 Q427,500.4 420.5,498.4 Z" fill="url(#gLiqShade)"/><path d="M420.5,498.1 Q427,500.5 434.1,498.1 L433.4,501.2 Q427,503.1 421.3,501.2 Z" fill="#b0b4c4"/><ellipse cx="427" cy="478.9" rx="6.6" ry="6.2" fill="#505e96" stroke="#5a4a58" stroke-width="0.8" stroke-opacity="0.7"/><ellipse cx="427" cy="478.9" rx="6.6" ry="6.2" fill="url(#gMen)"/>
<rect x="35" y="310.8" width="2.8" height="86.2" fill="#231815"/><text x="1" y="362.3" font-size="22" fill="#231815" font-weight="normal" text-anchor="start">A</text><rect x="42.9" y="331.25" width="12.6" height="1.5" fill="#231815"/><rect x="43.8" y="374.75" width="11.2" height="1.5" fill="#231815"/><rect x="48.65" y="370.3" width="1.5" height="10.4" fill="#231815"/>
<text x="17.6" y="364.2" font-size="11.6" fill="#231815" font-weight="normal" text-anchor="start">14</text>
<rect x="34.6" y="416.6" width="2.8" height="86.8" fill="#231815"/><text x="-0.6" y="469.8" font-size="22" fill="#231815" font-weight="normal" text-anchor="start">G</text><rect x="42.8" y="438.55" width="12.6" height="1.5" fill="#231815"/><rect x="43.7" y="481.55" width="11.2" height="1.5" fill="#231815"/><rect x="48.55" y="477.1" width="1.5" height="10.4" fill="#231815"/>
<text x="15.6" y="472.2" font-size="11.6" fill="#231815" font-weight="normal" text-anchor="start">14</text>
<rect x="264.3" y="308.5" width="2.8" height="87.2" fill="#231815"/><text x="231.3" y="360.7" font-size="22" fill="#231815" font-weight="normal" text-anchor="start">T</text><rect x="273" y="329.25" width="12.6" height="1.5" fill="#231815"/><rect x="273.9" y="372.75" width="11.2" height="1.5" fill="#231815"/><rect x="278.75" y="368.3" width="1.5" height="10.4" fill="#231815"/>
<text x="246.6" y="362.6" font-size="11.6" fill="#231815" font-weight="normal" text-anchor="start">14</text>
<rect x="264.3" y="415.4" width="2.8" height="86.2" fill="#231815"/><text x="227.2" y="467.9" font-size="22" fill="#231815" font-weight="normal" text-anchor="start">C</text><rect x="272.3" y="436.65" width="12.6" height="1.5" fill="#231815"/><rect x="273.2" y="479.95" width="11.2" height="1.5" fill="#231815"/><rect x="278.05" y="475.5" width="1.5" height="10.4" fill="#231815"/>
<text x="246.7" y="470.2" font-size="11.6" fill="#231815" font-weight="normal" text-anchor="start">14</text>
<text x="49.5" y="522.5" font-size="15.6" fill="#231815" font-weight="normal" text-anchor="start" textLength="182" lengthAdjust="spacingAndGlyphs">–: Before centrifugation</text>
<text x="288.3" y="522.5" font-size="15.6" fill="#231815" font-weight="normal" text-anchor="start" textLength="169" lengthAdjust="spacingAndGlyphs">+: After centrifugation</text>
<text x="461.4" y="26.2" font-size="27" fill="#111" font-weight="bold" text-anchor="start">C</text>
<circle cx="537" cy="16.7" r="13.1" fill="url(#gNPb)"/>
<circle cx="497.8" cy="41.8" r="13.1" fill="url(#gNPb)"/>
<circle cx="537" cy="63.2" r="13.1" fill="url(#gNPb)"/>
<text x="498.8" y="98.2" font-size="13.2" fill="#111" font-weight="normal" text-anchor="start" textLength="35.5" lengthAdjust="spacingAndGlyphs">AuNP</text>
<rect x="510.6" y="111.1" width="10.8" height="1.9" fill="#111"/>
<rect x="515.05" y="106.8" width="1.9" height="10.4" fill="#111"/>
<path d="M495.4,166.1 Q501.65,168.15 507.9,167.8" fill="none" stroke="#203c8c" stroke-width="2.5" stroke-linecap="round"/>
<path d="M502.2,154.2 Q509.6,155.1 517,153.6" fill="none" stroke="#203c8c" stroke-width="2.5" stroke-linecap="round"/>
<path d="M510.8,141.1 Q517.9,142.3 525,141.1" fill="none" stroke="#203c8c" stroke-width="2.5" stroke-linecap="round"/>
<path d="M519.3,126.3 Q526.7,127.75 534.1,126.8" fill="none" stroke="#203c8c" stroke-width="2.5" stroke-linecap="round"/>
<path d="M507.9,167.8 L502.2,154.2" stroke="#4a86e6" stroke-width="2.3" stroke-linecap="round"/>
<path d="M517,153.6 L510.8,141.1" stroke="#4a86e6" stroke-width="2.3" stroke-linecap="round"/>
<path d="M525,141.1 L519.3,126.3" stroke="#4a86e6" stroke-width="2.3" stroke-linecap="round"/>
<ellipse cx="490.8" cy="171.6" rx="6.2" ry="4.1" transform="rotate(-58 490.8 171.6)" fill="#f6b400"/>
<text x="489.7" y="193.2" font-size="13.2" fill="#111" font-weight="normal" text-anchor="start" textLength="52.8" lengthAdjust="spacingAndGlyphs">HS-DNA</text>
<path d="M564.11,73.92 L568.18,70.05 L572.38,66.33 L576.73,62.78 L581.2,59.38 L585.8,56.16 L590.51,53.1 L595.34,50.23 L600.27,47.53 L605.3,45.03 L610.42,42.7 L615.62,40.58 L620.9,38.64 L626.25,36.91 L631.67,35.37 L637.13,34.04 L642.65,32.91 L648.2,31.98 L653.78,31.27 L659.39,30.76 L665.02,30.46 L670.65,30.38 L676.29,30.5 L681.91,30.83 L687.52,31.37 L693.11,32.12 L698.67,33.08 L704.19,34.24 L709.66,35.61 L715.08,37.18 L720.44,38.96 L725.73,40.93 L730.94,43.1 L736.07,45.46 L741.11,48.01 L746.05,50.75 L750.89,53.67 L755.62,56.77 L760.22,60.04 L764.71,63.49 L769.06,67.1 L763.94,72.98 L759.85,69.51 L755.63,66.2 L751.28,63.04 L746.83,60.05 L742.26,57.22 L737.59,54.57 L732.83,52.09 L727.97,49.79 L723.03,47.67 L718.01,45.74 L712.93,43.99 L707.78,42.44 L702.58,41.07 L697.32,39.91 L692.03,38.93 L686.7,38.16 L681.35,37.59 L675.98,37.21 L670.6,37.03 L665.21,37.06 L659.83,37.29 L654.45,37.71 L649.1,38.34 L643.77,39.17 L638.48,40.19 L633.22,41.41 L628.02,42.83 L622.87,44.44 L617.78,46.24 L612.76,48.23 L607.82,50.4 L602.96,52.76 L598.2,55.3 L593.52,58.01 L588.96,60.9 L584.5,63.96 L580.16,67.18 L575.94,70.56 L571.85,74.09 L567.89,77.78 Z" fill="url(#gArcT)"/><path d="M760.6,75.5 L771.4,64.7 L776,80.1 Z" fill="#7a46aa"/>
<path d="M561.5,105.9 L762.4,105.9 L762.4,102.4 L777.7,110.1 L762.4,117.8 L762.4,114.2 L561.5,114.2 Z" fill="url(#gArcT)"/>
<path d="M564,142.05 L568.01,146.05 L572.17,149.9 L576.47,153.59 L580.91,157.12 L585.48,160.48 L590.18,163.67 L594.99,166.68 L599.91,169.51 L604.93,172.15 L610.05,174.6 L615.26,176.86 L620.55,178.93 L625.92,180.79 L631.35,182.45 L636.84,183.91 L642.39,185.16 L647.98,186.21 L653.61,187.04 L659.26,187.67 L664.93,188.08 L670.62,188.27 L676.31,188.26 L682,188.03 L687.68,187.59 L693.34,186.94 L698.97,186.07 L704.57,185 L710.12,183.71 L715.62,182.22 L721.06,180.52 L726.44,178.62 L731.74,176.52 L736.97,174.22 L742.1,171.73 L747.14,169.05 L752.07,166.17 L756.9,163.12 L761.61,159.89 L766.19,156.48 L770.64,152.9 L765.36,146.63 L761.18,150.07 L756.88,153.35 L752.45,156.46 L747.91,159.41 L743.27,162.19 L738.52,164.79 L733.67,167.21 L728.74,169.45 L723.73,171.51 L718.64,173.37 L713.49,175.05 L708.27,176.53 L703,177.81 L697.69,178.9 L692.33,179.78 L686.95,180.47 L681.55,180.95 L676.12,181.23 L670.69,181.31 L665.26,181.18 L659.84,180.86 L654.43,180.32 L649.05,179.59 L643.69,178.65 L638.38,177.52 L633.1,176.18 L627.88,174.65 L622.72,172.93 L617.63,171.01 L612.61,168.9 L607.67,166.61 L602.83,164.13 L598.07,161.47 L593.42,158.63 L588.88,155.62 L584.45,152.45 L580.14,149.1 L575.96,145.6 L571.91,141.95 L568,138.14 Z" fill="url(#gArcT)"/><path d="M760.9,144.8 L771.1,155 L776,140 Z" fill="#7a46aa"/>
<circle cx="612.4" cy="16.3" r="7.5" fill="#6b6b6b"/><text x="612.4" y="20.1" font-size="10.5" fill="#f0f0f0" font-weight="normal" text-anchor="middle">1</text>
<circle cx="630.6" cy="95.5" r="7.5" fill="#6b6b6b"/><text x="630.6" y="99.3" font-size="10.5" fill="#f0f0f0" font-weight="normal" text-anchor="middle">2</text>
<circle cx="634.8" cy="168.6" r="7.5" fill="#6b6b6b"/><text x="634.8" y="172.4" font-size="10.5" fill="#f0f0f0" font-weight="normal" text-anchor="middle">3</text>
<text font-size="12" fill="#1aaa55"><textPath href="#tp1" startOffset="67.5" textLength="88" lengthAdjust="spacingAndGlyphs">F<tspan font-size="8" dy="-4">−</tspan><tspan dy="4">/Br</tspan><tspan font-size="8" dy="-4">−</tspan><tspan dy="4"> promoted</tspan></textPath></text>
<text font-size="12.2" fill="#1aaa55"><textPath href="#tp2" startOffset="67.6" textLength="100" lengthAdjust="spacingAndGlyphs">DNA stretching, <tspan font-style="italic">1h</tspan></textPath></text>
<text x="627.5" y="61.4" font-size="13.2" fill="#1aaa55" font-weight="normal" text-anchor="start" textLength="97.5" lengthAdjust="spacingAndGlyphs">One time added</text>
<text x="639.5" y="100" font-size="13.3" fill="#111" font-weight="normal" text-anchor="start" textLength="34.5" lengthAdjust="spacingAndGlyphs">NaCl,</text>
<text x="677.5" y="100" font-size="13.3" fill="#ff1a1a" font-weight="normal" text-anchor="start" textLength="35" lengthAdjust="spacingAndGlyphs">&gt; 24h</text>
<text x="626.5" y="129.9" font-size="12.6" fill="#ff1a1a" font-weight="normal" text-anchor="start" textLength="88" lengthAdjust="spacingAndGlyphs">Six times added</text>
<text x="644.2" y="171.6" font-size="13" fill="#111" font-weight="normal" text-anchor="start" textLength="44.5" lengthAdjust="spacingAndGlyphs">pH 3.0,</text>
<text x="692.2" y="171.6" font-size="13" fill="#ff1a1a" font-weight="normal" text-anchor="start" textLength="28" lengthAdjust="spacingAndGlyphs">~3 <tspan font-weight="bold">h</tspan></text>
<text font-size="12.5" fill="#ff1a1a"><textPath href="#tp3" startOffset="58.6" textLength="115" lengthAdjust="spacingAndGlyphs">Preferred A-rich DNA</textPath></text>
<path d="M811.71,71.75 L812.04,70.42 L812.04,69.37 L811.52,68.77 L810.48,68.63 L809.12,68.76 L807.76,68.89 L806.72,68.75 L806.2,68.15 L806.2,67.1 L806.53,65.77 L806.85,64.44 L806.86,63.39 L806.34,62.79 L805.3,62.64 L803.94,62.77 L802.57,62.91 L801.53,62.76 L801.01,62.16 L801.02,61.11 L801.34,59.78 L801.67,58.45 L801.67,57.4 L801.15,56.8 L800.11,56.66 L798.75,56.79 L797.39,56.92 L796.35,56.77 L795.83,56.18 L795.83,55.13 L796.16,53.8 L796.48,52.47 L796.48,51.42 L795.97,50.82" fill="none" stroke="#3c62b4" stroke-width="1.35" stroke-linecap="round" stroke-linejoin="round"/>
<path d="M811.71,71.75 L812.04,70.42 L812.04,69.37 L811.52,68.77 L810.48,68.63 L809.12,68.76 L807.76,68.89 L806.72,68.75 L806.2,68.15 L806.2,67.1 L806.53,65.77 L806.85,64.44 L806.86,63.39 L806.34,62.79 L805.3,62.64 L803.94,62.77 L802.57,62.91 L801.53,62.76 L801.01,62.16 L801.02,61.11 L801.34,59.78 L801.67,58.45 L801.67,57.4 L801.15,56.8 L800.11,56.66 L798.75,56.79 L797.39,56.92 L796.35,56.77 L795.83,56.18 L795.83,55.13 L796.16,53.8 L796.48,52.47 L796.48,51.42 L795.97,50.82" fill="none" stroke="#8cb0ee" stroke-width="0.6" stroke-linecap="round" stroke-linejoin="round" stroke-dasharray="1.2 2.4" opacity="0.9"/>
<path d="M828.51,72.14 L829.86,72.34 L830.9,72.24 L831.45,71.67 L831.49,70.62 L831.22,69.28 L830.95,67.94 L830.99,66.9 L831.54,66.33 L832.58,66.23 L833.93,66.43 L835.28,66.63 L836.32,66.53 L836.87,65.96 L836.91,64.91 L836.64,63.57 L836.37,62.23 L836.42,61.19 L836.96,60.62 L838,60.52 L839.35,60.72 L840.7,60.92 L841.75,60.82 L842.29,60.25 L842.33,59.21 L842.06,57.87 L841.8,56.53 L841.84,55.48 L842.38,54.91 L843.42,54.81 L844.77,55.01 L846.13,55.21 L847.17,55.12 L847.71,54.54" fill="none" stroke="#3c62b4" stroke-width="1.35" stroke-linecap="round" stroke-linejoin="round"/>
<path d="M828.51,72.14 L829.86,72.34 L830.9,72.24 L831.45,71.67 L831.49,70.62 L831.22,69.28 L830.95,67.94 L830.99,66.9 L831.54,66.33 L832.58,66.23 L833.93,66.43 L835.28,66.63 L836.32,66.53 L836.87,65.96 L836.91,64.91 L836.64,63.57 L836.37,62.23 L836.42,61.19 L836.96,60.62 L838,60.52 L839.35,60.72 L840.7,60.92 L841.75,60.82 L842.29,60.25 L842.33,59.21 L842.06,57.87 L841.8,56.53 L841.84,55.48 L842.38,54.91 L843.42,54.81 L844.77,55.01 L846.13,55.21 L847.17,55.12 L847.71,54.54" fill="none" stroke="#8cb0ee" stroke-width="0.6" stroke-linecap="round" stroke-linejoin="round" stroke-dasharray="1.2 2.4" opacity="0.9"/>
<path d="M831.75,85.17 L832.12,86.47 L832.63,87.37 L833.35,87.62 L834.3,87.2 L835.38,86.39 L836.46,85.57 L837.41,85.16 L838.13,85.41 L838.64,86.3 L839.01,87.61 L839.38,88.91 L839.89,89.81 L840.61,90.05 L841.56,89.64 L842.64,88.82 L843.72,88.01 L844.66,87.59 L845.39,87.84 L845.9,88.74 L846.27,90.04 L846.64,91.34 L847.14,92.24 L847.87,92.48 L848.81,92.07 L849.89,91.25 L850.98,90.44 L851.92,90.03 L852.65,90.27 L853.15,91.17 L853.52,92.47 L853.89,93.77 L854.4,94.67 L855.13,94.91" fill="none" stroke="#3c62b4" stroke-width="1.35" stroke-linecap="round" stroke-linejoin="round"/>
<path d="M831.75,85.17 L832.12,86.47 L832.63,87.37 L833.35,87.62 L834.3,87.2 L835.38,86.39 L836.46,85.57 L837.41,85.16 L838.13,85.41 L838.64,86.3 L839.01,87.61 L839.38,88.91 L839.89,89.81 L840.61,90.05 L841.56,89.64 L842.64,88.82 L843.72,88.01 L844.66,87.59 L845.39,87.84 L845.9,88.74 L846.27,90.04 L846.64,91.34 L847.14,92.24 L847.87,92.48 L848.81,92.07 L849.89,91.25 L850.98,90.44 L851.92,90.03 L852.65,90.27 L853.15,91.17 L853.52,92.47 L853.89,93.77 L854.4,94.67 L855.13,94.91" fill="none" stroke="#8cb0ee" stroke-width="0.6" stroke-linecap="round" stroke-linejoin="round" stroke-dasharray="1.2 2.4" opacity="0.9"/>
<path d="M817.27,93.42 L816.02,93.94 L815.18,94.55 L815.02,95.31 L815.53,96.21 L816.46,97.21 L817.39,98.2 L817.9,99.1 L817.74,99.86 L816.9,100.47 L815.64,100.99 L814.39,101.51 L813.55,102.12 L813.39,102.88 L813.9,103.78 L814.83,104.77 L815.76,105.77 L816.27,106.67 L816.11,107.43 L815.27,108.04 L814.02,108.56 L812.76,109.08 L811.92,109.69 L811.76,110.45 L812.27,111.35 L813.2,112.34 L814.13,113.34 L814.64,114.24 L814.48,115 L813.64,115.61 L812.39,116.13 L811.13,116.65 L810.3,117.26 L810.13,118.02" fill="none" stroke="#3c62b4" stroke-width="1.35" stroke-linecap="round" stroke-linejoin="round"/>
<path d="M817.27,93.42 L816.02,93.94 L815.18,94.55 L815.02,95.31 L815.53,96.21 L816.46,97.21 L817.39,98.2 L817.9,99.1 L817.74,99.86 L816.9,100.47 L815.64,100.99 L814.39,101.51 L813.55,102.12 L813.39,102.88 L813.9,103.78 L814.83,104.77 L815.76,105.77 L816.27,106.67 L816.11,107.43 L815.27,108.04 L814.02,108.56 L812.76,109.08 L811.92,109.69 L811.76,110.45 L812.27,111.35 L813.2,112.34 L814.13,113.34 L814.64,114.24 L814.48,115 L813.64,115.61 L812.39,116.13 L811.13,116.65 L810.3,117.26 L810.13,118.02" fill="none" stroke="#8cb0ee" stroke-width="0.6" stroke-linecap="round" stroke-linejoin="round" stroke-dasharray="1.2 2.4" opacity="0.9"/>
<path d="M808.67,86.7 L807.49,86.03 L806.49,85.75 L805.8,86.09 L805.41,87.05 L805.21,88.4 L805.01,89.74 L804.62,90.7 L803.92,91.04 L802.93,90.76 L801.74,90.09 L800.56,89.43 L799.56,89.15 L798.87,89.49 L798.48,90.45 L798.28,91.79 L798.07,93.13 L797.69,94.09 L796.99,94.43 L796,94.15 L794.81,93.49 L793.63,92.82 L792.63,92.54 L791.94,92.88 L791.55,93.84 L791.35,95.18 L791.14,96.53 L790.75,97.49 L790.06,97.83 L789.06,97.55 L787.88,96.88 L786.7,96.22 L785.7,95.94 L785.01,96.28" fill="none" stroke="#3c62b4" stroke-width="1.35" stroke-linecap="round" stroke-linejoin="round"/>
<path d="M808.67,86.7 L807.49,86.03 L806.49,85.75 L805.8,86.09 L805.41,87.05 L805.21,88.4 L805.01,89.74 L804.62,90.7 L803.92,91.04 L802.93,90.76 L801.74,90.09 L800.56,89.43 L799.56,89.15 L798.87,89.49 L798.48,90.45 L798.28,91.79 L798.07,93.13 L797.69,94.09 L796.99,94.43 L796,94.15 L794.81,93.49 L793.63,92.82 L792.63,92.54 L791.94,92.88 L791.55,93.84 L791.35,95.18 L791.14,96.53 L790.75,97.49 L790.06,97.83 L789.06,97.55 L787.88,96.88 L786.7,96.22 L785.7,95.94 L785.01,96.28" fill="none" stroke="#8cb0ee" stroke-width="0.6" stroke-linecap="round" stroke-linejoin="round" stroke-dasharray="1.2 2.4" opacity="0.9"/>
<circle cx="811.52" cy="71.53" r="2.3" fill="#f6b400"/>
<circle cx="828.72" cy="71.92" r="2.3" fill="#f6b400"/>
<circle cx="832.04" cy="85.27" r="2.3" fill="#f6b400"/>
<circle cx="817.21" cy="93.71" r="2.3" fill="#f6b400"/>
<circle cx="808.4" cy="86.83" r="2.3" fill="#f6b400"/>
<circle cx="819.9" cy="81.2" r="12.8" fill="url(#gNPb)"/>
<path d="M881.64,81.83 L881.79,80.48 L881.66,79.45 L881.07,78.95 L880.04,78.97 L878.73,79.31 L877.41,79.65 L876.38,79.67 L875.8,79.16 L875.66,78.14 L875.81,76.79 L875.96,75.44 L875.83,74.41 L875.24,73.91 L874.21,73.93 L872.9,74.27 L871.58,74.61 L870.55,74.63 L869.96,74.13 L869.83,73.1 L869.98,71.75 L870.13,70.4 L870,69.38 L869.41,68.87 L868.38,68.89 L867.06,69.23 L865.75,69.57 L864.72,69.59 L864.13,69.09 L864,68.06 L864.15,66.71 L864.3,65.36 L864.16,64.34 L863.58,63.83" fill="none" stroke="#3c62b4" stroke-width="1.35" stroke-linecap="round" stroke-linejoin="round"/>
<path d="M881.64,81.83 L881.79,80.48 L881.66,79.45 L881.07,78.95 L880.04,78.97 L878.73,79.31 L877.41,79.65 L876.38,79.67 L875.8,79.16 L875.66,78.14 L875.81,76.79 L875.96,75.44 L875.83,74.41 L875.24,73.91 L874.21,73.93 L872.9,74.27 L871.58,74.61 L870.55,74.63 L869.96,74.13 L869.83,73.1 L869.98,71.75 L870.13,70.4 L870,69.38 L869.41,68.87 L868.38,68.89 L867.06,69.23 L865.75,69.57 L864.72,69.59 L864.13,69.09 L864,68.06 L864.15,66.71 L864.3,65.36 L864.16,64.34 L863.58,63.83" fill="none" stroke="#8cb0ee" stroke-width="0.6" stroke-linecap="round" stroke-linejoin="round" stroke-dasharray="1.2 2.4" opacity="0.9"/>
<path d="M898.23,79.73 L899.59,79.73 L900.6,79.48 L901.05,78.84 L900.92,77.81 L900.45,76.53 L899.98,75.25 L899.86,74.22 L900.3,73.58 L901.31,73.33 L902.67,73.33 L904.04,73.32 L905.05,73.08 L905.49,72.44 L905.37,71.4 L904.9,70.13 L904.42,68.85 L904.3,67.82 L904.75,67.17 L905.76,66.93 L907.12,66.92 L908.48,66.92 L909.49,66.67 L909.94,66.03 L909.82,65 L909.34,63.72 L908.87,62.45 L908.75,61.41 L909.19,60.77 L910.2,60.52 L911.57,60.52 L912.93,60.52 L913.94,60.27 L914.38,59.63" fill="none" stroke="#3c62b4" stroke-width="1.35" stroke-linecap="round" stroke-linejoin="round"/>
<path d="M898.23,79.73 L899.59,79.73 L900.6,79.48 L901.05,78.84 L900.92,77.81 L900.45,76.53 L899.98,75.25 L899.86,74.22 L900.3,73.58 L901.31,73.33 L902.67,73.33 L904.04,73.32 L905.05,73.08 L905.49,72.44 L905.37,71.4 L904.9,70.13 L904.42,68.85 L904.3,67.82 L904.75,67.17 L905.76,66.93 L907.12,66.92 L908.48,66.92 L909.49,66.67 L909.94,66.03 L909.82,65 L909.34,63.72 L908.87,62.45 L908.75,61.41 L909.19,60.77 L910.2,60.52 L911.57,60.52 L912.93,60.52 L913.94,60.27 L914.38,59.63" fill="none" stroke="#8cb0ee" stroke-width="0.6" stroke-linecap="round" stroke-linejoin="round" stroke-dasharray="1.2 2.4" opacity="0.9"/>
<path d="M903.45,91.93 L904.03,93.15 L904.68,93.95 L905.43,94.06 L906.29,93.5 L907.22,92.51 L908.14,91.53 L909,90.96 L909.75,91.08 L910.4,91.88 L910.98,93.1 L911.56,94.32 L912.21,95.12 L912.96,95.24 L913.82,94.67 L914.75,93.69 L915.67,92.7 L916.53,92.14 L917.28,92.25 L917.93,93.05 L918.51,94.27 L919.09,95.49 L919.74,96.29 L920.49,96.41 L921.35,95.85 L922.28,94.86 L923.2,93.87 L924.06,93.31 L924.81,93.43 L925.46,94.23 L926.04,95.45 L926.62,96.67 L927.27,97.47 L928.02,97.59" fill="none" stroke="#3c62b4" stroke-width="1.35" stroke-linecap="round" stroke-linejoin="round"/>
<path d="M903.45,91.93 L904.03,93.15 L904.68,93.95 L905.43,94.06 L906.29,93.5 L907.22,92.51 L908.14,91.53 L909,90.96 L909.75,91.08 L910.4,91.88 L910.98,93.1 L911.56,94.32 L912.21,95.12 L912.96,95.24 L913.82,94.67 L914.75,93.69 L915.67,92.7 L916.53,92.14 L917.28,92.25 L917.93,93.05 L918.51,94.27 L919.09,95.49 L919.74,96.29 L920.49,96.41 L921.35,95.85 L922.28,94.86 L923.2,93.87 L924.06,93.31 L924.81,93.43 L925.46,94.23 L926.04,95.45 L926.62,96.67 L927.27,97.47 L928.02,97.59" fill="none" stroke="#8cb0ee" stroke-width="0.6" stroke-linecap="round" stroke-linejoin="round" stroke-dasharray="1.2 2.4" opacity="0.9"/>
<path d="M890.4,102.48 L889.25,103.18 L888.52,103.91 L888.47,104.67 L889.12,105.48 L890.19,106.3 L891.26,107.13 L891.91,107.93 L891.87,108.69 L891.14,109.42 L889.98,110.12 L888.82,110.82 L888.09,111.55 L888.05,112.32 L888.69,113.12 L889.77,113.94 L890.84,114.77 L891.49,115.57 L891.44,116.34 L890.71,117.06 L889.55,117.77 L888.4,118.47 L887.66,119.19 L887.62,119.96 L888.27,120.76 L889.34,121.59 L890.41,122.41 L891.06,123.22 L891.02,123.98 L890.29,124.71 L889.13,125.41 L887.97,126.11 L887.24,126.84 L887.2,127.6" fill="none" stroke="#3c62b4" stroke-width="1.35" stroke-linecap="round" stroke-linejoin="round"/>
<path d="M890.4,102.48 L889.25,103.18 L888.52,103.91 L888.47,104.67 L889.12,105.48 L890.19,106.3 L891.26,107.13 L891.91,107.93 L891.87,108.69 L891.14,109.42 L889.98,110.12 L888.82,110.82 L888.09,111.55 L888.05,112.32 L888.69,113.12 L889.77,113.94 L890.84,114.77 L891.49,115.57 L891.44,116.34 L890.71,117.06 L889.55,117.77 L888.4,118.47 L887.66,119.19 L887.62,119.96 L888.27,120.76 L889.34,121.59 L890.41,122.41 L891.06,123.22 L891.02,123.98 L890.29,124.71 L889.13,125.41 L887.97,126.11 L887.24,126.84 L887.2,127.6" fill="none" stroke="#8cb0ee" stroke-width="0.6" stroke-linecap="round" stroke-linejoin="round" stroke-dasharray="1.2 2.4" opacity="0.9"/>
<path d="M880.83,97.13 L879.55,96.66 L878.52,96.53 L877.88,96.98 L877.63,97.99 L877.63,99.35 L877.63,100.71 L877.38,101.73 L876.74,102.17 L875.71,102.05 L874.43,101.57 L873.15,101.1 L872.12,100.98 L871.48,101.42 L871.23,102.44 L871.23,103.8 L871.22,105.16 L870.98,106.17 L870.34,106.62 L869.3,106.49 L868.02,106.02 L866.75,105.55 L865.71,105.43 L865.07,105.87 L864.83,106.88 L864.82,108.24 L864.82,109.61 L864.57,110.62 L863.93,111.06 L862.9,110.94 L861.62,110.47 L860.34,109.99 L859.31,109.87 L858.67,110.32" fill="none" stroke="#3c62b4" stroke-width="1.35" stroke-linecap="round" stroke-linejoin="round"/>
<path d="M880.83,97.13 L879.55,96.66 L878.52,96.53 L877.88,96.98 L877.63,97.99 L877.63,99.35 L877.63,100.71 L877.38,101.73 L876.74,102.17 L875.71,102.05 L874.43,101.57 L873.15,101.1 L872.12,100.98 L871.48,101.42 L871.23,102.44 L871.23,103.8 L871.22,105.16 L870.98,106.17 L870.34,106.62 L869.3,106.49 L868.02,106.02 L866.75,105.55 L865.71,105.43 L865.07,105.87 L864.83,106.88 L864.82,108.24 L864.82,109.61 L864.57,110.62 L863.93,111.06 L862.9,110.94 L861.62,110.47 L860.34,109.99 L859.31,109.87 L858.67,110.32" fill="none" stroke="#8cb0ee" stroke-width="0.6" stroke-linecap="round" stroke-linejoin="round" stroke-dasharray="1.2 2.4" opacity="0.9"/>
<circle cx="881.41" cy="81.63" r="2.3" fill="#f6b400"/>
<circle cx="898.4" cy="79.49" r="2.3" fill="#f6b400"/>
<circle cx="903.75" cy="91.97" r="2.3" fill="#f6b400"/>
<circle cx="890.39" cy="102.78" r="2.3" fill="#f6b400"/>
<circle cx="880.59" cy="97.3" r="2.3" fill="#f6b400"/>
<circle cx="891.1" cy="90" r="12.8" fill="url(#gNPb)"/>
<path d="M842.16,124.27 L843,123.2 L843.42,122.25 L843.19,121.51 L842.3,120.97 L841,120.56 L839.7,120.16 L838.81,119.62 L838.58,118.88 L839.01,117.93 L839.84,116.86 L840.68,115.78 L841.1,114.83 L840.87,114.09 L839.98,113.56 L838.68,113.15 L837.38,112.74 L836.49,112.2 L836.26,111.46 L836.69,110.52 L837.52,109.44 L838.35,108.36 L838.78,107.42 L838.55,106.68 L837.66,106.14 L836.36,105.73 L835.06,105.32 L834.17,104.79 L833.94,104.05 L834.36,103.1 L835.2,102.02 L836.03,100.95 L836.46,100 L836.22,99.26" fill="none" stroke="#3c62b4" stroke-width="1.35" stroke-linecap="round" stroke-linejoin="round"/>
<path d="M842.16,124.27 L843,123.2 L843.42,122.25 L843.19,121.51 L842.3,120.97 L841,120.56 L839.7,120.16 L838.81,119.62 L838.58,118.88 L839.01,117.93 L839.84,116.86 L840.68,115.78 L841.1,114.83 L840.87,114.09 L839.98,113.56 L838.68,113.15 L837.38,112.74 L836.49,112.2 L836.26,111.46 L836.69,110.52 L837.52,109.44 L838.35,108.36 L838.78,107.42 L838.55,106.68 L837.66,106.14 L836.36,105.73 L835.06,105.32 L834.17,104.79 L833.94,104.05 L834.36,103.1 L835.2,102.02 L836.03,100.95 L836.46,100 L836.22,99.26" fill="none" stroke="#8cb0ee" stroke-width="0.6" stroke-linecap="round" stroke-linejoin="round" stroke-dasharray="1.2 2.4" opacity="0.9"/>
<path d="M857.45,131.41 L858.63,132.13 L859.64,132.45 L860.4,132.14 L860.89,131.19 L861.21,129.85 L861.54,128.5 L862.03,127.55 L862.78,127.24 L863.8,127.57 L864.98,128.29 L866.16,129.01 L867.18,129.33 L867.93,129.02 L868.42,128.07 L868.74,126.72 L869.07,125.38 L869.56,124.43 L870.31,124.12 L871.33,124.44 L872.51,125.16 L873.69,125.88 L874.71,126.21 L875.46,125.89 L875.95,124.94 L876.27,123.6 L876.6,122.26 L877.09,121.31 L877.84,120.99 L878.86,121.32 L880.04,122.04 L881.22,122.76 L882.24,123.08 L882.99,122.77" fill="none" stroke="#3c62b4" stroke-width="1.35" stroke-linecap="round" stroke-linejoin="round"/>
<path d="M857.45,131.41 L858.63,132.13 L859.64,132.45 L860.4,132.14 L860.89,131.19 L861.21,129.85 L861.54,128.5 L862.03,127.55 L862.78,127.24 L863.8,127.57 L864.98,128.29 L866.16,129.01 L867.18,129.33 L867.93,129.02 L868.42,128.07 L868.74,126.72 L869.07,125.38 L869.56,124.43 L870.31,124.12 L871.33,124.44 L872.51,125.16 L873.69,125.88 L874.71,126.21 L875.46,125.89 L875.95,124.94 L876.27,123.6 L876.6,122.26 L877.09,121.31 L877.84,120.99 L878.86,121.32 L880.04,122.04 L881.22,122.76 L882.24,123.08 L882.99,122.77" fill="none" stroke="#8cb0ee" stroke-width="0.6" stroke-linecap="round" stroke-linejoin="round" stroke-dasharray="1.2 2.4" opacity="0.9"/>
<path d="M854.69,145.09 L854.45,146.43 L854.51,147.48 L855.07,148.04 L856.12,148.12 L857.46,147.89 L858.81,147.67 L859.86,147.74 L860.41,148.3 L860.48,149.35 L860.24,150.7 L860,152.04 L860.06,153.09 L860.62,153.65 L861.66,153.73 L863.01,153.5 L864.36,153.28 L865.41,153.35 L865.96,153.91 L866.03,154.96 L865.79,156.31 L865.55,157.65 L865.61,158.7 L866.17,159.26 L867.21,159.34 L868.56,159.11 L869.91,158.89 L870.96,158.96 L871.51,159.52 L871.57,160.57 L871.34,161.92 L871.1,163.26 L871.16,164.31 L871.72,164.87" fill="none" stroke="#3c62b4" stroke-width="1.35" stroke-linecap="round" stroke-linejoin="round"/>
<path d="M854.69,145.09 L854.45,146.43 L854.51,147.48 L855.07,148.04 L856.12,148.12 L857.46,147.89 L858.81,147.67 L859.86,147.74 L860.41,148.3 L860.48,149.35 L860.24,150.7 L860,152.04 L860.06,153.09 L860.62,153.65 L861.66,153.73 L863.01,153.5 L864.36,153.28 L865.41,153.35 L865.96,153.91 L866.03,154.96 L865.79,156.31 L865.55,157.65 L865.61,158.7 L866.17,159.26 L867.21,159.34 L868.56,159.11 L869.91,158.89 L870.96,158.96 L871.51,159.52 L871.57,160.57 L871.34,161.92 L871.1,163.26 L871.16,164.31 L871.72,164.87" fill="none" stroke="#8cb0ee" stroke-width="0.6" stroke-linecap="round" stroke-linejoin="round" stroke-dasharray="1.2 2.4" opacity="0.9"/>
<path d="M838.11,145.98 L836.75,145.89 L835.72,146.08 L835.23,146.69 L835.28,147.73 L835.67,149.04 L836.06,150.35 L836.11,151.39 L835.62,152.01 L834.59,152.19 L833.23,152.1 L831.87,152.02 L830.84,152.2 L830.35,152.82 L830.4,153.86 L830.79,155.17 L831.17,156.48 L831.22,157.52 L830.74,158.13 L829.71,158.32 L828.35,158.23 L826.99,158.15 L825.96,158.33 L825.47,158.95 L825.52,159.99 L825.91,161.3 L826.29,162.61 L826.34,163.65 L825.85,164.26 L824.83,164.44 L823.46,164.36 L822.1,164.28 L821.07,164.46 L820.59,165.07" fill="none" stroke="#3c62b4" stroke-width="1.35" stroke-linecap="round" stroke-linejoin="round"/>
<path d="M838.11,145.98 L836.75,145.89 L835.72,146.08 L835.23,146.69 L835.28,147.73 L835.67,149.04 L836.06,150.35 L836.11,151.39 L835.62,152.01 L834.59,152.19 L833.23,152.1 L831.87,152.02 L830.84,152.2 L830.35,152.82 L830.4,153.86 L830.79,155.17 L831.17,156.48 L831.22,157.52 L830.74,158.13 L829.71,158.32 L828.35,158.23 L826.99,158.15 L825.96,158.33 L825.47,158.95 L825.52,159.99 L825.91,161.3 L826.29,162.61 L826.34,163.65 L825.85,164.26 L824.83,164.44 L823.46,164.36 L822.1,164.28 L821.07,164.46 L820.59,165.07" fill="none" stroke="#8cb0ee" stroke-width="0.6" stroke-linecap="round" stroke-linejoin="round" stroke-dasharray="1.2 2.4" opacity="0.9"/>
<path d="M833.42,136.9 L832.61,135.83 L831.82,135.18 L831.07,135.23 L830.36,135.96 L829.67,137.12 L828.99,138.27 L828.28,139 L827.53,139.05 L826.74,138.4 L825.93,137.33 L825.12,136.25 L824.33,135.61 L823.58,135.65 L822.87,136.38 L822.18,137.54 L821.5,138.7 L820.79,139.43 L820.04,139.47 L819.25,138.82 L818.44,137.75 L817.63,136.68 L816.84,136.03 L816.09,136.07 L815.38,136.8 L814.69,137.96 L814.01,139.12 L813.3,139.85 L812.55,139.89 L811.76,139.25 L810.95,138.17 L810.14,137.1 L809.35,136.45 L808.6,136.5" fill="none" stroke="#3c62b4" stroke-width="1.35" stroke-linecap="round" stroke-linejoin="round"/>
<path d="M833.42,136.9 L832.61,135.83 L831.82,135.18 L831.07,135.23 L830.36,135.96 L829.67,137.12 L828.99,138.27 L828.28,139 L827.53,139.05 L826.74,138.4 L825.93,137.33 L825.12,136.25 L824.33,135.61 L823.58,135.65 L822.87,136.38 L822.18,137.54 L821.5,138.7 L820.79,139.43 L820.04,139.47 L819.25,138.82 L818.44,137.75 L817.63,136.68 L816.84,136.03 L816.09,136.07 L815.38,136.8 L814.69,137.96 L814.01,139.12 L813.3,139.85 L812.55,139.89 L811.76,139.25 L810.95,138.17 L810.14,137.1 L809.35,136.45 L808.6,136.5" fill="none" stroke="#8cb0ee" stroke-width="0.6" stroke-linecap="round" stroke-linejoin="round" stroke-dasharray="1.2 2.4" opacity="0.9"/>
<circle cx="842.07" cy="123.99" r="2.3" fill="#f6b400"/>
<circle cx="857.72" cy="131.3" r="2.3" fill="#f6b400"/>
<circle cx="854.9" cy="145.3" r="2.3" fill="#f6b400"/>
<circle cx="837.92" cy="146.21" r="2.3" fill="#f6b400"/>
<circle cx="833.12" cy="136.92" r="2.3" fill="#f6b400"/>
<circle cx="845.9" cy="136.2" r="12.8" fill="url(#gNPb)"/>
<text transform="translate(472.5,254.7) rotate(-44)" font-size="11" fill="#151515">pH 3</text>
<text transform="translate(496.9,256.3) rotate(-44)" font-size="11" fill="#151515">salt-aging</text>
<text transform="translate(522.3,256.6) rotate(-44)" font-size="11" fill="#151515">NaF/NaBr</text>
<text transform="translate(547.3,254.7) rotate(-44)" font-size="11" fill="#151515">pH 3</text>
<text transform="translate(569.9,256.4) rotate(-44)" font-size="11" fill="#151515">salt-aging</text>
<text transform="translate(594.7,255.9) rotate(-44)" font-size="11" fill="#151515">NaF/NaBr</text>
<text transform="translate(619.3,255.5) rotate(-44)" font-size="11" fill="#151515">pH 3</text>
<text transform="translate(640.5,256.4) rotate(-44)" font-size="11" fill="#151515">salt-aging</text>
<text transform="translate(665.3,255.9) rotate(-44)" font-size="11" fill="#151515">NaF/NaBr</text>
<text transform="translate(727,254.4) rotate(-44)" font-size="11" fill="#151515">pH 3</text>
<text transform="translate(751.1,256) rotate(-44)" font-size="11" fill="#151515">salt-aging</text>
<text transform="translate(776,256) rotate(-44)" font-size="11" fill="#151515">NaF/NaBr</text>
<text transform="translate(800.6,254.4) rotate(-44)" font-size="11" fill="#151515">pH 3</text>
<text transform="translate(823.4,256) rotate(-44)" font-size="11" fill="#151515">salt-aging</text>
<text transform="translate(848.9,256.2) rotate(-44)" font-size="11" fill="#151515">NaF/NaBr</text>
<text transform="translate(873.5,254.8) rotate(-44)" font-size="11" fill="#151515">pH 3</text>
<text transform="translate(894.7,256.4) rotate(-44)" font-size="11" fill="#151515">salt-aging</text>
<text transform="translate(920.2,256.4) rotate(-44)" font-size="11" fill="#151515">NaF/NaBr</text>
<rect x="465.5" y="260.8" width="65" height="1.3" fill="#1db35a"/>
<text x="479.2" y="276.8" font-size="15.3" fill="#1db35a" font-weight="normal" text-anchor="start" textLength="39.9" lengthAdjust="spacingAndGlyphs">PS2M</text>
<rect x="537.2" y="260.8" width="64.7" height="1.3" fill="#b2bf2c"/>
<text x="545.1" y="276.8" font-size="15.3" fill="#b2bf2c" font-weight="normal" text-anchor="start" textLength="54.5" lengthAdjust="spacingAndGlyphs">PS2M-A</text>
<rect x="608.4" y="260.8" width="65.4" height="1.3" fill="#e3a21e"/>
<text x="616.8" y="276.8" font-size="15.3" fill="#e3a21e" font-weight="normal" text-anchor="start" textLength="52.7" lengthAdjust="spacingAndGlyphs">PS2M-T</text>
<rect x="720.6" y="260.8" width="65.4" height="1.3" fill="#2424e6"/>
<text x="739.8" y="276.8" font-size="15.3" fill="#2424e6" font-weight="normal" text-anchor="start" textLength="30.8" lengthAdjust="spacingAndGlyphs">CEA</text>
<rect x="793.5" y="260.8" width="65.4" height="1.3" fill="#22a9cc"/>
<text x="802.7" y="276.8" font-size="15.3" fill="#22a9cc" font-weight="normal" text-anchor="start" textLength="45.1" lengthAdjust="spacingAndGlyphs">CEA-A</text>
<rect x="865.5" y="260.8" width="65.4" height="1.3" fill="#9232e6"/>
<text x="874.6" y="276.8" font-size="15.3" fill="#9232e6" font-weight="normal" text-anchor="start" textLength="43.6" lengthAdjust="spacingAndGlyphs">CEA-T</text>
<rect x="459" y="278.4" width="223" height="78.6" fill="url(#gGelL)"/><rect x="459" y="278.4" width="1.6" height="78.6" fill="#000" opacity="0.04"/><g filter="url(#soft)"><rect x="464.6" y="286.9" width="18.9" height="8.3" rx="1.6" fill="#dfdde3" stroke="#e9e7ed" stroke-width="0.9"/><rect x="465.5" y="313.8" width="17.4" height="7.1" rx="1.6" fill="url(#gBand)"/><rect x="489.2" y="286.9" width="18.4" height="8.3" rx="1.6" fill="#dfdde3" stroke="#e9e7ed" stroke-width="0.9"/><rect x="489.1" y="312" width="17.7" height="7.7" rx="1.6" fill="url(#gBand)"/><rect x="512.8" y="286.9" width="18" height="8.3" rx="1.6" fill="#dfdde3" stroke="#e9e7ed" stroke-width="0.9"/><rect x="512.8" y="312" width="17.6" height="8.2" rx="1.6" fill="url(#gBand)"/><rect x="536.7" y="286.9" width="18.7" height="8.3" rx="1.6" fill="#dfdde3" stroke="#e9e7ed" stroke-width="0.9"/><rect x="536.7" y="312.7" width="17.3" height="7.7" rx="1.6" fill="url(#gBand)"/><rect x="561" y="286.9" width="18" height="8.3" rx="1.6" fill="#dfdde3" stroke="#e9e7ed" stroke-width="0.9"/><rect x="560.5" y="312.7" width="17.6" height="7.7" rx="1.6" fill="url(#gBand)"/><rect x="585.1" y="286.9" width="18.3" height="8.3" rx="1.6" fill="#dfdde3" stroke="#e9e7ed" stroke-width="0.9"/><rect x="584.2" y="312.7" width="17.6" height="7.7" rx="1.6" fill="url(#gBand)"/><rect x="609" y="286.9" width="18.3" height="8.3" rx="1.6" fill="#dfdde3" stroke="#e9e7ed" stroke-width="0.9"/><rect x="608" y="314.3" width="17.4" height="7" rx="1.6" fill="url(#gBand)"/><rect x="632.9" y="286.9" width="18.5" height="8.3" rx="1.6" fill="#dfdde3" stroke="#e9e7ed" stroke-width="0.9"/><rect x="631.9" y="312" width="17.9" height="7.5" rx="1.6" fill="url(#gBand)"/><rect x="657" y="286.9" width="18.2" height="8.3" rx="1.6" fill="#dfdde3" stroke="#e9e7ed" stroke-width="0.9"/><rect x="655.6" y="312" width="17.8" height="7.7" rx="1.6" fill="url(#gBand)"/></g><line x1="466" y1="322.7" x2="673.4" y2="322.7" stroke="#2a2a2a" stroke-width="1.2" stroke-dasharray="2.6 1.6"/>
<rect x="714" y="278.4" width="223" height="78.6" fill="url(#gGelR1)"/><rect x="714" y="278.4" width="1.6" height="78.6" fill="#000" opacity="0.04"/><g filter="url(#soft)"><rect x="718.7" y="286" width="19.8" height="9.2" rx="1.6" fill="#d2d0da" stroke="#dcdae2" stroke-width="0.9"/><rect x="722.1" y="312.7" width="16.9" height="7" rx="1.6" fill="url(#gBand)"/><rect x="743.5" y="286" width="19.4" height="9.2" rx="1.6" fill="#d2d0da" stroke="#dcdae2" stroke-width="0.9"/><rect x="746" y="313.4" width="17.8" height="7.5" rx="1.6" fill="url(#gBand)"/><rect x="768.3" y="286" width="18.9" height="9.2" rx="1.6" fill="#d2d0da" stroke="#dcdae2" stroke-width="0.9"/><rect x="769.6" y="312" width="18.1" height="7" rx="1.6" fill="url(#gBand)"/><rect x="792.8" y="286" width="19.2" height="9.2" rx="1.6" fill="#d2d0da" stroke="#dcdae2" stroke-width="0.9"/><rect x="794" y="312" width="17.4" height="6.5" rx="1.6" fill="url(#gBand)"/><rect x="817.2" y="286" width="19.2" height="9.2" rx="1.6" fill="#d2d0da" stroke="#dcdae2" stroke-width="0.9"/><rect x="817.8" y="312.7" width="17.9" height="7.5" rx="1.6" fill="url(#gBand)"/><rect x="841.5" y="286" width="18.5" height="9.2" rx="1.6" fill="#d2d0da" stroke="#dcdae2" stroke-width="0.9"/><rect x="842" y="311.5" width="17.6" height="7" rx="1.6" fill="url(#gBand)"/><rect x="865.6" y="286" width="19" height="9.2" rx="1.6" fill="#d2d0da" stroke="#dcdae2" stroke-width="0.9"/><rect x="865.8" y="315" width="17.4" height="6.3" rx="1.6" fill="url(#gBand)"/><rect x="890.2" y="286" width="18.5" height="9.2" rx="1.6" fill="#d2d0da" stroke="#dcdae2" stroke-width="0.9"/><rect x="889.7" y="312.7" width="17.9" height="7" rx="1.6" fill="url(#gBand)"/><rect x="914.3" y="286" width="18.2" height="9.2" rx="1.6" fill="#d2d0da" stroke="#dcdae2" stroke-width="0.9"/><rect x="913.8" y="311" width="17.4" height="7.5" rx="1.6" fill="url(#gBand)"/></g><line x1="721" y1="323.2" x2="929.6" y2="323.2" stroke="#2a2a2a" stroke-width="1.2" stroke-dasharray="2.6 1.6"/>
<rect x="459" y="362" width="223" height="78" fill="url(#gGel2)"/><rect x="459" y="362" width="1.6" height="78" fill="#000" opacity="0.04"/><g filter="url(#soft)"><rect x="461.8" y="370.6" width="20.3" height="8.3" rx="1.6" fill="#e4e2e8" stroke="#eeecf0" stroke-width="0.9"/><rect x="463.6" y="395.3" width="18.1" height="8.4" rx="1.6" fill="url(#gBand20)"/><rect x="486.9" y="370.6" width="19.8" height="8.3" rx="1.6" fill="#e4e2e8" stroke="#eeecf0" stroke-width="0.9"/><rect x="488" y="392.3" width="18.5" height="10.3" rx="1.6" fill="url(#gBand20)"/><rect x="511" y="370.6" width="20.5" height="8.3" rx="1.6" fill="#e4e2e8" stroke="#eeecf0" stroke-width="0.9"/><rect x="512.3" y="393" width="18.1" height="10.3" rx="1.6" fill="url(#gBand20)"/><rect x="536" y="370.6" width="20.3" height="8.3" rx="1.6" fill="#e4e2e8" stroke="#eeecf0" stroke-width="0.9"/><rect x="536.7" y="393.5" width="17.8" height="9.1" rx="1.6" fill="url(#gBand20)"/><rect x="560.8" y="370.6" width="20.1" height="8.3" rx="1.6" fill="#e4e2e8" stroke="#eeecf0" stroke-width="0.9"/><rect x="561" y="392.3" width="18.1" height="9.6" rx="1.6" fill="url(#gBand20)"/><rect x="585.4" y="370.6" width="19.6" height="8.3" rx="1.6" fill="#e4e2e8" stroke="#eeecf0" stroke-width="0.9"/><rect x="585.3" y="393.5" width="18.6" height="9.1" rx="1.6" fill="url(#gBand20)"/><rect x="609.7" y="370.6" width="19.9" height="8.3" rx="1.6" fill="#e4e2e8" stroke="#eeecf0" stroke-width="0.9"/><rect x="609.7" y="394" width="18.1" height="8.6" rx="1.6" fill="url(#gBand20)"/><rect x="634.5" y="370.6" width="19.4" height="8.3" rx="1.6" fill="#e4e2e8" stroke="#eeecf0" stroke-width="0.9"/><rect x="634" y="391.8" width="18.1" height="9.1" rx="1.6" fill="url(#gBand20)"/><rect x="658.9" y="370.6" width="19.1" height="8.3" rx="1.6" fill="#e4e2e8" stroke="#eeecf0" stroke-width="0.9"/><rect x="658.4" y="392.3" width="18.5" height="9.1" rx="1.6" fill="url(#gBand20)"/></g><line x1="463.6" y1="404.9" x2="678" y2="404.9" stroke="#2a2a2a" stroke-width="1.3" stroke-dasharray="3.2 1.6"/>
<rect x="714" y="362" width="223" height="78" fill="url(#gGel2)"/><rect x="714" y="362" width="1.6" height="78" fill="#000" opacity="0.04"/><g filter="url(#soft)"><rect x="718.7" y="369.9" width="19.1" height="7.4" rx="1.6" fill="#e4e2e8" stroke="#eeecf0" stroke-width="0.9"/><rect x="719.1" y="393.5" width="17.6" height="8.4" rx="1.6" fill="url(#gBand20)"/><rect x="743.5" y="369.9" width="19.1" height="7.4" rx="1.6" fill="#e4e2e8" stroke="#eeecf0" stroke-width="0.9"/><rect x="743.7" y="392.3" width="17.8" height="9.6" rx="1.6" fill="url(#gBand20)"/><rect x="768.3" y="369.9" width="19.4" height="7.4" rx="1.6" fill="#e4e2e8" stroke="#eeecf0" stroke-width="0.9"/><rect x="768.5" y="391.1" width="17.4" height="9.8" rx="1.6" fill="url(#gBand20)"/><rect x="795.2" y="369.9" width="18.4" height="7.4" rx="1.6" fill="#e4e2e8" stroke="#eeecf0" stroke-width="0.9"/><rect x="795.6" y="393" width="18.1" height="7.2" rx="1.6" fill="url(#gBand20)"/><rect x="819.3" y="369.9" width="18.2" height="7.4" rx="1.6" fill="#e4e2e8" stroke="#eeecf0" stroke-width="0.9"/><rect x="819.5" y="394.6" width="17.8" height="6.8" rx="1.6" fill="url(#gBand20)"/><rect x="843.2" y="369.9" width="18.7" height="7.4" rx="1.6" fill="#e4e2e8" stroke="#eeecf0" stroke-width="0.9"/><rect x="843.3" y="392.3" width="17.9" height="7.3" rx="1.6" fill="url(#gBand20)"/><rect x="867.5" y="369.9" width="18.7" height="7.4" rx="1.6" fill="#e4e2e8" stroke="#eeecf0" stroke-width="0.9"/><rect x="867" y="396.9" width="18.1" height="7.3" rx="1.6" fill="url(#gBand20)"/><rect x="890.7" y="369.9" width="18.7" height="7.4" rx="1.6" fill="#e4e2e8" stroke="#eeecf0" stroke-width="0.9"/><rect x="890.6" y="393.5" width="18.1" height="7.9" rx="1.6" fill="url(#gBand20)"/><rect x="915" y="369.9" width="18.2" height="7.4" rx="1.6" fill="#e4e2e8" stroke="#eeecf0" stroke-width="0.9"/><rect x="914.5" y="392.3" width="17.4" height="7.9" rx="1.6" fill="url(#gBand20)"/></g><line x1="719" y1="404.9" x2="931.4" y2="404.9" stroke="#2a2a2a" stroke-width="1.3" stroke-dasharray="3.2 1.6"/>
<rect x="459" y="445" width="223" height="78" fill="url(#gGel3)"/><rect x="459" y="445" width="1.6" height="78" fill="#000" opacity="0.04"/><g filter="url(#soft)"><rect x="462.1" y="461.2" width="18.1" height="20.4" fill="url(#gLaneL)"/><rect x="461.8" y="452.9" width="18.7" height="7.8" rx="1.6" fill="#eeecf0" stroke="#f6f5f7" stroke-width="0.9"/><rect x="463.2" y="475.3" width="17.8" height="6.3" rx="1.6" fill="url(#gBand50)"/><rect x="485.8" y="461.2" width="19.2" height="19" fill="url(#gLaneL)"/><rect x="485.5" y="452.9" width="19.8" height="7.8" rx="1.6" fill="#eeecf0" stroke="#f6f5f7" stroke-width="0.9"/><rect x="488" y="473" width="17.8" height="7.2" rx="1.6" fill="url(#gBand50)"/><rect x="511.3" y="461.2" width="18.3" height="19" fill="url(#gLaneL)"/><rect x="511" y="452.9" width="18.9" height="7.8" rx="1.6" fill="#eeecf0" stroke="#f6f5f7" stroke-width="0.9"/><rect x="512.3" y="472.3" width="18.1" height="7.9" rx="1.6" fill="url(#gBand50)"/><rect x="536.3" y="461.2" width="18.1" height="19" fill="url(#gLaneL)"/><rect x="536" y="452.9" width="18.7" height="7.8" rx="1.6" fill="#eeecf0" stroke="#f6f5f7" stroke-width="0.9"/><rect x="536.7" y="474.6" width="18.5" height="5.6" rx="1.6" fill="url(#gBand50)"/><rect x="561.1" y="461.2" width="18.1" height="19" fill="url(#gLaneL)"/><rect x="560.8" y="452.9" width="18.7" height="7.8" rx="1.6" fill="#eeecf0" stroke="#f6f5f7" stroke-width="0.9"/><rect x="561.5" y="473.4" width="18.5" height="6.8" rx="1.6" fill="url(#gBand50)"/><rect x="586.1" y="461.2" width="18.6" height="18.6" fill="url(#gLaneL)"/><rect x="585.8" y="452.9" width="19.2" height="7.8" rx="1.6" fill="#eeecf0" stroke="#f6f5f7" stroke-width="0.9"/><rect x="586" y="473.4" width="18.6" height="6.4" rx="1.6" fill="url(#gBand50)"/><rect x="610.9" y="461.2" width="18.8" height="20.9" fill="url(#gLaneL)"/><rect x="610.6" y="452.9" width="19.4" height="7.8" rx="1.6" fill="#eeecf0" stroke="#f6f5f7" stroke-width="0.9"/><rect x="610.8" y="476.5" width="18.6" height="5.6" rx="1.6" fill="url(#gBand50)"/><rect x="636" y="461.2" width="18.8" height="18.1" fill="url(#gLaneL)"/><rect x="635.7" y="452.9" width="19.4" height="7.8" rx="1.6" fill="#eeecf0" stroke="#f6f5f7" stroke-width="0.9"/><rect x="636.3" y="472.3" width="17.9" height="7" rx="1.6" fill="url(#gBand50)"/><rect x="660.5" y="461.2" width="18.4" height="18.1" fill="url(#gLaneL)"/><rect x="660.2" y="452.9" width="19" height="7.8" rx="1.6" fill="#eeecf0" stroke="#f6f5f7" stroke-width="0.9"/><rect x="660.7" y="472.3" width="17.4" height="7" rx="1.6" fill="url(#gBand50)"/></g><line x1="463.2" y1="483.6" x2="678" y2="483.6" stroke="#111" stroke-width="1.15" stroke-dasharray="2.6 1.7"/>
<rect x="714" y="445" width="223" height="78" fill="url(#gGel3)"/><rect x="714" y="445" width="1.6" height="78" fill="#000" opacity="0.04"/><g filter="url(#soft)"><rect x="717.1" y="459.4" width="17.4" height="20.8" fill="url(#gLane)"/><rect x="716.8" y="452" width="18" height="6.9" rx="1.6" fill="#eeecf0" stroke="#f6f5f7" stroke-width="0.9"/><rect x="716.8" y="475" width="18.1" height="5.2" rx="1.6" fill="url(#gBand50)"/><rect x="742.2" y="459.4" width="17.4" height="21.5" fill="url(#gLane)"/><rect x="741.9" y="452" width="18" height="6.9" rx="1.6" fill="#eeecf0" stroke="#f6f5f7" stroke-width="0.9"/><rect x="741.4" y="475.3" width="18.5" height="5.6" rx="1.6" fill="url(#gBand50)"/><rect x="767" y="459.4" width="16.9" height="20.4" fill="url(#gLane)"/><rect x="766.7" y="452" width="17.5" height="6.9" rx="1.6" fill="#eeecf0" stroke="#f6f5f7" stroke-width="0.9"/><rect x="766.2" y="474.1" width="18.5" height="5.7" rx="1.6" fill="url(#gBand50)"/><rect x="791.8" y="459.4" width="17.6" height="19.2" fill="url(#gLane)"/><rect x="791.5" y="452" width="18.2" height="6.9" rx="1.6" fill="#eeecf0" stroke="#f6f5f7" stroke-width="0.9"/><rect x="791.2" y="473" width="18.5" height="5.6" rx="1.6" fill="url(#gBand50)"/><rect x="816.8" y="459.4" width="17.4" height="20.8" fill="url(#gLane)"/><rect x="816.5" y="452" width="18" height="6.9" rx="1.6" fill="#eeecf0" stroke="#f6f5f7" stroke-width="0.9"/><rect x="816" y="474.1" width="18.5" height="6.1" rx="1.6" fill="url(#gBand50)"/><rect x="841.1" y="459.4" width="18.1" height="19.2" fill="url(#gLane)"/><rect x="840.8" y="452" width="18.7" height="6.9" rx="1.6" fill="#eeecf0" stroke="#f6f5f7" stroke-width="0.9"/><rect x="841" y="473" width="18.6" height="5.6" rx="1.6" fill="url(#gBand50)"/><rect x="866.6" y="459.4" width="17.6" height="24.5" fill="url(#gLane)"/><rect x="866.3" y="452" width="18.2" height="6.9" rx="1.6" fill="#eeecf0" stroke="#f6f5f7" stroke-width="0.9"/><rect x="866.5" y="478.3" width="17.9" height="5.6" rx="1.6" fill="url(#gBand50)"/><rect x="891.4" y="459.4" width="17.7" height="19.9" fill="url(#gLane)"/><rect x="891.1" y="452" width="18.3" height="6.9" rx="1.6" fill="#eeecf0" stroke="#f6f5f7" stroke-width="0.9"/><rect x="891.3" y="473" width="17.9" height="6.3" rx="1.6" fill="url(#gBand50)"/><rect x="916.5" y="459.4" width="16.9" height="19.2" fill="url(#gLane)"/><rect x="916.2" y="452" width="17.5" height="6.9" rx="1.6" fill="#eeecf0" stroke="#f6f5f7" stroke-width="0.9"/><rect x="916.1" y="473" width="17.6" height="5.6" rx="1.6" fill="url(#gBand50)"/></g><line x1="717.5" y1="486.3" x2="933" y2="486.3" stroke="#111" stroke-width="1.15" stroke-dasharray="2.6 1.7"/>
<rect x="866.8" y="459.4" width="17.6" height="20" fill="url(#gLane7)" filter="url(#soft)"/><rect x="866.5" y="478.3" width="17.9" height="5.6" rx="1.6" fill="url(#gBand7)" filter="url(#soft)"/>
<text transform="translate(703.6,318) rotate(-90)" font-size="15.6" fill="#111" text-anchor="middle" textLength="44.5" lengthAdjust="spacingAndGlyphs">13 nm</text>
<text transform="translate(703.6,402) rotate(-90)" font-size="15.6" fill="#111" text-anchor="middle" textLength="44.5" lengthAdjust="spacingAndGlyphs">20 nm</text>
<text transform="translate(703.6,485.2) rotate(-90)" font-size="15.6" fill="#111" text-anchor="middle" textLength="44.5" lengthAdjust="spacingAndGlyphs">50 nm</text></svg>
</body></html>
